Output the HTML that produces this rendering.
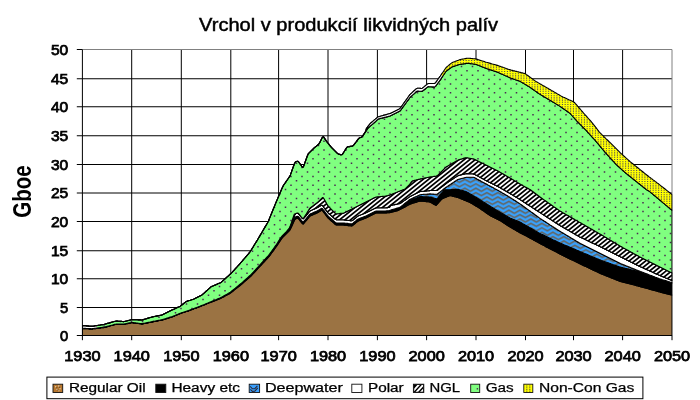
<!DOCTYPE html>
<html><head><meta charset="utf-8"><title>Vrchol v produkcií likvidných palív</title>
<style>html,body{margin:0;padding:0;background:#fff}svg{display:block}
text{font-family:"Liberation Sans",sans-serif;fill:#000}
.b{font-weight:bold}
.m{stroke:#000;stroke-width:0.75px}
.l{stroke:#000;stroke-width:0.25px}
.t{stroke:#000;stroke-width:0.45px}
</style></head><body>
<svg width="700" height="400" viewBox="0 0 700 400">
<defs>
<pattern id="pgas" patternUnits="userSpaceOnUse" width="11" height="44">
<rect width="11" height="44" fill="#80ff80"/>
<path d="M-1.25,-4.00h1.5M9.75,-4.00h1.5M20.75,-4.00h1.5M-6.75,0.40h1.5M4.25,0.40h1.5M15.25,0.40h1.5M-1.25,4.80h1.5M9.75,4.80h1.5M20.75,4.80h1.5M-6.75,9.20h1.5M4.25,9.20h1.5M15.25,9.20h1.5M-1.25,13.60h1.5M9.75,13.60h1.5M20.75,13.60h1.5M-6.75,18.00h1.5M4.25,18.00h1.5M15.25,18.00h1.5M-1.25,22.40h1.5M9.75,22.40h1.5M20.75,22.40h1.5M-6.75,26.80h1.5M4.25,26.80h1.5M15.25,26.80h1.5M-1.25,31.20h1.5M9.75,31.20h1.5M20.75,31.20h1.5M-6.75,35.60h1.5M4.25,35.60h1.5M15.25,35.60h1.5M-1.25,40.00h1.5M9.75,40.00h1.5M20.75,40.00h1.5M-6.75,44.40h1.5M4.25,44.40h1.5M15.25,44.40h1.5" stroke="#4a2a52" stroke-width="1.5" fill="none"/>
</pattern>
<pattern id="pdeep" patternUnits="userSpaceOnUse" width="11" height="22" x="2.85" y="3.4">
<rect width="11" height="22" fill="#38a2ff"/>
<path d="M-5.5,-1.30L0,-4.40L5.5,-1.30L11,-4.40L16.5,-1.30M-5.5,3.10L0,0.00L5.5,3.10L11,0.00L16.5,3.10M-5.5,7.50L0,4.40L5.5,7.50L11,4.40L16.5,7.50M-5.5,11.90L0,8.80L5.5,11.90L11,8.80L16.5,11.90M-5.5,16.30L0,13.20L5.5,16.30L11,13.20L16.5,16.30M-5.5,20.70L0,17.60L5.5,20.70L11,17.60L16.5,20.70M-5.5,25.10L0,22.00L5.5,25.10L11,22.00L16.5,25.10" stroke="#73502c" stroke-width="1.2" stroke-linejoin="round" fill="none"/>
</pattern>
<pattern id="pyel" patternUnits="userSpaceOnUse" width="11" height="11">
<rect width="11" height="11" fill="#ffff00"/>
<path d="M0.90,1.10h1M0.90,3.30h1M0.90,5.50h1M0.90,7.70h1M0.90,9.90h1M3.65,1.10h1M3.65,3.30h1M3.65,5.50h1M3.65,7.70h1M3.65,9.90h1M6.40,1.10h1M6.40,3.30h1M6.40,5.50h1M6.40,7.70h1M6.40,9.90h1M9.15,1.10h1M9.15,3.30h1M9.15,5.50h1M9.15,7.70h1M9.15,9.90h1" stroke="#2a2a66" stroke-opacity="0.9" stroke-width="1.1" fill="none"/>
</pattern>
<clipPath id="cp"><rect x="82" y="40" width="590.5" height="296.3"/></clipPath>
</defs>
<rect width="700" height="400" fill="#fff"/>

<path d="M82.4,307.50H672.0 M82.4,278.75H672.0 M82.4,250.75H672.0 M82.4,221.50H672.0 M82.4,193.00H672.0 M82.4,164.50H672.0 M82.4,135.75H672.0 M82.4,106.75H672.0 M82.4,78.75H672.0 M131.70,49.5V335.5 M181.30,49.5V335.5 M230.80,49.5V335.5 M278.60,49.5V335.5 M328.00,49.5V335.5 M377.40,49.5V335.5 M426.60,49.5V335.5 M476.00,49.5V335.5 M525.50,49.5V335.5 M573.50,49.5V335.5 M622.60,49.5V335.5" stroke="#000" stroke-width="1" fill="none"/>
<path d="M82.4,49.5H672.0V335.5" stroke="#808080" stroke-width="1" fill="none"/>
<g clip-path="url(#cp)" stroke="#000" stroke-width="1.1" stroke-linejoin="round">
<path d="M82.4,328.6 83.4,328.6 84.4,328.7 85.4,328.7 86.4,328.8 87.4,328.8 88.4,328.8 89.4,328.9 90.4,328.9 91.4,329.0 92.4,328.9 93.4,328.8 94.4,328.7 95.4,328.6 96.4,328.4 97.4,328.3 98.4,328.2 99.4,328.1 100.4,327.9 101.4,327.8 102.4,327.7 103.4,327.6 104.4,327.4 105.4,327.1 106.4,326.9 107.4,326.6 108.4,326.3 109.4,326.1 110.4,325.8 111.4,325.5 112.4,325.3 113.4,325.0 114.4,324.7 115.4,324.5 116.4,324.3 117.4,324.3 118.4,324.3 119.4,324.3 120.4,324.3 121.4,324.3 122.4,324.3 123.4,324.3 124.4,324.2 125.4,324.0 126.4,323.8 127.4,323.6 128.4,323.4 129.4,323.2 130.4,323.0 131.4,322.8 132.4,322.8 133.4,322.9 134.4,323.0 135.4,323.1 136.4,323.3 137.4,323.4 138.4,323.5 139.4,323.7 140.4,323.8 141.4,323.9 142.4,323.9 143.4,323.7 144.4,323.5 145.4,323.3 146.4,323.1 147.4,322.9 148.4,322.7 149.4,322.5 150.4,322.3 151.4,322.1 152.4,321.9 153.4,321.7 154.4,321.5 155.4,321.3 156.4,321.1 157.4,320.9 158.4,320.7 159.4,320.5 160.4,320.3 161.4,320.1 162.4,319.9 163.4,319.6 164.4,319.3 165.4,319.0 166.4,318.7 167.4,318.4 168.4,318.1 169.4,317.8 170.4,317.5 171.4,317.2 172.4,316.8 173.4,316.4 174.4,316.0 175.4,315.6 176.4,315.1 177.4,314.7 178.4,314.3 179.4,313.9 180.4,313.5 181.4,313.1 182.4,312.8 183.4,312.5 184.4,312.2 185.4,311.8 186.4,311.5 187.4,311.2 188.4,310.9 189.4,310.5 190.4,310.1 191.4,309.7 192.4,309.4 193.4,309.0 194.4,308.6 195.4,308.2 196.4,307.9 197.4,307.5 198.4,307.1 199.4,306.7 200.4,306.4 201.4,306.0 202.4,305.6 203.4,305.2 204.4,304.8 205.4,304.4 206.4,304.0 207.4,303.6 208.4,303.2 209.4,302.8 210.4,302.5 211.4,302.1 212.4,301.7 213.4,301.3 214.4,300.9 215.4,300.5 216.4,300.1 217.4,299.7 218.4,299.3 219.4,298.9 220.4,298.5 221.4,298.0 222.4,297.4 223.4,296.9 224.4,296.4 225.4,295.8 226.4,295.3 227.4,294.8 228.4,294.2 229.4,293.7 230.4,293.1 231.4,292.3 232.4,291.5 233.4,290.7 234.4,289.9 235.4,289.1 236.4,288.3 237.4,287.5 238.4,286.8 239.4,286.0 240.4,285.2 241.4,284.4 242.4,283.5 243.4,282.6 244.4,281.7 245.4,280.9 246.4,280.0 247.4,279.1 248.4,278.3 249.4,277.4 250.4,276.5 251.4,275.6 252.4,274.5 253.4,273.4 254.4,272.3 255.4,271.3 256.4,270.2 257.4,269.1 258.4,268.0 259.4,266.9 260.4,265.9 261.4,264.8 262.4,263.7 263.4,262.6 264.4,261.6 265.4,260.5 266.4,259.4 267.4,258.3 268.4,257.2 269.4,256.1 270.4,254.7 271.4,253.3 272.4,251.9 273.4,250.6 274.4,249.2 275.4,247.8 276.4,246.4 277.4,244.9 278.4,243.4 279.4,241.9 280.4,240.4 281.4,238.9 282.4,237.6 283.4,236.6 284.4,235.6 285.4,234.6 286.4,233.6 287.4,232.6 288.4,231.6 289.4,230.6 290.4,229.1 291.4,226.9 292.4,224.7 293.4,222.5 294.4,220.3 295.4,218.9 296.4,218.5 297.4,218.2 298.4,218.5 299.4,219.8 300.4,221.1 301.4,222.4 302.4,223.6 303.4,223.9 304.4,222.7 305.4,221.5 306.4,220.3 307.4,219.1 308.4,217.9 309.4,216.7 310.4,215.8 311.4,215.4 312.4,215.0 313.4,214.5 314.4,214.1 315.4,213.7 316.4,213.3 317.4,212.8 318.4,212.2 319.4,211.6 320.4,211.0 321.4,210.4 322.4,210.5 323.4,211.9 324.4,213.2 325.4,214.5 326.4,215.9 327.4,217.2 328.4,218.3 329.4,219.2 330.4,220.1 331.4,221.0 332.4,221.8 333.4,222.7 334.4,223.6 335.4,224.5 336.4,225.0 337.4,225.0 338.4,225.0 339.4,225.0 340.4,225.0 341.4,225.0 342.4,225.0 343.4,225.0 344.4,225.1 345.4,225.2 346.4,225.3 347.4,225.4 348.4,225.6 349.4,225.7 350.4,225.8 351.4,225.9 352.4,225.7 353.4,224.8 354.4,224.0 355.4,223.2 356.4,222.3 357.4,221.5 358.4,220.9 359.4,220.5 360.4,220.1 361.4,219.7 362.4,219.4 363.4,219.0 364.4,218.6 365.4,218.2 366.4,217.8 367.4,217.3 368.4,216.8 369.4,216.3 370.4,215.8 371.4,215.3 372.4,214.8 373.4,214.3 374.4,213.8 375.4,213.3 376.4,213.0 377.4,213.0 378.4,213.0 379.4,213.0 380.4,213.0 381.4,213.0 382.4,213.0 383.4,213.0 384.4,213.0 385.4,213.0 386.4,212.9 387.4,212.8 388.4,212.7 389.4,212.6 390.4,212.4 391.4,212.2 392.4,211.9 393.4,211.7 394.4,211.4 395.4,211.2 396.4,210.9 397.4,210.7 398.4,210.3 399.4,209.8 400.4,209.3 401.4,208.8 402.4,208.3 403.4,207.8 404.4,207.3 405.4,206.7 406.4,206.1 407.4,205.5 408.4,204.9 409.4,204.4 410.4,203.9 411.4,203.6 412.4,203.3 413.4,203.0 414.4,202.7 415.4,202.4 416.4,202.1 417.4,201.8 418.4,201.5 419.4,201.2 420.4,201.0 421.4,201.1 422.4,201.2 423.4,201.3 424.4,201.4 425.4,201.5 426.4,201.6 427.4,201.7 428.4,201.8 429.4,201.9 430.4,202.2 431.4,202.8 432.4,203.4 433.4,204.0 434.4,204.6 435.4,205.1 436.4,205.1 437.4,203.9 438.4,202.8 439.4,201.7 440.4,200.6 441.4,199.5 442.4,198.6 443.4,198.2 444.4,197.8 445.4,197.4 446.4,197.0 447.4,196.6 448.4,196.2 449.4,195.7 450.4,195.6 451.4,195.8 452.4,196.1 453.4,196.3 454.4,196.6 455.4,196.8 456.4,197.1 457.4,197.3 458.4,197.7 459.4,198.1 460.4,198.5 461.4,198.9 462.4,199.3 463.4,199.8 464.4,200.2 465.4,200.6 466.4,201.0 467.4,201.4 468.4,201.8 469.4,202.2 470.4,202.7 471.4,203.3 472.4,203.9 473.4,204.5 474.4,205.1 475.4,205.7 476.4,206.3 477.4,206.9 478.4,207.5 479.4,208.1 480.4,208.8 481.4,209.5 482.4,210.2 483.4,210.9 484.4,211.6 485.4,212.3 486.4,213.0 487.4,213.7 488.4,214.4 489.4,215.1 490.4,215.7 491.4,216.2 492.4,216.7 493.4,217.2 494.4,217.7 495.4,218.2 496.4,218.7 497.4,219.2 498.4,219.7 499.4,220.2 500.4,220.8 501.4,221.4 502.4,222.1 503.4,222.7 504.4,223.4 505.4,224.0 506.4,224.7 507.4,225.3 508.4,226.0 509.4,226.6 510.4,227.2 511.4,227.8 512.4,228.4 513.4,229.0 514.4,229.6 515.4,230.1 516.4,230.7 517.4,231.3 518.4,231.9 519.4,232.5 520.4,233.0 521.4,233.5 522.4,234.0 523.4,234.6 524.4,235.1 525.4,235.6 526.4,236.1 527.4,236.6 528.4,237.2 529.4,237.7 530.4,238.2 531.4,238.8 532.4,239.3 533.4,239.9 534.4,240.4 535.4,241.0 536.4,241.5 537.4,242.1 538.4,242.6 539.4,243.2 540.4,243.7 541.4,244.2 542.4,244.8 543.4,245.3 544.4,245.8 545.4,246.4 546.4,246.9 547.4,247.4 548.4,248.0 549.4,248.5 550.4,249.0 551.4,249.5 552.4,250.0 553.4,250.6 554.4,251.1 555.4,251.6 556.4,252.1 557.4,252.6 558.4,253.2 559.4,253.7 560.4,254.2 561.4,254.7 562.4,255.2 563.4,255.7 564.4,256.2 565.4,256.7 566.4,257.2 567.4,257.7 568.4,258.2 569.4,258.7 570.4,259.2 571.4,259.7 572.4,260.1 573.4,260.6 574.4,261.1 575.4,261.5 576.4,262.0 577.4,262.5 578.4,262.9 579.4,263.4 580.4,263.9 581.4,264.4 582.4,264.9 583.4,265.4 584.4,265.9 585.4,266.3 586.4,266.8 587.4,267.3 588.4,267.8 589.4,268.3 590.4,268.8 591.4,269.3 592.4,269.7 593.4,270.2 594.4,270.7 595.4,271.1 596.4,271.6 597.4,272.1 598.4,272.5 599.4,273.0 600.4,273.5 601.4,273.9 602.4,274.3 603.4,274.7 604.4,275.1 605.4,275.5 606.4,275.9 607.4,276.3 608.4,276.7 609.4,277.1 610.4,277.5 611.4,277.9 612.4,278.3 613.4,278.7 614.4,279.1 615.4,279.5 616.4,279.9 617.4,280.3 618.4,280.7 619.4,281.1 620.4,281.4 621.4,281.7 622.4,281.9 623.4,282.2 624.4,282.4 625.4,282.7 626.4,283.0 627.4,283.2 628.4,283.5 629.4,283.7 630.4,284.0 631.4,284.3 632.4,284.5 633.4,284.8 634.4,285.0 635.4,285.3 636.4,285.6 637.4,285.8 638.4,286.1 639.4,286.3 640.4,286.6 641.4,286.9 642.4,287.2 643.4,287.4 644.4,287.7 645.4,288.0 646.4,288.3 647.4,288.5 648.4,288.8 649.4,289.1 650.4,289.4 651.4,289.6 652.4,289.9 653.4,290.2 654.4,290.5 655.4,290.7 656.4,291.0 657.4,291.3 658.4,291.6 659.4,291.8 660.4,292.1 661.4,292.4 662.4,292.6 663.4,292.9 664.4,293.1 665.4,293.4 666.4,293.6 667.4,293.9 668.4,294.1 669.4,294.4 670.4,294.6 672.0,295.0 L672.0,335.5 670.4,335.5 669.4,335.5 668.4,335.5 667.4,335.5 666.4,335.5 665.4,335.5 664.4,335.5 663.4,335.5 662.4,335.5 661.4,335.5 660.4,335.5 659.4,335.5 658.4,335.5 657.4,335.5 656.4,335.5 655.4,335.5 654.4,335.5 653.4,335.5 652.4,335.5 651.4,335.5 650.4,335.5 649.4,335.5 648.4,335.5 647.4,335.5 646.4,335.5 645.4,335.5 644.4,335.5 643.4,335.5 642.4,335.5 641.4,335.5 640.4,335.5 639.4,335.5 638.4,335.5 637.4,335.5 636.4,335.5 635.4,335.5 634.4,335.5 633.4,335.5 632.4,335.5 631.4,335.5 630.4,335.5 629.4,335.5 628.4,335.5 627.4,335.5 626.4,335.5 625.4,335.5 624.4,335.5 623.4,335.5 622.4,335.5 621.4,335.5 620.4,335.5 619.4,335.5 618.4,335.5 617.4,335.5 616.4,335.5 615.4,335.5 614.4,335.5 613.4,335.5 612.4,335.5 611.4,335.5 610.4,335.5 609.4,335.5 608.4,335.5 607.4,335.5 606.4,335.5 605.4,335.5 604.4,335.5 603.4,335.5 602.4,335.5 601.4,335.5 600.4,335.5 599.4,335.5 598.4,335.5 597.4,335.5 596.4,335.5 595.4,335.5 594.4,335.5 593.4,335.5 592.4,335.5 591.4,335.5 590.4,335.5 589.4,335.5 588.4,335.5 587.4,335.5 586.4,335.5 585.4,335.5 584.4,335.5 583.4,335.5 582.4,335.5 581.4,335.5 580.4,335.5 579.4,335.5 578.4,335.5 577.4,335.5 576.4,335.5 575.4,335.5 574.4,335.5 573.4,335.5 572.4,335.5 571.4,335.5 570.4,335.5 569.4,335.5 568.4,335.5 567.4,335.5 566.4,335.5 565.4,335.5 564.4,335.5 563.4,335.5 562.4,335.5 561.4,335.5 560.4,335.5 559.4,335.5 558.4,335.5 557.4,335.5 556.4,335.5 555.4,335.5 554.4,335.5 553.4,335.5 552.4,335.5 551.4,335.5 550.4,335.5 549.4,335.5 548.4,335.5 547.4,335.5 546.4,335.5 545.4,335.5 544.4,335.5 543.4,335.5 542.4,335.5 541.4,335.5 540.4,335.5 539.4,335.5 538.4,335.5 537.4,335.5 536.4,335.5 535.4,335.5 534.4,335.5 533.4,335.5 532.4,335.5 531.4,335.5 530.4,335.5 529.4,335.5 528.4,335.5 527.4,335.5 526.4,335.5 525.4,335.5 524.4,335.5 523.4,335.5 522.4,335.5 521.4,335.5 520.4,335.5 519.4,335.5 518.4,335.5 517.4,335.5 516.4,335.5 515.4,335.5 514.4,335.5 513.4,335.5 512.4,335.5 511.4,335.5 510.4,335.5 509.4,335.5 508.4,335.5 507.4,335.5 506.4,335.5 505.4,335.5 504.4,335.5 503.4,335.5 502.4,335.5 501.4,335.5 500.4,335.5 499.4,335.5 498.4,335.5 497.4,335.5 496.4,335.5 495.4,335.5 494.4,335.5 493.4,335.5 492.4,335.5 491.4,335.5 490.4,335.5 489.4,335.5 488.4,335.5 487.4,335.5 486.4,335.5 485.4,335.5 484.4,335.5 483.4,335.5 482.4,335.5 481.4,335.5 480.4,335.5 479.4,335.5 478.4,335.5 477.4,335.5 476.4,335.5 475.4,335.5 474.4,335.5 473.4,335.5 472.4,335.5 471.4,335.5 470.4,335.5 469.4,335.5 468.4,335.5 467.4,335.5 466.4,335.5 465.4,335.5 464.4,335.5 463.4,335.5 462.4,335.5 461.4,335.5 460.4,335.5 459.4,335.5 458.4,335.5 457.4,335.5 456.4,335.5 455.4,335.5 454.4,335.5 453.4,335.5 452.4,335.5 451.4,335.5 450.4,335.5 449.4,335.5 448.4,335.5 447.4,335.5 446.4,335.5 445.4,335.5 444.4,335.5 443.4,335.5 442.4,335.5 441.4,335.5 440.4,335.5 439.4,335.5 438.4,335.5 437.4,335.5 436.4,335.5 435.4,335.5 434.4,335.5 433.4,335.5 432.4,335.5 431.4,335.5 430.4,335.5 429.4,335.5 428.4,335.5 427.4,335.5 426.4,335.5 425.4,335.5 424.4,335.5 423.4,335.5 422.4,335.5 421.4,335.5 420.4,335.5 419.4,335.5 418.4,335.5 417.4,335.5 416.4,335.5 415.4,335.5 414.4,335.5 413.4,335.5 412.4,335.5 411.4,335.5 410.4,335.5 409.4,335.5 408.4,335.5 407.4,335.5 406.4,335.5 405.4,335.5 404.4,335.5 403.4,335.5 402.4,335.5 401.4,335.5 400.4,335.5 399.4,335.5 398.4,335.5 397.4,335.5 396.4,335.5 395.4,335.5 394.4,335.5 393.4,335.5 392.4,335.5 391.4,335.5 390.4,335.5 389.4,335.5 388.4,335.5 387.4,335.5 386.4,335.5 385.4,335.5 384.4,335.5 383.4,335.5 382.4,335.5 381.4,335.5 380.4,335.5 379.4,335.5 378.4,335.5 377.4,335.5 376.4,335.5 375.4,335.5 374.4,335.5 373.4,335.5 372.4,335.5 371.4,335.5 370.4,335.5 369.4,335.5 368.4,335.5 367.4,335.5 366.4,335.5 365.4,335.5 364.4,335.5 363.4,335.5 362.4,335.5 361.4,335.5 360.4,335.5 359.4,335.5 358.4,335.5 357.4,335.5 356.4,335.5 355.4,335.5 354.4,335.5 353.4,335.5 352.4,335.5 351.4,335.5 350.4,335.5 349.4,335.5 348.4,335.5 347.4,335.5 346.4,335.5 345.4,335.5 344.4,335.5 343.4,335.5 342.4,335.5 341.4,335.5 340.4,335.5 339.4,335.5 338.4,335.5 337.4,335.5 336.4,335.5 335.4,335.5 334.4,335.5 333.4,335.5 332.4,335.5 331.4,335.5 330.4,335.5 329.4,335.5 328.4,335.5 327.4,335.5 326.4,335.5 325.4,335.5 324.4,335.5 323.4,335.5 322.4,335.5 321.4,335.5 320.4,335.5 319.4,335.5 318.4,335.5 317.4,335.5 316.4,335.5 315.4,335.5 314.4,335.5 313.4,335.5 312.4,335.5 311.4,335.5 310.4,335.5 309.4,335.5 308.4,335.5 307.4,335.5 306.4,335.5 305.4,335.5 304.4,335.5 303.4,335.5 302.4,335.5 301.4,335.5 300.4,335.5 299.4,335.5 298.4,335.5 297.4,335.5 296.4,335.5 295.4,335.5 294.4,335.5 293.4,335.5 292.4,335.5 291.4,335.5 290.4,335.5 289.4,335.5 288.4,335.5 287.4,335.5 286.4,335.5 285.4,335.5 284.4,335.5 283.4,335.5 282.4,335.5 281.4,335.5 280.4,335.5 279.4,335.5 278.4,335.5 277.4,335.5 276.4,335.5 275.4,335.5 274.4,335.5 273.4,335.5 272.4,335.5 271.4,335.5 270.4,335.5 269.4,335.5 268.4,335.5 267.4,335.5 266.4,335.5 265.4,335.5 264.4,335.5 263.4,335.5 262.4,335.5 261.4,335.5 260.4,335.5 259.4,335.5 258.4,335.5 257.4,335.5 256.4,335.5 255.4,335.5 254.4,335.5 253.4,335.5 252.4,335.5 251.4,335.5 250.4,335.5 249.4,335.5 248.4,335.5 247.4,335.5 246.4,335.5 245.4,335.5 244.4,335.5 243.4,335.5 242.4,335.5 241.4,335.5 240.4,335.5 239.4,335.5 238.4,335.5 237.4,335.5 236.4,335.5 235.4,335.5 234.4,335.5 233.4,335.5 232.4,335.5 231.4,335.5 230.4,335.5 229.4,335.5 228.4,335.5 227.4,335.5 226.4,335.5 225.4,335.5 224.4,335.5 223.4,335.5 222.4,335.5 221.4,335.5 220.4,335.5 219.4,335.5 218.4,335.5 217.4,335.5 216.4,335.5 215.4,335.5 214.4,335.5 213.4,335.5 212.4,335.5 211.4,335.5 210.4,335.5 209.4,335.5 208.4,335.5 207.4,335.5 206.4,335.5 205.4,335.5 204.4,335.5 203.4,335.5 202.4,335.5 201.4,335.5 200.4,335.5 199.4,335.5 198.4,335.5 197.4,335.5 196.4,335.5 195.4,335.5 194.4,335.5 193.4,335.5 192.4,335.5 191.4,335.5 190.4,335.5 189.4,335.5 188.4,335.5 187.4,335.5 186.4,335.5 185.4,335.5 184.4,335.5 183.4,335.5 182.4,335.5 181.4,335.5 180.4,335.5 179.4,335.5 178.4,335.5 177.4,335.5 176.4,335.5 175.4,335.5 174.4,335.5 173.4,335.5 172.4,335.5 171.4,335.5 170.4,335.5 169.4,335.5 168.4,335.5 167.4,335.5 166.4,335.5 165.4,335.5 164.4,335.5 163.4,335.5 162.4,335.5 161.4,335.5 160.4,335.5 159.4,335.5 158.4,335.5 157.4,335.5 156.4,335.5 155.4,335.5 154.4,335.5 153.4,335.5 152.4,335.5 151.4,335.5 150.4,335.5 149.4,335.5 148.4,335.5 147.4,335.5 146.4,335.5 145.4,335.5 144.4,335.5 143.4,335.5 142.4,335.5 141.4,335.5 140.4,335.5 139.4,335.5 138.4,335.5 137.4,335.5 136.4,335.5 135.4,335.5 134.4,335.5 133.4,335.5 132.4,335.5 131.4,335.5 130.4,335.5 129.4,335.5 128.4,335.5 127.4,335.5 126.4,335.5 125.4,335.5 124.4,335.5 123.4,335.5 122.4,335.5 121.4,335.5 120.4,335.5 119.4,335.5 118.4,335.5 117.4,335.5 116.4,335.5 115.4,335.5 114.4,335.5 113.4,335.5 112.4,335.5 111.4,335.5 110.4,335.5 109.4,335.5 108.4,335.5 107.4,335.5 106.4,335.5 105.4,335.5 104.4,335.5 103.4,335.5 102.4,335.5 101.4,335.5 100.4,335.5 99.4,335.5 98.4,335.5 97.4,335.5 96.4,335.5 95.4,335.5 94.4,335.5 93.4,335.5 92.4,335.5 91.4,335.5 90.4,335.5 89.4,335.5 88.4,335.5 87.4,335.5 86.4,335.5 85.4,335.5 84.4,335.5 83.4,335.5 82.4,335.5Z" fill="#9b7343"/>
<path d="M82.4,328.3 83.4,328.3 84.4,328.4 85.4,328.4 86.4,328.5 87.4,328.5 88.4,328.5 89.4,328.6 90.4,328.6 91.4,328.7 92.4,328.6 93.4,328.5 94.4,328.4 95.4,328.3 96.4,328.1 97.4,328.0 98.4,327.9 99.4,327.8 100.4,327.6 101.4,327.5 102.4,327.4 103.4,327.3 104.4,327.1 105.4,326.8 106.4,326.6 107.4,326.3 108.4,326.0 109.4,325.8 110.4,325.5 111.4,325.2 112.4,325.0 113.4,324.7 114.4,324.4 115.4,324.2 116.4,324.0 117.4,324.0 118.4,324.0 119.4,324.0 120.4,324.0 121.4,324.0 122.4,324.0 123.4,324.0 124.4,323.9 125.4,323.7 126.4,323.5 127.4,323.3 128.4,323.1 129.4,322.9 130.4,322.7 131.4,322.5 132.4,322.5 133.4,322.6 134.4,322.7 135.4,322.8 136.4,323.0 137.4,323.1 138.4,323.2 139.4,323.4 140.4,323.5 141.4,323.6 142.4,323.6 143.4,323.4 144.4,323.2 145.4,323.0 146.4,322.8 147.4,322.6 148.4,322.4 149.4,322.2 150.4,322.0 151.4,321.8 152.4,321.6 153.4,321.4 154.4,321.2 155.4,321.0 156.4,320.8 157.4,320.6 158.4,320.4 159.4,320.2 160.4,320.0 161.4,319.8 162.4,319.6 163.4,319.3 164.4,319.0 165.4,318.7 166.4,318.4 167.4,318.1 168.4,317.8 169.4,317.5 170.4,317.2 171.4,316.9 172.4,316.5 173.4,316.1 174.4,315.7 175.4,315.3 176.4,314.8 177.4,314.4 178.4,314.0 179.4,313.6 180.4,313.2 181.4,312.8 182.4,312.5 183.4,312.2 184.4,311.9 185.4,311.5 186.4,311.2 187.4,310.9 188.4,310.6 189.4,310.2 190.4,309.8 191.4,309.4 192.4,309.1 193.4,308.7 194.4,308.3 195.4,307.9 196.4,307.6 197.4,307.2 198.4,306.8 199.4,306.4 200.4,306.0 201.4,305.6 202.4,305.2 203.4,304.9 204.4,304.4 205.4,304.0 206.4,303.6 207.4,303.2 208.4,302.8 209.4,302.3 210.4,301.9 211.4,301.5 212.4,301.1 213.4,300.7 214.4,300.3 215.4,299.9 216.4,299.5 217.4,299.0 218.4,298.6 219.4,298.2 220.4,297.8 221.4,297.2 222.4,296.7 223.4,296.1 224.4,295.5 225.4,295.0 226.4,294.4 227.4,293.9 228.4,293.3 229.4,292.8 230.4,292.1 231.4,291.3 232.4,290.5 233.4,289.7 234.4,288.9 235.4,288.1 236.4,287.3 237.4,286.5 238.4,285.6 239.4,284.8 240.4,284.0 241.4,283.2 242.4,282.3 243.4,281.4 244.4,280.5 245.4,279.6 246.4,278.7 247.4,277.8 248.4,276.9 249.4,276.0 250.4,275.2 251.4,274.2 252.4,273.1 253.4,272.0 254.4,270.9 255.4,269.8 256.4,268.7 257.4,267.6 258.4,266.5 259.4,265.4 260.4,264.3 261.4,263.2 262.4,262.1 263.4,261.0 264.4,259.9 265.4,258.8 266.4,257.7 267.4,256.6 268.4,255.5 269.4,254.3 270.4,252.9 271.4,251.5 272.4,250.1 273.4,248.7 274.4,247.3 275.4,245.9 276.4,244.5 277.4,243.0 278.4,241.4 279.4,239.9 280.4,238.4 281.4,236.9 282.4,235.6 283.4,234.6 284.4,233.6 285.4,232.6 286.4,231.6 287.4,230.6 288.4,229.6 289.4,228.6 290.4,227.1 291.4,224.9 292.4,222.7 293.4,220.5 294.4,218.3 295.4,216.9 296.4,216.5 297.4,216.2 298.4,216.5 299.4,217.8 300.4,219.1 301.4,220.4 302.4,221.6 303.4,221.9 304.4,220.7 305.4,219.5 306.4,218.3 307.4,217.1 308.4,215.9 309.4,214.7 310.4,213.8 311.4,213.4 312.4,213.0 313.4,212.5 314.4,212.1 315.4,211.7 316.4,211.3 317.4,210.8 318.4,210.2 319.4,209.6 320.4,209.0 321.4,208.4 322.4,208.5 323.4,209.9 324.4,211.2 325.4,212.5 326.4,213.9 327.4,215.2 328.4,216.3 329.4,217.2 330.4,218.1 331.4,219.0 332.4,219.8 333.4,220.7 334.4,221.6 335.4,222.5 336.4,223.0 337.4,223.0 338.4,223.0 339.4,223.0 340.4,223.0 341.4,223.0 342.4,223.0 343.4,223.0 344.4,223.1 345.4,223.2 346.4,223.3 347.4,223.4 348.4,223.6 349.4,223.7 350.4,223.8 351.4,223.9 352.4,223.7 353.4,222.8 354.4,222.0 355.4,221.2 356.4,220.3 357.4,219.5 358.4,218.9 359.4,218.5 360.4,218.1 361.4,217.7 362.4,217.4 363.4,217.0 364.4,216.6 365.4,216.2 366.4,215.8 367.4,215.3 368.4,214.8 369.4,214.3 370.4,213.8 371.4,213.3 372.4,212.8 373.4,212.3 374.4,211.8 375.4,211.3 376.4,211.0 377.4,211.0 378.4,211.0 379.4,211.0 380.4,211.0 381.4,211.0 382.4,211.0 383.4,211.0 384.4,211.0 385.4,211.0 386.4,210.9 387.4,210.8 388.4,210.7 389.4,210.6 390.4,210.4 391.4,210.1 392.4,209.8 393.4,209.5 394.4,209.2 395.4,208.9 396.4,208.6 397.4,208.3 398.4,208.0 399.4,207.7 400.4,207.2 401.4,206.5 402.4,205.8 403.4,205.1 404.4,204.4 405.4,203.7 406.4,203.0 407.4,202.3 408.4,201.6 409.4,200.9 410.4,200.3 411.4,199.9 412.4,199.5 413.4,199.1 414.4,198.7 415.4,198.3 416.4,197.9 417.4,197.5 418.4,197.1 419.4,196.7 420.4,196.5 421.4,196.6 422.4,196.6 423.4,196.7 424.4,196.7 425.4,196.8 426.4,196.8 427.4,196.9 428.4,196.9 429.4,197.0 430.4,197.1 431.4,197.4 432.4,197.7 433.4,198.0 434.4,198.3 435.4,198.5 436.4,198.8 437.4,198.5 438.4,197.2 439.4,195.9 440.4,194.6 441.4,193.3 442.4,192.1 443.4,190.8 444.4,190.0 445.4,189.9 446.4,189.9 447.4,189.8 448.4,189.8 449.4,189.7 450.4,189.7 451.4,189.6 452.4,189.6 453.4,189.5 454.4,189.5 455.4,189.4 456.4,189.4 457.4,189.3 458.4,189.4 459.4,189.7 460.4,190.0 461.4,190.2 462.4,190.5 463.4,190.8 464.4,191.1 465.4,191.3 466.4,191.7 467.4,192.3 468.4,192.8 469.4,193.4 470.4,194.0 471.4,194.5 472.4,195.1 473.4,195.7 474.4,196.2 475.4,196.9 476.4,197.5 477.4,198.1 478.4,198.8 479.4,199.4 480.4,200.0 481.4,200.6 482.4,201.2 483.4,201.9 484.4,202.5 485.4,203.1 486.4,203.8 487.4,204.4 488.4,205.0 489.4,205.6 490.4,206.2 491.4,206.9 492.4,207.5 493.4,208.1 494.4,208.8 495.4,209.4 496.4,210.0 497.4,210.6 498.4,211.2 499.4,211.8 500.4,212.4 501.4,213.0 502.4,213.6 503.4,214.1 504.4,214.7 505.4,215.3 506.4,215.9 507.4,216.5 508.4,217.1 509.4,217.6 510.4,218.2 511.4,218.6 512.4,219.0 513.4,219.4 514.4,219.8 515.4,220.2 516.4,220.6 517.4,221.0 518.4,221.4 519.4,221.8 520.4,222.2 521.4,222.8 522.4,223.4 523.4,224.0 524.4,224.5 525.4,225.1 526.4,225.7 527.4,226.3 528.4,226.8 529.4,227.4 530.4,228.0 531.4,228.6 532.4,229.1 533.4,229.7 534.4,230.3 535.4,230.9 536.4,231.4 537.4,232.0 538.4,232.6 539.4,233.2 540.4,233.7 541.4,234.2 542.4,234.6 543.4,235.1 544.4,235.6 545.4,236.1 546.4,236.5 547.4,237.0 548.4,237.5 549.4,238.0 550.4,238.4 551.4,238.9 552.4,239.4 553.4,239.9 554.4,240.3 555.4,240.8 556.4,241.3 557.4,241.8 558.4,242.2 559.4,242.7 560.4,243.2 561.4,243.6 562.4,244.0 563.4,244.4 564.4,244.9 565.4,245.3 566.4,245.7 567.4,246.1 568.4,246.6 569.4,247.0 570.4,247.4 571.4,247.8 572.4,248.3 573.4,248.7 574.4,249.1 575.4,249.5 576.4,250.0 577.4,250.4 578.4,250.8 579.4,251.2 580.4,251.7 581.4,252.1 582.4,252.5 583.4,252.9 584.4,253.4 585.4,253.8 586.4,254.2 587.4,254.6 588.4,255.1 589.4,255.5 590.4,255.9 591.4,256.3 592.4,256.8 593.4,257.2 594.4,257.6 595.4,258.0 596.4,258.5 597.4,258.9 598.4,259.3 599.4,259.7 600.4,260.1 601.4,260.5 602.4,260.8 603.4,261.2 604.4,261.5 605.4,261.9 606.4,262.2 607.4,262.6 608.4,262.9 609.4,263.3 610.4,263.6 611.4,264.0 612.4,264.3 613.4,264.7 614.4,265.0 615.4,265.4 616.4,265.7 617.4,266.1 618.4,266.4 619.4,266.8 620.4,267.1 621.4,267.4 622.4,267.6 623.4,267.9 624.4,268.1 625.4,268.4 626.4,268.6 627.4,268.9 628.4,269.1 629.4,269.4 630.4,269.6 631.4,269.9 632.4,270.1 633.4,270.4 634.4,270.6 635.4,270.9 636.4,271.1 637.4,271.4 638.4,271.6 639.4,271.9 640.4,272.1 641.4,272.5 642.4,272.8 643.4,273.2 644.4,273.5 645.4,273.9 646.4,274.2 647.4,274.6 648.4,274.9 649.4,275.3 650.4,275.6 651.4,276.0 652.4,276.3 653.4,276.7 654.4,277.0 655.4,277.4 656.4,277.7 657.4,278.1 658.4,278.4 659.4,278.8 660.4,279.1 661.4,279.5 662.4,279.8 663.4,280.1 664.4,280.5 665.4,280.8 666.4,281.1 667.4,281.5 668.4,281.8 669.4,282.1 670.4,282.5 672.0,283.0 L672.0,295.0 670.4,294.6 669.4,294.4 668.4,294.1 667.4,293.9 666.4,293.6 665.4,293.4 664.4,293.1 663.4,292.9 662.4,292.6 661.4,292.4 660.4,292.1 659.4,291.8 658.4,291.6 657.4,291.3 656.4,291.0 655.4,290.7 654.4,290.5 653.4,290.2 652.4,289.9 651.4,289.6 650.4,289.4 649.4,289.1 648.4,288.8 647.4,288.5 646.4,288.3 645.4,288.0 644.4,287.7 643.4,287.4 642.4,287.2 641.4,286.9 640.4,286.6 639.4,286.3 638.4,286.1 637.4,285.8 636.4,285.6 635.4,285.3 634.4,285.0 633.4,284.8 632.4,284.5 631.4,284.3 630.4,284.0 629.4,283.7 628.4,283.5 627.4,283.2 626.4,283.0 625.4,282.7 624.4,282.4 623.4,282.2 622.4,281.9 621.4,281.7 620.4,281.4 619.4,281.1 618.4,280.7 617.4,280.3 616.4,279.9 615.4,279.5 614.4,279.1 613.4,278.7 612.4,278.3 611.4,277.9 610.4,277.5 609.4,277.1 608.4,276.7 607.4,276.3 606.4,275.9 605.4,275.5 604.4,275.1 603.4,274.7 602.4,274.3 601.4,273.9 600.4,273.5 599.4,273.0 598.4,272.5 597.4,272.1 596.4,271.6 595.4,271.1 594.4,270.7 593.4,270.2 592.4,269.7 591.4,269.3 590.4,268.8 589.4,268.3 588.4,267.8 587.4,267.3 586.4,266.8 585.4,266.3 584.4,265.9 583.4,265.4 582.4,264.9 581.4,264.4 580.4,263.9 579.4,263.4 578.4,262.9 577.4,262.5 576.4,262.0 575.4,261.5 574.4,261.1 573.4,260.6 572.4,260.1 571.4,259.7 570.4,259.2 569.4,258.7 568.4,258.2 567.4,257.7 566.4,257.2 565.4,256.7 564.4,256.2 563.4,255.7 562.4,255.2 561.4,254.7 560.4,254.2 559.4,253.7 558.4,253.2 557.4,252.6 556.4,252.1 555.4,251.6 554.4,251.1 553.4,250.6 552.4,250.0 551.4,249.5 550.4,249.0 549.4,248.5 548.4,248.0 547.4,247.4 546.4,246.9 545.4,246.4 544.4,245.8 543.4,245.3 542.4,244.8 541.4,244.2 540.4,243.7 539.4,243.2 538.4,242.6 537.4,242.1 536.4,241.5 535.4,241.0 534.4,240.4 533.4,239.9 532.4,239.3 531.4,238.8 530.4,238.2 529.4,237.7 528.4,237.2 527.4,236.6 526.4,236.1 525.4,235.6 524.4,235.1 523.4,234.6 522.4,234.0 521.4,233.5 520.4,233.0 519.4,232.5 518.4,231.9 517.4,231.3 516.4,230.7 515.4,230.1 514.4,229.6 513.4,229.0 512.4,228.4 511.4,227.8 510.4,227.2 509.4,226.6 508.4,226.0 507.4,225.3 506.4,224.7 505.4,224.0 504.4,223.4 503.4,222.7 502.4,222.1 501.4,221.4 500.4,220.8 499.4,220.2 498.4,219.7 497.4,219.2 496.4,218.7 495.4,218.2 494.4,217.7 493.4,217.2 492.4,216.7 491.4,216.2 490.4,215.7 489.4,215.1 488.4,214.4 487.4,213.7 486.4,213.0 485.4,212.3 484.4,211.6 483.4,210.9 482.4,210.2 481.4,209.5 480.4,208.8 479.4,208.1 478.4,207.5 477.4,206.9 476.4,206.3 475.4,205.7 474.4,205.1 473.4,204.5 472.4,203.9 471.4,203.3 470.4,202.7 469.4,202.2 468.4,201.8 467.4,201.4 466.4,201.0 465.4,200.6 464.4,200.2 463.4,199.8 462.4,199.3 461.4,198.9 460.4,198.5 459.4,198.1 458.4,197.7 457.4,197.3 456.4,197.1 455.4,196.8 454.4,196.6 453.4,196.3 452.4,196.1 451.4,195.8 450.4,195.6 449.4,195.7 448.4,196.2 447.4,196.6 446.4,197.0 445.4,197.4 444.4,197.8 443.4,198.2 442.4,198.6 441.4,199.5 440.4,200.6 439.4,201.7 438.4,202.8 437.4,203.9 436.4,205.1 435.4,205.1 434.4,204.6 433.4,204.0 432.4,203.4 431.4,202.8 430.4,202.2 429.4,201.9 428.4,201.8 427.4,201.7 426.4,201.6 425.4,201.5 424.4,201.4 423.4,201.3 422.4,201.2 421.4,201.1 420.4,201.0 419.4,201.2 418.4,201.5 417.4,201.8 416.4,202.1 415.4,202.4 414.4,202.7 413.4,203.0 412.4,203.3 411.4,203.6 410.4,203.9 409.4,204.4 408.4,204.9 407.4,205.5 406.4,206.1 405.4,206.7 404.4,207.3 403.4,207.8 402.4,208.3 401.4,208.8 400.4,209.3 399.4,209.8 398.4,210.3 397.4,210.7 396.4,210.9 395.4,211.2 394.4,211.4 393.4,211.7 392.4,211.9 391.4,212.2 390.4,212.4 389.4,212.6 388.4,212.7 387.4,212.8 386.4,212.9 385.4,213.0 384.4,213.0 383.4,213.0 382.4,213.0 381.4,213.0 380.4,213.0 379.4,213.0 378.4,213.0 377.4,213.0 376.4,213.0 375.4,213.3 374.4,213.8 373.4,214.3 372.4,214.8 371.4,215.3 370.4,215.8 369.4,216.3 368.4,216.8 367.4,217.3 366.4,217.8 365.4,218.2 364.4,218.6 363.4,219.0 362.4,219.4 361.4,219.7 360.4,220.1 359.4,220.5 358.4,220.9 357.4,221.5 356.4,222.3 355.4,223.2 354.4,224.0 353.4,224.8 352.4,225.7 351.4,225.9 350.4,225.8 349.4,225.7 348.4,225.6 347.4,225.4 346.4,225.3 345.4,225.2 344.4,225.1 343.4,225.0 342.4,225.0 341.4,225.0 340.4,225.0 339.4,225.0 338.4,225.0 337.4,225.0 336.4,225.0 335.4,224.5 334.4,223.6 333.4,222.7 332.4,221.8 331.4,221.0 330.4,220.1 329.4,219.2 328.4,218.3 327.4,217.2 326.4,215.9 325.4,214.5 324.4,213.2 323.4,211.9 322.4,210.5 321.4,210.4 320.4,211.0 319.4,211.6 318.4,212.2 317.4,212.8 316.4,213.3 315.4,213.7 314.4,214.1 313.4,214.5 312.4,215.0 311.4,215.4 310.4,215.8 309.4,216.7 308.4,217.9 307.4,219.1 306.4,220.3 305.4,221.5 304.4,222.7 303.4,223.9 302.4,223.6 301.4,222.4 300.4,221.1 299.4,219.8 298.4,218.5 297.4,218.2 296.4,218.5 295.4,218.9 294.4,220.3 293.4,222.5 292.4,224.7 291.4,226.9 290.4,229.1 289.4,230.6 288.4,231.6 287.4,232.6 286.4,233.6 285.4,234.6 284.4,235.6 283.4,236.6 282.4,237.6 281.4,238.9 280.4,240.4 279.4,241.9 278.4,243.4 277.4,244.9 276.4,246.4 275.4,247.8 274.4,249.2 273.4,250.6 272.4,251.9 271.4,253.3 270.4,254.7 269.4,256.1 268.4,257.2 267.4,258.3 266.4,259.4 265.4,260.5 264.4,261.6 263.4,262.6 262.4,263.7 261.4,264.8 260.4,265.9 259.4,266.9 258.4,268.0 257.4,269.1 256.4,270.2 255.4,271.3 254.4,272.3 253.4,273.4 252.4,274.5 251.4,275.6 250.4,276.5 249.4,277.4 248.4,278.3 247.4,279.1 246.4,280.0 245.4,280.9 244.4,281.7 243.4,282.6 242.4,283.5 241.4,284.4 240.4,285.2 239.4,286.0 238.4,286.8 237.4,287.5 236.4,288.3 235.4,289.1 234.4,289.9 233.4,290.7 232.4,291.5 231.4,292.3 230.4,293.1 229.4,293.7 228.4,294.2 227.4,294.8 226.4,295.3 225.4,295.8 224.4,296.4 223.4,296.9 222.4,297.4 221.4,298.0 220.4,298.5 219.4,298.9 218.4,299.3 217.4,299.7 216.4,300.1 215.4,300.5 214.4,300.9 213.4,301.3 212.4,301.7 211.4,302.1 210.4,302.5 209.4,302.8 208.4,303.2 207.4,303.6 206.4,304.0 205.4,304.4 204.4,304.8 203.4,305.2 202.4,305.6 201.4,306.0 200.4,306.4 199.4,306.7 198.4,307.1 197.4,307.5 196.4,307.9 195.4,308.2 194.4,308.6 193.4,309.0 192.4,309.4 191.4,309.7 190.4,310.1 189.4,310.5 188.4,310.9 187.4,311.2 186.4,311.5 185.4,311.8 184.4,312.2 183.4,312.5 182.4,312.8 181.4,313.1 180.4,313.5 179.4,313.9 178.4,314.3 177.4,314.7 176.4,315.1 175.4,315.6 174.4,316.0 173.4,316.4 172.4,316.8 171.4,317.2 170.4,317.5 169.4,317.8 168.4,318.1 167.4,318.4 166.4,318.7 165.4,319.0 164.4,319.3 163.4,319.6 162.4,319.9 161.4,320.1 160.4,320.3 159.4,320.5 158.4,320.7 157.4,320.9 156.4,321.1 155.4,321.3 154.4,321.5 153.4,321.7 152.4,321.9 151.4,322.1 150.4,322.3 149.4,322.5 148.4,322.7 147.4,322.9 146.4,323.1 145.4,323.3 144.4,323.5 143.4,323.7 142.4,323.9 141.4,323.9 140.4,323.8 139.4,323.7 138.4,323.5 137.4,323.4 136.4,323.3 135.4,323.1 134.4,323.0 133.4,322.9 132.4,322.8 131.4,322.8 130.4,323.0 129.4,323.2 128.4,323.4 127.4,323.6 126.4,323.8 125.4,324.0 124.4,324.2 123.4,324.3 122.4,324.3 121.4,324.3 120.4,324.3 119.4,324.3 118.4,324.3 117.4,324.3 116.4,324.3 115.4,324.5 114.4,324.7 113.4,325.0 112.4,325.3 111.4,325.5 110.4,325.8 109.4,326.1 108.4,326.3 107.4,326.6 106.4,326.9 105.4,327.1 104.4,327.4 103.4,327.6 102.4,327.7 101.4,327.8 100.4,327.9 99.4,328.1 98.4,328.2 97.4,328.3 96.4,328.4 95.4,328.6 94.4,328.7 93.4,328.8 92.4,328.9 91.4,329.0 90.4,328.9 89.4,328.9 88.4,328.8 87.4,328.8 86.4,328.8 85.4,328.7 84.4,328.7 83.4,328.6 82.4,328.6Z" fill="#000"/>
<path d="M82.4,328.3 83.4,328.3 84.4,328.4 85.4,328.4 86.4,328.5 87.4,328.5 88.4,328.5 89.4,328.6 90.4,328.6 91.4,328.7 92.4,328.6 93.4,328.5 94.4,328.4 95.4,328.3 96.4,328.1 97.4,328.0 98.4,327.9 99.4,327.8 100.4,327.6 101.4,327.5 102.4,327.4 103.4,327.3 104.4,327.1 105.4,326.8 106.4,326.6 107.4,326.3 108.4,326.0 109.4,325.8 110.4,325.5 111.4,325.2 112.4,325.0 113.4,324.7 114.4,324.4 115.4,324.2 116.4,324.0 117.4,324.0 118.4,324.0 119.4,324.0 120.4,324.0 121.4,324.0 122.4,324.0 123.4,324.0 124.4,323.9 125.4,323.7 126.4,323.5 127.4,323.3 128.4,323.1 129.4,322.9 130.4,322.7 131.4,322.5 132.4,322.5 133.4,322.6 134.4,322.7 135.4,322.8 136.4,323.0 137.4,323.1 138.4,323.2 139.4,323.4 140.4,323.5 141.4,323.6 142.4,323.6 143.4,323.4 144.4,323.2 145.4,323.0 146.4,322.8 147.4,322.6 148.4,322.4 149.4,322.2 150.4,322.0 151.4,321.8 152.4,321.6 153.4,321.4 154.4,321.2 155.4,321.0 156.4,320.8 157.4,320.6 158.4,320.4 159.4,320.2 160.4,320.0 161.4,319.8 162.4,319.6 163.4,319.3 164.4,319.0 165.4,318.7 166.4,318.4 167.4,318.1 168.4,317.8 169.4,317.5 170.4,317.2 171.4,316.9 172.4,316.5 173.4,316.1 174.4,315.7 175.4,315.3 176.4,314.8 177.4,314.4 178.4,314.0 179.4,313.6 180.4,313.2 181.4,312.8 182.4,312.5 183.4,312.2 184.4,311.9 185.4,311.5 186.4,311.2 187.4,310.9 188.4,310.6 189.4,310.2 190.4,309.8 191.4,309.4 192.4,309.1 193.4,308.7 194.4,308.3 195.4,307.9 196.4,307.6 197.4,307.2 198.4,306.8 199.4,306.4 200.4,306.0 201.4,305.6 202.4,305.2 203.4,304.9 204.4,304.4 205.4,304.0 206.4,303.6 207.4,303.2 208.4,302.8 209.4,302.3 210.4,301.9 211.4,301.5 212.4,301.1 213.4,300.7 214.4,300.3 215.4,299.9 216.4,299.5 217.4,299.0 218.4,298.6 219.4,298.2 220.4,297.8 221.4,297.2 222.4,296.7 223.4,296.1 224.4,295.5 225.4,295.0 226.4,294.4 227.4,293.9 228.4,293.3 229.4,292.8 230.4,292.1 231.4,291.3 232.4,290.5 233.4,289.7 234.4,288.9 235.4,288.1 236.4,287.3 237.4,286.5 238.4,285.6 239.4,284.8 240.4,284.0 241.4,283.2 242.4,282.3 243.4,281.4 244.4,280.5 245.4,279.6 246.4,278.7 247.4,277.8 248.4,276.9 249.4,276.0 250.4,275.2 251.4,274.2 252.4,273.1 253.4,272.0 254.4,270.9 255.4,269.8 256.4,268.7 257.4,267.6 258.4,266.5 259.4,265.4 260.4,264.3 261.4,263.2 262.4,262.1 263.4,261.0 264.4,259.9 265.4,258.8 266.4,257.7 267.4,256.6 268.4,255.5 269.4,254.3 270.4,252.9 271.4,251.5 272.4,250.1 273.4,248.7 274.4,247.3 275.4,245.9 276.4,244.5 277.4,243.0 278.4,241.4 279.4,239.9 280.4,238.4 281.4,236.9 282.4,235.6 283.4,234.6 284.4,233.6 285.4,232.6 286.4,231.6 287.4,230.6 288.4,229.6 289.4,228.6 290.4,227.1 291.4,224.9 292.4,222.7 293.4,220.5 294.4,218.3 295.4,216.9 296.4,216.5 297.4,216.2 298.4,216.5 299.4,217.8 300.4,219.1 301.4,220.4 302.4,221.6 303.4,221.9 304.4,220.7 305.4,219.5 306.4,218.3 307.4,217.1 308.4,215.9 309.4,214.7 310.4,213.8 311.4,213.4 312.4,213.0 313.4,212.5 314.4,212.1 315.4,211.7 316.4,211.3 317.4,210.8 318.4,210.2 319.4,209.6 320.4,209.0 321.4,208.4 322.4,208.5 323.4,209.9 324.4,211.2 325.4,212.5 326.4,213.9 327.4,215.2 328.4,216.3 329.4,217.2 330.4,218.1 331.4,219.0 332.4,219.8 333.4,220.7 334.4,221.6 335.4,222.5 336.4,223.0 337.4,223.0 338.4,223.0 339.4,223.0 340.4,223.0 341.4,223.0 342.4,223.0 343.4,223.0 344.4,223.1 345.4,223.2 346.4,223.3 347.4,223.4 348.4,223.6 349.4,223.7 350.4,223.8 351.4,223.9 352.4,223.7 353.4,222.8 354.4,222.0 355.4,221.2 356.4,220.3 357.4,219.5 358.4,218.9 359.4,218.5 360.4,218.1 361.4,217.7 362.4,217.4 363.4,217.0 364.4,216.6 365.4,216.2 366.4,215.8 367.4,215.3 368.4,214.8 369.4,214.3 370.4,213.8 371.4,213.3 372.4,212.8 373.4,212.3 374.4,211.8 375.4,211.3 376.4,211.0 377.4,211.0 378.4,211.0 379.4,211.0 380.4,211.0 381.4,211.0 382.4,211.0 383.4,211.0 384.4,211.0 385.4,211.0 386.4,210.9 387.4,210.8 388.4,210.7 389.4,210.6 390.4,210.2 391.4,209.9 392.4,209.6 393.4,209.3 394.4,209.0 395.4,208.7 396.4,208.4 397.4,208.1 398.4,207.8 399.4,207.5 400.4,207.0 401.4,206.2 402.4,205.4 403.4,204.6 404.4,203.8 405.4,203.0 406.4,202.2 407.4,201.4 408.4,200.6 409.4,199.8 410.4,199.1 411.4,198.7 412.4,198.2 413.4,197.7 414.4,197.3 415.4,196.8 416.4,196.4 417.4,195.9 418.4,195.4 419.4,195.0 420.4,194.7 421.4,194.6 422.4,194.5 423.4,194.4 424.4,194.3 425.4,194.3 426.4,194.2 427.4,194.1 428.4,194.0 429.4,193.9 430.4,193.9 431.4,194.0 432.4,194.0 433.4,194.1 434.4,194.2 435.4,194.2 436.4,194.3 437.4,194.0 438.4,193.2 439.4,192.4 440.4,191.7 441.4,190.9 442.4,190.1 443.4,189.3 444.4,188.5 445.4,187.8 446.4,187.0 447.4,186.4 448.4,185.7 449.4,185.0 450.4,184.4 451.4,183.7 452.4,183.0 453.4,182.4 454.4,181.7 455.4,181.0 456.4,180.4 457.4,179.7 458.4,179.2 459.4,179.0 460.4,178.7 461.4,178.5 462.4,178.2 463.4,178.0 464.4,177.7 465.4,177.5 466.4,177.3 467.4,177.3 468.4,177.3 469.4,177.3 470.4,177.3 471.4,177.3 472.4,177.3 473.4,177.3 474.4,177.5 475.4,178.1 476.4,178.6 477.4,179.2 478.4,179.7 479.4,180.3 480.4,180.8 481.4,181.4 482.4,181.9 483.4,182.5 484.4,183.0 485.4,183.6 486.4,184.1 487.4,184.6 488.4,185.2 489.4,185.7 490.4,186.2 491.4,186.8 492.4,187.3 493.4,187.8 494.4,188.4 495.4,188.9 496.4,189.4 497.4,190.0 498.4,190.5 499.4,191.1 500.4,191.7 501.4,192.3 502.4,192.9 503.4,193.4 504.4,194.0 505.4,194.6 506.4,195.2 507.4,195.8 508.4,196.4 509.4,196.9 510.4,197.6 511.4,198.2 512.4,198.9 513.4,199.5 514.4,200.2 515.4,200.8 516.4,201.5 517.4,202.1 518.4,202.8 519.4,203.4 520.4,204.1 521.4,204.8 522.4,205.5 523.4,206.3 524.4,207.0 525.4,207.7 526.4,208.4 527.4,209.2 528.4,209.9 529.4,210.6 530.4,211.3 531.4,212.1 532.4,212.8 533.4,213.5 534.4,214.2 535.4,215.0 536.4,215.7 537.4,216.4 538.4,217.1 539.4,217.9 540.4,218.6 541.4,219.2 542.4,219.9 543.4,220.5 544.4,221.2 545.4,221.8 546.4,222.5 547.4,223.1 548.4,223.8 549.4,224.4 550.4,225.1 551.4,225.7 552.4,226.4 553.4,227.0 554.4,227.7 555.4,228.3 556.4,229.0 557.4,229.6 558.4,230.3 559.4,230.9 560.4,231.5 561.4,232.1 562.4,232.7 563.4,233.3 564.4,233.9 565.4,234.5 566.4,235.1 567.4,235.7 568.4,236.3 569.4,236.9 570.4,237.5 571.4,238.1 572.4,238.7 573.4,239.3 574.4,239.9 575.4,240.5 576.4,241.1 577.4,241.7 578.4,242.3 579.4,242.9 580.4,243.5 581.4,244.0 582.4,244.5 583.4,245.0 584.4,245.5 585.4,246.0 586.4,246.5 587.4,247.0 588.4,247.5 589.4,248.0 590.4,248.5 591.4,249.0 592.4,249.5 593.4,250.0 594.4,250.5 595.4,251.0 596.4,251.5 597.4,252.0 598.4,252.5 599.4,253.0 600.4,253.5 601.4,254.0 602.4,254.5 603.4,255.0 604.4,255.5 605.4,256.0 606.4,256.5 607.4,257.0 608.4,257.5 609.4,258.0 610.4,258.5 611.4,259.0 612.4,259.5 613.4,260.0 614.4,260.5 615.4,261.0 616.4,261.5 617.4,262.0 618.4,262.5 619.4,263.0 620.4,263.5 621.4,263.9 622.4,264.3 623.4,264.7 624.4,265.1 625.4,265.5 626.4,265.9 627.4,266.3 628.4,266.7 629.4,267.1 630.4,267.5 631.4,267.9 632.4,268.3 633.4,268.7 634.4,269.1 635.4,269.5 636.4,269.9 637.4,270.3 638.4,270.7 639.4,271.1 640.4,271.5 641.4,271.8 642.4,272.2 643.4,272.6 644.4,273.0 645.4,273.4 646.4,273.7 647.4,274.1 648.4,274.5 649.4,274.9 650.4,275.3 651.4,275.6 652.4,276.0 653.4,276.4 654.4,276.8 655.4,277.2 656.4,277.5 657.4,277.9 658.4,278.3 659.4,278.7 660.4,279.0 661.4,279.3 662.4,279.7 663.4,280.0 664.4,280.3 665.4,280.6 666.4,280.9 667.4,281.2 668.4,281.6 669.4,281.9 670.4,282.2 672.0,282.7 L672.0,283.0 670.4,282.5 669.4,282.1 668.4,281.8 667.4,281.5 666.4,281.1 665.4,280.8 664.4,280.5 663.4,280.1 662.4,279.8 661.4,279.5 660.4,279.1 659.4,278.8 658.4,278.4 657.4,278.1 656.4,277.7 655.4,277.4 654.4,277.0 653.4,276.7 652.4,276.3 651.4,276.0 650.4,275.6 649.4,275.3 648.4,274.9 647.4,274.6 646.4,274.2 645.4,273.9 644.4,273.5 643.4,273.2 642.4,272.8 641.4,272.5 640.4,272.1 639.4,271.9 638.4,271.6 637.4,271.4 636.4,271.1 635.4,270.9 634.4,270.6 633.4,270.4 632.4,270.1 631.4,269.9 630.4,269.6 629.4,269.4 628.4,269.1 627.4,268.9 626.4,268.6 625.4,268.4 624.4,268.1 623.4,267.9 622.4,267.6 621.4,267.4 620.4,267.1 619.4,266.8 618.4,266.4 617.4,266.1 616.4,265.7 615.4,265.4 614.4,265.0 613.4,264.7 612.4,264.3 611.4,264.0 610.4,263.6 609.4,263.3 608.4,262.9 607.4,262.6 606.4,262.2 605.4,261.9 604.4,261.5 603.4,261.2 602.4,260.8 601.4,260.5 600.4,260.1 599.4,259.7 598.4,259.3 597.4,258.9 596.4,258.5 595.4,258.0 594.4,257.6 593.4,257.2 592.4,256.8 591.4,256.3 590.4,255.9 589.4,255.5 588.4,255.1 587.4,254.6 586.4,254.2 585.4,253.8 584.4,253.4 583.4,252.9 582.4,252.5 581.4,252.1 580.4,251.7 579.4,251.2 578.4,250.8 577.4,250.4 576.4,250.0 575.4,249.5 574.4,249.1 573.4,248.7 572.4,248.3 571.4,247.8 570.4,247.4 569.4,247.0 568.4,246.6 567.4,246.1 566.4,245.7 565.4,245.3 564.4,244.9 563.4,244.4 562.4,244.0 561.4,243.6 560.4,243.2 559.4,242.7 558.4,242.2 557.4,241.8 556.4,241.3 555.4,240.8 554.4,240.3 553.4,239.9 552.4,239.4 551.4,238.9 550.4,238.4 549.4,238.0 548.4,237.5 547.4,237.0 546.4,236.5 545.4,236.1 544.4,235.6 543.4,235.1 542.4,234.6 541.4,234.2 540.4,233.7 539.4,233.2 538.4,232.6 537.4,232.0 536.4,231.4 535.4,230.9 534.4,230.3 533.4,229.7 532.4,229.1 531.4,228.6 530.4,228.0 529.4,227.4 528.4,226.8 527.4,226.3 526.4,225.7 525.4,225.1 524.4,224.5 523.4,224.0 522.4,223.4 521.4,222.8 520.4,222.2 519.4,221.8 518.4,221.4 517.4,221.0 516.4,220.6 515.4,220.2 514.4,219.8 513.4,219.4 512.4,219.0 511.4,218.6 510.4,218.2 509.4,217.6 508.4,217.1 507.4,216.5 506.4,215.9 505.4,215.3 504.4,214.7 503.4,214.1 502.4,213.6 501.4,213.0 500.4,212.4 499.4,211.8 498.4,211.2 497.4,210.6 496.4,210.0 495.4,209.4 494.4,208.8 493.4,208.1 492.4,207.5 491.4,206.9 490.4,206.2 489.4,205.6 488.4,205.0 487.4,204.4 486.4,203.8 485.4,203.1 484.4,202.5 483.4,201.9 482.4,201.2 481.4,200.6 480.4,200.0 479.4,199.4 478.4,198.8 477.4,198.1 476.4,197.5 475.4,196.9 474.4,196.2 473.4,195.7 472.4,195.1 471.4,194.5 470.4,194.0 469.4,193.4 468.4,192.8 467.4,192.3 466.4,191.7 465.4,191.3 464.4,191.1 463.4,190.8 462.4,190.5 461.4,190.2 460.4,190.0 459.4,189.7 458.4,189.4 457.4,189.3 456.4,189.4 455.4,189.4 454.4,189.5 453.4,189.5 452.4,189.6 451.4,189.6 450.4,189.7 449.4,189.7 448.4,189.8 447.4,189.8 446.4,189.9 445.4,189.9 444.4,190.0 443.4,190.8 442.4,192.1 441.4,193.3 440.4,194.6 439.4,195.9 438.4,197.2 437.4,198.5 436.4,198.8 435.4,198.5 434.4,198.3 433.4,198.0 432.4,197.7 431.4,197.4 430.4,197.1 429.4,197.0 428.4,196.9 427.4,196.9 426.4,196.8 425.4,196.8 424.4,196.7 423.4,196.7 422.4,196.6 421.4,196.6 420.4,196.5 419.4,196.7 418.4,197.1 417.4,197.5 416.4,197.9 415.4,198.3 414.4,198.7 413.4,199.1 412.4,199.5 411.4,199.9 410.4,200.3 409.4,200.9 408.4,201.6 407.4,202.3 406.4,203.0 405.4,203.7 404.4,204.4 403.4,205.1 402.4,205.8 401.4,206.5 400.4,207.2 399.4,207.7 398.4,208.0 397.4,208.3 396.4,208.6 395.4,208.9 394.4,209.2 393.4,209.5 392.4,209.8 391.4,210.1 390.4,210.4 389.4,210.6 388.4,210.7 387.4,210.8 386.4,210.9 385.4,211.0 384.4,211.0 383.4,211.0 382.4,211.0 381.4,211.0 380.4,211.0 379.4,211.0 378.4,211.0 377.4,211.0 376.4,211.0 375.4,211.3 374.4,211.8 373.4,212.3 372.4,212.8 371.4,213.3 370.4,213.8 369.4,214.3 368.4,214.8 367.4,215.3 366.4,215.8 365.4,216.2 364.4,216.6 363.4,217.0 362.4,217.4 361.4,217.7 360.4,218.1 359.4,218.5 358.4,218.9 357.4,219.5 356.4,220.3 355.4,221.2 354.4,222.0 353.4,222.8 352.4,223.7 351.4,223.9 350.4,223.8 349.4,223.7 348.4,223.6 347.4,223.4 346.4,223.3 345.4,223.2 344.4,223.1 343.4,223.0 342.4,223.0 341.4,223.0 340.4,223.0 339.4,223.0 338.4,223.0 337.4,223.0 336.4,223.0 335.4,222.5 334.4,221.6 333.4,220.7 332.4,219.8 331.4,219.0 330.4,218.1 329.4,217.2 328.4,216.3 327.4,215.2 326.4,213.9 325.4,212.5 324.4,211.2 323.4,209.9 322.4,208.5 321.4,208.4 320.4,209.0 319.4,209.6 318.4,210.2 317.4,210.8 316.4,211.3 315.4,211.7 314.4,212.1 313.4,212.5 312.4,213.0 311.4,213.4 310.4,213.8 309.4,214.7 308.4,215.9 307.4,217.1 306.4,218.3 305.4,219.5 304.4,220.7 303.4,221.9 302.4,221.6 301.4,220.4 300.4,219.1 299.4,217.8 298.4,216.5 297.4,216.2 296.4,216.5 295.4,216.9 294.4,218.3 293.4,220.5 292.4,222.7 291.4,224.9 290.4,227.1 289.4,228.6 288.4,229.6 287.4,230.6 286.4,231.6 285.4,232.6 284.4,233.6 283.4,234.6 282.4,235.6 281.4,236.9 280.4,238.4 279.4,239.9 278.4,241.4 277.4,243.0 276.4,244.5 275.4,245.9 274.4,247.3 273.4,248.7 272.4,250.1 271.4,251.5 270.4,252.9 269.4,254.3 268.4,255.5 267.4,256.6 266.4,257.7 265.4,258.8 264.4,259.9 263.4,261.0 262.4,262.1 261.4,263.2 260.4,264.3 259.4,265.4 258.4,266.5 257.4,267.6 256.4,268.7 255.4,269.8 254.4,270.9 253.4,272.0 252.4,273.1 251.4,274.2 250.4,275.2 249.4,276.0 248.4,276.9 247.4,277.8 246.4,278.7 245.4,279.6 244.4,280.5 243.4,281.4 242.4,282.3 241.4,283.2 240.4,284.0 239.4,284.8 238.4,285.6 237.4,286.5 236.4,287.3 235.4,288.1 234.4,288.9 233.4,289.7 232.4,290.5 231.4,291.3 230.4,292.1 229.4,292.8 228.4,293.3 227.4,293.9 226.4,294.4 225.4,295.0 224.4,295.5 223.4,296.1 222.4,296.7 221.4,297.2 220.4,297.8 219.4,298.2 218.4,298.6 217.4,299.0 216.4,299.5 215.4,299.9 214.4,300.3 213.4,300.7 212.4,301.1 211.4,301.5 210.4,301.9 209.4,302.3 208.4,302.8 207.4,303.2 206.4,303.6 205.4,304.0 204.4,304.4 203.4,304.9 202.4,305.2 201.4,305.6 200.4,306.0 199.4,306.4 198.4,306.8 197.4,307.2 196.4,307.6 195.4,307.9 194.4,308.3 193.4,308.7 192.4,309.1 191.4,309.4 190.4,309.8 189.4,310.2 188.4,310.6 187.4,310.9 186.4,311.2 185.4,311.5 184.4,311.9 183.4,312.2 182.4,312.5 181.4,312.8 180.4,313.2 179.4,313.6 178.4,314.0 177.4,314.4 176.4,314.8 175.4,315.3 174.4,315.7 173.4,316.1 172.4,316.5 171.4,316.9 170.4,317.2 169.4,317.5 168.4,317.8 167.4,318.1 166.4,318.4 165.4,318.7 164.4,319.0 163.4,319.3 162.4,319.6 161.4,319.8 160.4,320.0 159.4,320.2 158.4,320.4 157.4,320.6 156.4,320.8 155.4,321.0 154.4,321.2 153.4,321.4 152.4,321.6 151.4,321.8 150.4,322.0 149.4,322.2 148.4,322.4 147.4,322.6 146.4,322.8 145.4,323.0 144.4,323.2 143.4,323.4 142.4,323.6 141.4,323.6 140.4,323.5 139.4,323.4 138.4,323.2 137.4,323.1 136.4,323.0 135.4,322.8 134.4,322.7 133.4,322.6 132.4,322.5 131.4,322.5 130.4,322.7 129.4,322.9 128.4,323.1 127.4,323.3 126.4,323.5 125.4,323.7 124.4,323.9 123.4,324.0 122.4,324.0 121.4,324.0 120.4,324.0 119.4,324.0 118.4,324.0 117.4,324.0 116.4,324.0 115.4,324.2 114.4,324.4 113.4,324.7 112.4,325.0 111.4,325.2 110.4,325.5 109.4,325.8 108.4,326.0 107.4,326.3 106.4,326.6 105.4,326.8 104.4,327.1 103.4,327.3 102.4,327.4 101.4,327.5 100.4,327.6 99.4,327.8 98.4,327.9 97.4,328.0 96.4,328.1 95.4,328.3 94.4,328.4 93.4,328.5 92.4,328.6 91.4,328.7 90.4,328.6 89.4,328.6 88.4,328.5 87.4,328.5 86.4,328.5 85.4,328.4 84.4,328.4 83.4,328.3 82.4,328.3Z" fill="url(#pdeep)"/>
<path d="M82.4,328.3 83.4,328.3 84.4,328.4 85.4,328.4 86.4,328.5 87.4,328.5 88.4,328.5 89.4,328.6 90.4,328.6 91.4,328.7 92.4,328.6 93.4,328.5 94.4,328.4 95.4,328.3 96.4,328.1 97.4,328.0 98.4,327.9 99.4,327.8 100.4,327.6 101.4,327.5 102.4,327.4 103.4,327.3 104.4,327.1 105.4,326.8 106.4,326.6 107.4,326.3 108.4,326.0 109.4,325.8 110.4,325.5 111.4,325.2 112.4,325.0 113.4,324.7 114.4,324.4 115.4,324.2 116.4,324.0 117.4,324.0 118.4,324.0 119.4,324.0 120.4,324.0 121.4,324.0 122.4,324.0 123.4,324.0 124.4,323.9 125.4,323.7 126.4,323.5 127.4,323.3 128.4,323.1 129.4,322.9 130.4,322.7 131.4,322.5 132.4,322.5 133.4,322.6 134.4,322.7 135.4,322.8 136.4,323.0 137.4,323.1 138.4,323.2 139.4,323.4 140.4,323.5 141.4,323.6 142.4,323.6 143.4,323.4 144.4,323.2 145.4,323.0 146.4,322.8 147.4,322.6 148.4,322.4 149.4,322.2 150.4,322.0 151.4,321.8 152.4,321.6 153.4,321.4 154.4,321.2 155.4,321.0 156.4,320.8 157.4,320.6 158.4,320.4 159.4,320.2 160.4,320.0 161.4,319.8 162.4,319.6 163.4,319.3 164.4,319.0 165.4,318.7 166.4,318.4 167.4,318.1 168.4,317.8 169.4,317.5 170.4,317.2 171.4,316.9 172.4,316.5 173.4,316.1 174.4,315.7 175.4,315.3 176.4,314.8 177.4,314.4 178.4,314.0 179.4,313.6 180.4,313.2 181.4,312.8 182.4,312.5 183.4,312.2 184.4,311.9 185.4,311.5 186.4,311.2 187.4,310.9 188.4,310.6 189.4,310.2 190.4,309.8 191.4,309.4 192.4,309.1 193.4,308.7 194.4,308.3 195.4,307.9 196.4,307.6 197.4,307.2 198.4,306.8 199.4,306.4 200.4,306.0 201.4,305.6 202.4,305.2 203.4,304.9 204.4,304.4 205.4,304.0 206.4,303.6 207.4,303.2 208.4,302.8 209.4,302.3 210.4,301.9 211.4,301.5 212.4,301.1 213.4,300.7 214.4,300.3 215.4,299.9 216.4,299.5 217.4,299.0 218.4,298.6 219.4,298.2 220.4,297.8 221.4,297.2 222.4,296.7 223.4,296.1 224.4,295.5 225.4,295.0 226.4,294.4 227.4,293.9 228.4,293.3 229.4,292.8 230.4,292.1 231.4,291.3 232.4,290.5 233.4,289.7 234.4,288.9 235.4,288.1 236.4,287.3 237.4,286.5 238.4,285.6 239.4,284.8 240.4,284.0 241.4,283.2 242.4,282.3 243.4,281.4 244.4,280.5 245.4,279.6 246.4,278.7 247.4,277.8 248.4,276.9 249.4,276.0 250.4,275.2 251.4,274.2 252.4,273.1 253.4,272.0 254.4,270.9 255.4,269.8 256.4,268.7 257.4,267.6 258.4,266.5 259.4,265.4 260.4,264.3 261.4,263.2 262.4,262.1 263.4,261.0 264.4,259.9 265.4,258.8 266.4,257.7 267.4,256.6 268.4,255.5 269.4,254.3 270.4,252.9 271.4,251.5 272.4,250.1 273.4,248.7 274.4,247.3 275.4,245.9 276.4,244.5 277.4,243.0 278.4,241.4 279.4,239.9 280.4,238.4 281.4,236.9 282.4,235.6 283.4,234.6 284.4,233.6 285.4,232.6 286.4,231.6 287.4,230.6 288.4,229.6 289.4,228.4 290.4,226.4 291.4,223.6 292.4,220.9 293.4,218.2 294.4,215.4 295.4,213.7 296.4,213.3 297.4,213.0 298.4,213.3 299.4,214.6 300.4,215.9 301.4,217.2 302.4,218.4 303.4,218.7 304.4,217.5 305.4,216.3 306.4,215.1 307.4,213.9 308.4,212.7 309.4,211.5 310.4,210.6 311.4,210.2 312.4,209.8 313.4,209.3 314.4,208.9 315.4,208.5 316.4,208.1 317.4,207.6 318.4,207.0 319.4,206.4 320.4,205.8 321.4,205.2 322.4,205.3 323.4,206.7 324.4,208.0 325.4,209.3 326.4,210.7 327.4,212.0 328.4,213.1 329.4,214.0 330.4,214.9 331.4,215.8 332.4,216.6 333.4,217.5 334.4,218.4 335.4,219.3 336.4,219.8 337.4,219.8 338.4,219.8 339.4,219.8 340.4,219.8 341.4,219.8 342.4,219.8 343.4,219.8 344.4,219.9 345.4,220.0 346.4,220.1 347.4,220.2 348.4,220.4 349.4,220.5 350.4,220.6 351.4,220.7 352.4,220.5 353.4,219.6 354.4,218.8 355.4,218.0 356.4,217.1 357.4,216.3 358.4,215.7 359.4,215.3 360.4,214.9 361.4,214.5 362.4,214.2 363.4,213.8 364.4,213.4 365.4,213.0 366.4,212.6 367.4,212.1 368.4,211.6 369.4,211.1 370.4,210.6 371.4,210.1 372.4,209.6 373.4,209.1 374.4,208.6 375.4,208.1 376.4,207.8 377.4,207.8 378.4,207.8 379.4,207.8 380.4,207.8 381.4,207.8 382.4,207.8 383.4,207.8 384.4,207.8 385.4,207.8 386.4,207.8 387.4,207.6 388.4,207.5 389.4,207.4 390.4,205.4 391.4,205.2 392.4,205.0 393.4,204.8 394.4,204.6 395.4,204.4 396.4,204.2 397.4,204.0 398.4,203.8 399.4,203.6 400.4,203.2 401.4,202.5 402.4,201.8 403.4,201.1 404.4,200.4 405.4,199.7 406.4,199.0 407.4,198.3 408.4,197.6 409.4,196.9 410.4,196.3 411.4,195.8 412.4,195.3 413.4,194.8 414.4,194.3 415.4,193.8 416.4,193.3 417.4,192.8 418.4,192.3 419.4,191.8 420.4,191.5 421.4,191.4 422.4,191.3 423.4,191.2 424.4,191.1 425.4,191.0 426.4,190.9 427.4,190.8 428.4,190.7 429.4,190.6 430.4,190.5 431.4,190.5 432.4,190.5 433.4,190.5 434.4,190.5 435.4,190.5 436.4,190.5 437.4,190.2 438.4,189.4 439.4,188.6 440.4,187.9 441.4,187.1 442.4,186.3 443.4,185.5 444.4,184.7 445.4,184.0 446.4,183.2 447.4,182.6 448.4,181.9 449.4,181.2 450.4,180.6 451.4,179.9 452.4,179.2 453.4,178.6 454.4,177.9 455.4,177.2 456.4,176.6 457.4,175.9 458.4,175.4 459.4,175.2 460.4,174.9 461.4,174.7 462.4,174.4 463.4,174.2 464.4,173.9 465.4,173.7 466.4,173.5 467.4,173.6 468.4,173.6 469.4,173.7 470.4,173.7 471.4,173.8 472.4,173.8 473.4,173.9 474.4,174.1 475.4,174.7 476.4,175.2 477.4,175.8 478.4,176.3 479.4,176.9 480.4,177.4 481.4,178.0 482.4,178.5 483.4,179.1 484.4,179.6 485.4,180.2 486.4,180.7 487.4,181.2 488.4,181.7 489.4,182.2 490.4,182.7 491.4,183.2 492.4,183.7 493.4,184.2 494.4,184.7 495.4,185.2 496.4,185.7 497.4,186.2 498.4,186.7 499.4,187.3 500.4,187.9 501.4,188.5 502.4,189.1 503.4,189.6 504.4,190.2 505.4,190.8 506.4,191.4 507.4,192.0 508.4,192.6 509.4,193.1 510.4,193.7 511.4,194.3 512.4,194.9 513.4,195.5 514.4,196.1 515.4,196.7 516.4,197.3 517.4,197.9 518.4,198.5 519.4,199.1 520.4,199.8 521.4,200.4 522.4,201.1 523.4,201.7 524.4,202.4 525.4,203.0 526.4,203.7 527.4,204.3 528.4,205.0 529.4,205.6 530.4,206.3 531.4,206.9 532.4,207.6 533.4,208.2 534.4,208.9 535.4,209.5 536.4,210.2 537.4,210.8 538.4,211.5 539.4,212.1 540.4,212.8 541.4,213.4 542.4,214.1 543.4,214.7 544.4,215.4 545.4,216.0 546.4,216.7 547.4,217.3 548.4,218.0 549.4,218.6 550.4,219.3 551.4,219.9 552.4,220.6 553.4,221.2 554.4,221.9 555.4,222.5 556.4,223.2 557.4,223.8 558.4,224.5 559.4,225.1 560.4,225.7 561.4,226.3 562.4,226.9 563.4,227.5 564.4,228.0 565.4,228.6 566.4,229.2 567.4,229.8 568.4,230.3 569.4,230.9 570.4,231.5 571.4,232.1 572.4,232.6 573.4,233.2 574.4,233.8 575.4,234.4 576.4,234.9 577.4,235.5 578.4,236.1 579.4,236.7 580.4,237.2 581.4,237.7 582.4,238.1 583.4,238.6 584.4,239.1 585.4,239.6 586.4,240.0 587.4,240.5 588.4,241.0 589.4,241.5 590.4,241.9 591.4,242.4 592.4,242.9 593.4,243.4 594.4,243.8 595.4,244.3 596.4,244.8 597.4,245.3 598.4,245.7 599.4,246.2 600.4,246.7 601.4,247.2 602.4,247.7 603.4,248.2 604.4,248.7 605.4,249.2 606.4,249.7 607.4,250.2 608.4,250.7 609.4,251.2 610.4,251.7 611.4,252.2 612.4,252.7 613.4,253.2 614.4,253.7 615.4,254.2 616.4,254.7 617.4,255.2 618.4,255.7 619.4,256.2 620.4,256.7 621.4,257.2 622.4,257.7 623.4,258.2 624.4,258.7 625.4,259.2 626.4,259.7 627.4,260.2 628.4,260.7 629.4,261.2 630.4,261.7 631.4,262.2 632.4,262.7 633.4,263.2 634.4,263.7 635.4,264.2 636.4,264.7 637.4,265.2 638.4,265.7 639.4,266.2 640.4,266.7 641.4,267.1 642.4,267.6 643.4,268.0 644.4,268.5 645.4,268.9 646.4,269.4 647.4,269.8 648.4,270.3 649.4,270.7 650.4,271.2 651.4,271.6 652.4,272.1 653.4,272.5 654.4,273.0 655.4,273.4 656.4,273.9 657.4,274.3 658.4,274.8 659.4,275.2 660.4,275.7 661.4,276.1 662.4,276.5 663.4,276.9 664.4,277.3 665.4,277.8 666.4,278.2 667.4,278.6 668.4,279.0 669.4,279.4 670.4,279.8 672.0,280.5 L672.0,282.7 670.4,282.2 669.4,281.9 668.4,281.6 667.4,281.2 666.4,280.9 665.4,280.6 664.4,280.3 663.4,280.0 662.4,279.7 661.4,279.3 660.4,279.0 659.4,278.7 658.4,278.3 657.4,277.9 656.4,277.5 655.4,277.2 654.4,276.8 653.4,276.4 652.4,276.0 651.4,275.6 650.4,275.3 649.4,274.9 648.4,274.5 647.4,274.1 646.4,273.7 645.4,273.4 644.4,273.0 643.4,272.6 642.4,272.2 641.4,271.8 640.4,271.5 639.4,271.1 638.4,270.7 637.4,270.3 636.4,269.9 635.4,269.5 634.4,269.1 633.4,268.7 632.4,268.3 631.4,267.9 630.4,267.5 629.4,267.1 628.4,266.7 627.4,266.3 626.4,265.9 625.4,265.5 624.4,265.1 623.4,264.7 622.4,264.3 621.4,263.9 620.4,263.5 619.4,263.0 618.4,262.5 617.4,262.0 616.4,261.5 615.4,261.0 614.4,260.5 613.4,260.0 612.4,259.5 611.4,259.0 610.4,258.5 609.4,258.0 608.4,257.5 607.4,257.0 606.4,256.5 605.4,256.0 604.4,255.5 603.4,255.0 602.4,254.5 601.4,254.0 600.4,253.5 599.4,253.0 598.4,252.5 597.4,252.0 596.4,251.5 595.4,251.0 594.4,250.5 593.4,250.0 592.4,249.5 591.4,249.0 590.4,248.5 589.4,248.0 588.4,247.5 587.4,247.0 586.4,246.5 585.4,246.0 584.4,245.5 583.4,245.0 582.4,244.5 581.4,244.0 580.4,243.5 579.4,242.9 578.4,242.3 577.4,241.7 576.4,241.1 575.4,240.5 574.4,239.9 573.4,239.3 572.4,238.7 571.4,238.1 570.4,237.5 569.4,236.9 568.4,236.3 567.4,235.7 566.4,235.1 565.4,234.5 564.4,233.9 563.4,233.3 562.4,232.7 561.4,232.1 560.4,231.5 559.4,230.9 558.4,230.3 557.4,229.6 556.4,229.0 555.4,228.3 554.4,227.7 553.4,227.0 552.4,226.4 551.4,225.7 550.4,225.1 549.4,224.4 548.4,223.8 547.4,223.1 546.4,222.5 545.4,221.8 544.4,221.2 543.4,220.5 542.4,219.9 541.4,219.2 540.4,218.6 539.4,217.9 538.4,217.1 537.4,216.4 536.4,215.7 535.4,215.0 534.4,214.2 533.4,213.5 532.4,212.8 531.4,212.1 530.4,211.3 529.4,210.6 528.4,209.9 527.4,209.2 526.4,208.4 525.4,207.7 524.4,207.0 523.4,206.3 522.4,205.5 521.4,204.8 520.4,204.1 519.4,203.4 518.4,202.8 517.4,202.1 516.4,201.5 515.4,200.8 514.4,200.2 513.4,199.5 512.4,198.9 511.4,198.2 510.4,197.6 509.4,196.9 508.4,196.4 507.4,195.8 506.4,195.2 505.4,194.6 504.4,194.0 503.4,193.4 502.4,192.9 501.4,192.3 500.4,191.7 499.4,191.1 498.4,190.5 497.4,190.0 496.4,189.4 495.4,188.9 494.4,188.4 493.4,187.8 492.4,187.3 491.4,186.8 490.4,186.2 489.4,185.7 488.4,185.2 487.4,184.6 486.4,184.1 485.4,183.6 484.4,183.0 483.4,182.5 482.4,181.9 481.4,181.4 480.4,180.8 479.4,180.3 478.4,179.7 477.4,179.2 476.4,178.6 475.4,178.1 474.4,177.5 473.4,177.3 472.4,177.3 471.4,177.3 470.4,177.3 469.4,177.3 468.4,177.3 467.4,177.3 466.4,177.3 465.4,177.5 464.4,177.7 463.4,178.0 462.4,178.2 461.4,178.5 460.4,178.7 459.4,179.0 458.4,179.2 457.4,179.7 456.4,180.4 455.4,181.0 454.4,181.7 453.4,182.4 452.4,183.0 451.4,183.7 450.4,184.4 449.4,185.0 448.4,185.7 447.4,186.4 446.4,187.0 445.4,187.8 444.4,188.5 443.4,189.3 442.4,190.1 441.4,190.9 440.4,191.7 439.4,192.4 438.4,193.2 437.4,194.0 436.4,194.3 435.4,194.2 434.4,194.2 433.4,194.1 432.4,194.0 431.4,194.0 430.4,193.9 429.4,193.9 428.4,194.0 427.4,194.1 426.4,194.2 425.4,194.3 424.4,194.3 423.4,194.4 422.4,194.5 421.4,194.6 420.4,194.7 419.4,195.0 418.4,195.4 417.4,195.9 416.4,196.4 415.4,196.8 414.4,197.3 413.4,197.7 412.4,198.2 411.4,198.7 410.4,199.1 409.4,199.8 408.4,200.6 407.4,201.4 406.4,202.2 405.4,203.0 404.4,203.8 403.4,204.6 402.4,205.4 401.4,206.2 400.4,207.0 399.4,207.5 398.4,207.8 397.4,208.1 396.4,208.4 395.4,208.7 394.4,209.0 393.4,209.3 392.4,209.6 391.4,209.9 390.4,210.2 389.4,210.6 388.4,210.7 387.4,210.8 386.4,210.9 385.4,211.0 384.4,211.0 383.4,211.0 382.4,211.0 381.4,211.0 380.4,211.0 379.4,211.0 378.4,211.0 377.4,211.0 376.4,211.0 375.4,211.3 374.4,211.8 373.4,212.3 372.4,212.8 371.4,213.3 370.4,213.8 369.4,214.3 368.4,214.8 367.4,215.3 366.4,215.8 365.4,216.2 364.4,216.6 363.4,217.0 362.4,217.4 361.4,217.7 360.4,218.1 359.4,218.5 358.4,218.9 357.4,219.5 356.4,220.3 355.4,221.2 354.4,222.0 353.4,222.8 352.4,223.7 351.4,223.9 350.4,223.8 349.4,223.7 348.4,223.6 347.4,223.4 346.4,223.3 345.4,223.2 344.4,223.1 343.4,223.0 342.4,223.0 341.4,223.0 340.4,223.0 339.4,223.0 338.4,223.0 337.4,223.0 336.4,223.0 335.4,222.5 334.4,221.6 333.4,220.7 332.4,219.8 331.4,219.0 330.4,218.1 329.4,217.2 328.4,216.3 327.4,215.2 326.4,213.9 325.4,212.5 324.4,211.2 323.4,209.9 322.4,208.5 321.4,208.4 320.4,209.0 319.4,209.6 318.4,210.2 317.4,210.8 316.4,211.3 315.4,211.7 314.4,212.1 313.4,212.5 312.4,213.0 311.4,213.4 310.4,213.8 309.4,214.7 308.4,215.9 307.4,217.1 306.4,218.3 305.4,219.5 304.4,220.7 303.4,221.9 302.4,221.6 301.4,220.4 300.4,219.1 299.4,217.8 298.4,216.5 297.4,216.2 296.4,216.5 295.4,216.9 294.4,218.3 293.4,220.5 292.4,222.7 291.4,224.9 290.4,227.1 289.4,228.6 288.4,229.6 287.4,230.6 286.4,231.6 285.4,232.6 284.4,233.6 283.4,234.6 282.4,235.6 281.4,236.9 280.4,238.4 279.4,239.9 278.4,241.4 277.4,243.0 276.4,244.5 275.4,245.9 274.4,247.3 273.4,248.7 272.4,250.1 271.4,251.5 270.4,252.9 269.4,254.3 268.4,255.5 267.4,256.6 266.4,257.7 265.4,258.8 264.4,259.9 263.4,261.0 262.4,262.1 261.4,263.2 260.4,264.3 259.4,265.4 258.4,266.5 257.4,267.6 256.4,268.7 255.4,269.8 254.4,270.9 253.4,272.0 252.4,273.1 251.4,274.2 250.4,275.2 249.4,276.0 248.4,276.9 247.4,277.8 246.4,278.7 245.4,279.6 244.4,280.5 243.4,281.4 242.4,282.3 241.4,283.2 240.4,284.0 239.4,284.8 238.4,285.6 237.4,286.5 236.4,287.3 235.4,288.1 234.4,288.9 233.4,289.7 232.4,290.5 231.4,291.3 230.4,292.1 229.4,292.8 228.4,293.3 227.4,293.9 226.4,294.4 225.4,295.0 224.4,295.5 223.4,296.1 222.4,296.7 221.4,297.2 220.4,297.8 219.4,298.2 218.4,298.6 217.4,299.0 216.4,299.5 215.4,299.9 214.4,300.3 213.4,300.7 212.4,301.1 211.4,301.5 210.4,301.9 209.4,302.3 208.4,302.8 207.4,303.2 206.4,303.6 205.4,304.0 204.4,304.4 203.4,304.9 202.4,305.2 201.4,305.6 200.4,306.0 199.4,306.4 198.4,306.8 197.4,307.2 196.4,307.6 195.4,307.9 194.4,308.3 193.4,308.7 192.4,309.1 191.4,309.4 190.4,309.8 189.4,310.2 188.4,310.6 187.4,310.9 186.4,311.2 185.4,311.5 184.4,311.9 183.4,312.2 182.4,312.5 181.4,312.8 180.4,313.2 179.4,313.6 178.4,314.0 177.4,314.4 176.4,314.8 175.4,315.3 174.4,315.7 173.4,316.1 172.4,316.5 171.4,316.9 170.4,317.2 169.4,317.5 168.4,317.8 167.4,318.1 166.4,318.4 165.4,318.7 164.4,319.0 163.4,319.3 162.4,319.6 161.4,319.8 160.4,320.0 159.4,320.2 158.4,320.4 157.4,320.6 156.4,320.8 155.4,321.0 154.4,321.2 153.4,321.4 152.4,321.6 151.4,321.8 150.4,322.0 149.4,322.2 148.4,322.4 147.4,322.6 146.4,322.8 145.4,323.0 144.4,323.2 143.4,323.4 142.4,323.6 141.4,323.6 140.4,323.5 139.4,323.4 138.4,323.2 137.4,323.1 136.4,323.0 135.4,322.8 134.4,322.7 133.4,322.6 132.4,322.5 131.4,322.5 130.4,322.7 129.4,322.9 128.4,323.1 127.4,323.3 126.4,323.5 125.4,323.7 124.4,323.9 123.4,324.0 122.4,324.0 121.4,324.0 120.4,324.0 119.4,324.0 118.4,324.0 117.4,324.0 116.4,324.0 115.4,324.2 114.4,324.4 113.4,324.7 112.4,325.0 111.4,325.2 110.4,325.5 109.4,325.8 108.4,326.0 107.4,326.3 106.4,326.6 105.4,326.8 104.4,327.1 103.4,327.3 102.4,327.4 101.4,327.5 100.4,327.6 99.4,327.8 98.4,327.9 97.4,328.0 96.4,328.1 95.4,328.3 94.4,328.4 93.4,328.5 92.4,328.6 91.4,328.7 90.4,328.6 89.4,328.6 88.4,328.5 87.4,328.5 86.4,328.5 85.4,328.4 84.4,328.4 83.4,328.3 82.4,328.3Z" fill="#fff"/>
<clipPath id="cngl"><path d="M82.4,328.3 83.4,328.3 84.4,328.4 85.4,328.4 86.4,328.5 87.4,328.5 88.4,328.5 89.4,328.6 90.4,328.6 91.4,328.7 92.4,328.6 93.4,328.5 94.4,328.4 95.4,328.3 96.4,328.1 97.4,328.0 98.4,327.9 99.4,327.8 100.4,327.6 101.4,327.5 102.4,327.4 103.4,327.3 104.4,327.1 105.4,326.8 106.4,326.6 107.4,326.3 108.4,326.0 109.4,325.8 110.4,325.5 111.4,325.2 112.4,325.0 113.4,324.7 114.4,324.4 115.4,324.2 116.4,324.0 117.4,324.0 118.4,324.0 119.4,324.0 120.4,324.0 121.4,324.0 122.4,324.0 123.4,324.0 124.4,323.9 125.4,323.7 126.4,323.5 127.4,323.3 128.4,323.1 129.4,322.9 130.4,322.7 131.4,322.5 132.4,322.5 133.4,322.6 134.4,322.7 135.4,322.8 136.4,323.0 137.4,323.1 138.4,323.2 139.4,323.4 140.4,323.5 141.4,323.6 142.4,323.6 143.4,323.4 144.4,323.2 145.4,323.0 146.4,322.8 147.4,322.6 148.4,322.4 149.4,322.2 150.4,322.0 151.4,321.8 152.4,321.6 153.4,321.4 154.4,321.2 155.4,321.0 156.4,320.8 157.4,320.6 158.4,320.4 159.4,320.2 160.4,320.0 161.4,319.8 162.4,319.6 163.4,319.3 164.4,319.0 165.4,318.7 166.4,318.4 167.4,318.1 168.4,317.8 169.4,317.5 170.4,317.2 171.4,316.9 172.4,316.5 173.4,316.1 174.4,315.7 175.4,315.3 176.4,314.8 177.4,314.4 178.4,314.0 179.4,313.6 180.4,313.2 181.4,312.8 182.4,312.5 183.4,312.2 184.4,311.9 185.4,311.5 186.4,311.2 187.4,310.9 188.4,310.6 189.4,310.2 190.4,309.8 191.4,309.4 192.4,309.1 193.4,308.7 194.4,308.3 195.4,307.9 196.4,307.6 197.4,307.2 198.4,306.8 199.4,306.4 200.4,306.0 201.4,305.6 202.4,305.2 203.4,304.9 204.4,304.4 205.4,304.0 206.4,303.6 207.4,303.2 208.4,302.8 209.4,302.3 210.4,301.9 211.4,301.5 212.4,301.1 213.4,300.7 214.4,300.3 215.4,299.9 216.4,299.5 217.4,299.0 218.4,298.6 219.4,298.2 220.4,297.8 221.4,297.2 222.4,296.7 223.4,296.1 224.4,295.5 225.4,295.0 226.4,294.4 227.4,293.9 228.4,293.3 229.4,292.8 230.4,292.1 231.4,291.3 232.4,290.5 233.4,289.7 234.4,288.9 235.4,288.1 236.4,287.3 237.4,286.5 238.4,285.6 239.4,284.8 240.4,284.0 241.4,283.2 242.4,282.3 243.4,281.4 244.4,280.5 245.4,279.6 246.4,278.7 247.4,277.8 248.4,276.9 249.4,276.0 250.4,275.2 251.4,274.2 252.4,273.1 253.4,272.0 254.4,270.9 255.4,269.8 256.4,268.7 257.4,267.6 258.4,266.5 259.4,265.4 260.4,264.3 261.4,263.2 262.4,262.1 263.4,261.0 264.4,259.9 265.4,258.8 266.4,257.7 267.4,256.6 268.4,255.5 269.4,254.3 270.4,252.9 271.4,251.5 272.4,250.1 273.4,248.7 274.4,247.3 275.4,245.9 276.4,244.5 277.4,243.0 278.4,241.4 279.4,239.9 280.4,238.4 281.4,236.9 282.4,235.6 283.4,234.6 284.4,233.6 285.4,232.6 286.4,231.5 287.4,230.3 288.4,229.2 289.4,227.7 290.4,225.5 291.4,222.6 292.4,219.7 293.4,216.8 294.4,214.0 295.4,213.7 296.4,213.3 297.4,213.0 298.4,213.3 299.4,214.6 300.4,215.9 301.4,217.2 302.4,218.4 303.4,218.4 304.4,216.8 305.4,215.2 306.4,213.7 307.4,212.1 308.4,210.5 309.4,208.9 310.4,207.7 311.4,207.0 312.4,206.2 313.4,205.5 314.4,204.7 315.4,204.0 316.4,203.2 317.4,202.5 318.4,201.6 319.4,200.6 320.4,199.6 321.4,198.6 322.4,197.6 323.4,197.7 324.4,199.5 325.4,201.3 326.4,203.1 327.4,204.9 328.4,206.4 329.4,207.4 330.4,208.4 331.4,209.4 332.4,210.4 333.4,211.4 334.4,212.4 335.4,213.4 336.4,213.9 337.4,213.8 338.4,213.7 339.4,213.6 340.4,213.4 341.4,213.3 342.4,213.2 343.4,213.1 344.4,212.8 345.4,212.3 346.4,211.8 347.4,211.3 348.4,210.8 349.4,210.3 350.4,209.8 351.4,209.3 352.4,208.8 353.4,208.3 354.4,207.8 355.4,207.3 356.4,206.8 357.4,206.3 358.4,205.8 359.4,205.3 360.4,204.8 361.4,204.3 362.4,203.8 363.4,203.3 364.4,202.8 365.4,202.3 366.4,201.8 367.4,201.3 368.4,200.8 369.4,200.3 370.4,199.8 371.4,199.3 372.4,198.8 373.4,198.3 374.4,197.8 375.4,197.3 376.4,197.0 377.4,196.9 378.4,196.8 379.4,196.7 380.4,196.6 381.4,196.5 382.4,196.4 383.4,196.3 384.4,196.2 385.4,196.1 386.4,195.9 387.4,195.7 388.4,195.4 389.4,195.2 390.4,194.8 391.4,194.4 392.4,194.0 393.4,193.6 394.4,193.2 395.4,192.8 396.4,192.4 397.4,192.0 398.4,191.6 399.4,191.2 400.4,190.8 401.4,190.4 402.4,190.0 403.4,189.6 404.4,189.2 405.4,188.6 406.4,187.6 407.4,186.6 408.4,185.6 409.4,184.6 410.4,183.4 411.4,181.9 412.4,180.9 413.4,180.7 414.4,180.4 415.4,180.2 416.4,179.9 417.4,179.7 418.4,179.4 419.4,179.2 420.4,178.9 421.4,178.7 422.4,178.5 423.4,178.3 424.4,178.1 425.4,177.9 426.4,177.7 427.4,177.5 428.4,177.3 429.4,177.1 430.4,176.9 431.4,176.8 432.4,176.7 433.4,176.5 434.4,176.4 435.4,176.2 436.4,176.1 437.4,175.6 438.4,174.6 439.4,173.6 440.4,172.6 441.4,171.6 442.4,170.6 443.4,169.6 444.4,168.6 445.4,167.6 446.4,166.8 447.4,166.2 448.4,165.6 449.4,165.0 450.4,164.4 451.4,163.9 452.4,163.3 453.4,162.7 454.4,162.1 455.4,161.5 456.4,160.9 457.4,160.4 458.4,159.9 459.4,159.6 460.4,159.3 461.4,159.0 462.4,158.7 463.4,158.4 464.4,158.1 465.4,157.8 466.4,157.7 467.4,157.8 468.4,158.0 469.4,158.2 470.4,158.4 471.4,158.5 472.4,158.7 473.4,158.9 474.4,159.2 475.4,159.7 476.4,160.2 477.4,160.7 478.4,161.2 479.4,161.7 480.4,162.2 481.4,162.7 482.4,163.2 483.4,163.7 484.4,164.2 485.4,164.7 486.4,165.2 487.4,165.7 488.4,166.2 489.4,166.7 490.4,167.2 491.4,167.7 492.4,168.2 493.4,168.7 494.4,169.2 495.4,169.7 496.4,170.2 497.4,170.7 498.4,171.2 499.4,171.8 500.4,172.4 501.4,173.0 502.4,173.6 503.4,174.1 504.4,174.7 505.4,175.3 506.4,175.9 507.4,176.5 508.4,177.1 509.4,177.6 510.4,178.2 511.4,178.8 512.4,179.4 513.4,180.0 514.4,180.6 515.4,181.2 516.4,181.8 517.4,182.4 518.4,183.0 519.4,183.6 520.4,184.2 521.4,184.8 522.4,185.3 523.4,185.9 524.4,186.4 525.4,187.0 526.4,187.5 527.4,188.1 528.4,188.6 529.4,189.2 530.4,189.8 531.4,190.5 532.4,191.3 533.4,192.0 534.4,192.8 535.4,193.5 536.4,194.3 537.4,195.0 538.4,195.8 539.4,196.5 540.4,197.3 541.4,198.0 542.4,198.7 543.4,199.4 544.4,200.1 545.4,200.8 546.4,201.5 547.4,202.2 548.4,202.9 549.4,203.6 550.4,204.3 551.4,205.0 552.4,205.7 553.4,206.4 554.4,207.1 555.4,207.8 556.4,208.5 557.4,209.2 558.4,209.9 559.4,210.6 560.4,211.2 561.4,211.8 562.4,212.4 563.4,213.0 564.4,213.5 565.4,214.1 566.4,214.7 567.4,215.3 568.4,215.8 569.4,216.4 570.4,217.0 571.4,217.6 572.4,218.1 573.4,218.7 574.4,219.3 575.4,219.9 576.4,220.4 577.4,221.0 578.4,221.6 579.4,222.2 580.4,222.7 581.4,223.3 582.4,223.9 583.4,224.5 584.4,225.0 585.4,225.6 586.4,226.2 587.4,226.8 588.4,227.3 589.4,227.9 590.4,228.5 591.4,229.1 592.4,229.6 593.4,230.2 594.4,230.8 595.4,231.4 596.4,231.9 597.4,232.5 598.4,233.1 599.4,233.7 600.4,234.2 601.4,234.8 602.4,235.4 603.4,236.0 604.4,236.6 605.4,237.2 606.4,237.8 607.4,238.4 608.4,239.0 609.4,239.6 610.4,240.2 611.4,240.8 612.4,241.4 613.4,242.0 614.4,242.6 615.4,243.2 616.4,243.8 617.4,244.4 618.4,245.0 619.4,245.6 620.4,246.2 621.4,246.8 622.4,247.3 623.4,247.9 624.4,248.4 625.4,249.0 626.4,249.5 627.4,250.1 628.4,250.6 629.4,251.2 630.4,251.7 631.4,252.3 632.4,252.8 633.4,253.4 634.4,253.9 635.4,254.5 636.4,255.0 637.4,255.6 638.4,256.1 639.4,256.7 640.4,257.2 641.4,257.7 642.4,258.2 643.4,258.7 644.4,259.2 645.4,259.7 646.4,260.2 647.4,260.7 648.4,261.2 649.4,261.7 650.4,262.2 651.4,262.7 652.4,263.2 653.4,263.7 654.4,264.2 655.4,264.7 656.4,265.2 657.4,265.7 658.4,266.2 659.4,266.7 660.4,267.2 661.4,267.7 662.4,268.2 663.4,268.7 664.4,269.2 665.4,269.7 666.4,270.2 667.4,270.7 668.4,271.2 669.4,271.7 670.4,272.2 672.0,273.0 L672.0,280.5 670.4,279.8 669.4,279.4 668.4,279.0 667.4,278.6 666.4,278.2 665.4,277.8 664.4,277.3 663.4,276.9 662.4,276.5 661.4,276.1 660.4,275.7 659.4,275.2 658.4,274.8 657.4,274.3 656.4,273.9 655.4,273.4 654.4,273.0 653.4,272.5 652.4,272.1 651.4,271.6 650.4,271.2 649.4,270.7 648.4,270.3 647.4,269.8 646.4,269.4 645.4,268.9 644.4,268.5 643.4,268.0 642.4,267.6 641.4,267.1 640.4,266.7 639.4,266.2 638.4,265.7 637.4,265.2 636.4,264.7 635.4,264.2 634.4,263.7 633.4,263.2 632.4,262.7 631.4,262.2 630.4,261.7 629.4,261.2 628.4,260.7 627.4,260.2 626.4,259.7 625.4,259.2 624.4,258.7 623.4,258.2 622.4,257.7 621.4,257.2 620.4,256.7 619.4,256.2 618.4,255.7 617.4,255.2 616.4,254.7 615.4,254.2 614.4,253.7 613.4,253.2 612.4,252.7 611.4,252.2 610.4,251.7 609.4,251.2 608.4,250.7 607.4,250.2 606.4,249.7 605.4,249.2 604.4,248.7 603.4,248.2 602.4,247.7 601.4,247.2 600.4,246.7 599.4,246.2 598.4,245.7 597.4,245.3 596.4,244.8 595.4,244.3 594.4,243.8 593.4,243.4 592.4,242.9 591.4,242.4 590.4,241.9 589.4,241.5 588.4,241.0 587.4,240.5 586.4,240.0 585.4,239.6 584.4,239.1 583.4,238.6 582.4,238.1 581.4,237.7 580.4,237.2 579.4,236.7 578.4,236.1 577.4,235.5 576.4,234.9 575.4,234.4 574.4,233.8 573.4,233.2 572.4,232.6 571.4,232.1 570.4,231.5 569.4,230.9 568.4,230.3 567.4,229.8 566.4,229.2 565.4,228.6 564.4,228.0 563.4,227.5 562.4,226.9 561.4,226.3 560.4,225.7 559.4,225.1 558.4,224.5 557.4,223.8 556.4,223.2 555.4,222.5 554.4,221.9 553.4,221.2 552.4,220.6 551.4,219.9 550.4,219.3 549.4,218.6 548.4,218.0 547.4,217.3 546.4,216.7 545.4,216.0 544.4,215.4 543.4,214.7 542.4,214.1 541.4,213.4 540.4,212.8 539.4,212.1 538.4,211.5 537.4,210.8 536.4,210.2 535.4,209.5 534.4,208.9 533.4,208.2 532.4,207.6 531.4,206.9 530.4,206.3 529.4,205.6 528.4,205.0 527.4,204.3 526.4,203.7 525.4,203.0 524.4,202.4 523.4,201.7 522.4,201.1 521.4,200.4 520.4,199.8 519.4,199.1 518.4,198.5 517.4,197.9 516.4,197.3 515.4,196.7 514.4,196.1 513.4,195.5 512.4,194.9 511.4,194.3 510.4,193.7 509.4,193.1 508.4,192.6 507.4,192.0 506.4,191.4 505.4,190.8 504.4,190.2 503.4,189.6 502.4,189.1 501.4,188.5 500.4,187.9 499.4,187.3 498.4,186.7 497.4,186.2 496.4,185.7 495.4,185.2 494.4,184.7 493.4,184.2 492.4,183.7 491.4,183.2 490.4,182.7 489.4,182.2 488.4,181.7 487.4,181.2 486.4,180.7 485.4,180.2 484.4,179.6 483.4,179.1 482.4,178.5 481.4,178.0 480.4,177.4 479.4,176.9 478.4,176.3 477.4,175.8 476.4,175.2 475.4,174.7 474.4,174.1 473.4,173.9 472.4,173.8 471.4,173.8 470.4,173.7 469.4,173.7 468.4,173.6 467.4,173.6 466.4,173.5 465.4,173.7 464.4,173.9 463.4,174.2 462.4,174.4 461.4,174.7 460.4,174.9 459.4,175.2 458.4,175.4 457.4,175.9 456.4,176.6 455.4,177.2 454.4,177.9 453.4,178.6 452.4,179.2 451.4,179.9 450.4,180.6 449.4,181.2 448.4,181.9 447.4,182.6 446.4,183.2 445.4,184.0 444.4,184.7 443.4,185.5 442.4,186.3 441.4,187.1 440.4,187.9 439.4,188.6 438.4,189.4 437.4,190.2 436.4,190.5 435.4,190.5 434.4,190.5 433.4,190.5 432.4,190.5 431.4,190.5 430.4,190.5 429.4,190.6 428.4,190.7 427.4,190.8 426.4,190.9 425.4,191.0 424.4,191.1 423.4,191.2 422.4,191.3 421.4,191.4 420.4,191.5 419.4,191.8 418.4,192.3 417.4,192.8 416.4,193.3 415.4,193.8 414.4,194.3 413.4,194.8 412.4,195.3 411.4,195.8 410.4,196.3 409.4,196.9 408.4,197.6 407.4,198.3 406.4,199.0 405.4,199.7 404.4,200.4 403.4,201.1 402.4,201.8 401.4,202.5 400.4,203.2 399.4,203.6 398.4,203.8 397.4,204.0 396.4,204.2 395.4,204.4 394.4,204.6 393.4,204.8 392.4,205.0 391.4,205.2 390.4,205.4 389.4,207.4 388.4,207.5 387.4,207.6 386.4,207.8 385.4,207.8 384.4,207.8 383.4,207.8 382.4,207.8 381.4,207.8 380.4,207.8 379.4,207.8 378.4,207.8 377.4,207.8 376.4,207.8 375.4,208.1 374.4,208.6 373.4,209.1 372.4,209.6 371.4,210.1 370.4,210.6 369.4,211.1 368.4,211.6 367.4,212.1 366.4,212.6 365.4,213.0 364.4,213.4 363.4,213.8 362.4,214.2 361.4,214.5 360.4,214.9 359.4,215.3 358.4,215.7 357.4,216.3 356.4,217.1 355.4,218.0 354.4,218.8 353.4,219.6 352.4,220.5 351.4,220.7 350.4,220.6 349.4,220.5 348.4,220.4 347.4,220.2 346.4,220.1 345.4,220.0 344.4,219.9 343.4,219.8 342.4,219.8 341.4,219.8 340.4,219.8 339.4,219.8 338.4,219.8 337.4,219.8 336.4,219.8 335.4,219.3 334.4,218.4 333.4,217.5 332.4,216.6 331.4,215.8 330.4,214.9 329.4,214.0 328.4,213.1 327.4,212.0 326.4,210.7 325.4,209.3 324.4,208.0 323.4,206.7 322.4,205.3 321.4,205.2 320.4,205.8 319.4,206.4 318.4,207.0 317.4,207.6 316.4,208.1 315.4,208.5 314.4,208.9 313.4,209.3 312.4,209.8 311.4,210.2 310.4,210.6 309.4,211.5 308.4,212.7 307.4,213.9 306.4,215.1 305.4,216.3 304.4,217.5 303.4,218.7 302.4,218.4 301.4,217.2 300.4,215.9 299.4,214.6 298.4,213.3 297.4,213.0 296.4,213.3 295.4,213.7 294.4,215.4 293.4,218.2 292.4,220.9 291.4,223.6 290.4,226.4 289.4,228.4 288.4,229.6 287.4,230.6 286.4,231.6 285.4,232.6 284.4,233.6 283.4,234.6 282.4,235.6 281.4,236.9 280.4,238.4 279.4,239.9 278.4,241.4 277.4,243.0 276.4,244.5 275.4,245.9 274.4,247.3 273.4,248.7 272.4,250.1 271.4,251.5 270.4,252.9 269.4,254.3 268.4,255.5 267.4,256.6 266.4,257.7 265.4,258.8 264.4,259.9 263.4,261.0 262.4,262.1 261.4,263.2 260.4,264.3 259.4,265.4 258.4,266.5 257.4,267.6 256.4,268.7 255.4,269.8 254.4,270.9 253.4,272.0 252.4,273.1 251.4,274.2 250.4,275.2 249.4,276.0 248.4,276.9 247.4,277.8 246.4,278.7 245.4,279.6 244.4,280.5 243.4,281.4 242.4,282.3 241.4,283.2 240.4,284.0 239.4,284.8 238.4,285.6 237.4,286.5 236.4,287.3 235.4,288.1 234.4,288.9 233.4,289.7 232.4,290.5 231.4,291.3 230.4,292.1 229.4,292.8 228.4,293.3 227.4,293.9 226.4,294.4 225.4,295.0 224.4,295.5 223.4,296.1 222.4,296.7 221.4,297.2 220.4,297.8 219.4,298.2 218.4,298.6 217.4,299.0 216.4,299.5 215.4,299.9 214.4,300.3 213.4,300.7 212.4,301.1 211.4,301.5 210.4,301.9 209.4,302.3 208.4,302.8 207.4,303.2 206.4,303.6 205.4,304.0 204.4,304.4 203.4,304.9 202.4,305.2 201.4,305.6 200.4,306.0 199.4,306.4 198.4,306.8 197.4,307.2 196.4,307.6 195.4,307.9 194.4,308.3 193.4,308.7 192.4,309.1 191.4,309.4 190.4,309.8 189.4,310.2 188.4,310.6 187.4,310.9 186.4,311.2 185.4,311.5 184.4,311.9 183.4,312.2 182.4,312.5 181.4,312.8 180.4,313.2 179.4,313.6 178.4,314.0 177.4,314.4 176.4,314.8 175.4,315.3 174.4,315.7 173.4,316.1 172.4,316.5 171.4,316.9 170.4,317.2 169.4,317.5 168.4,317.8 167.4,318.1 166.4,318.4 165.4,318.7 164.4,319.0 163.4,319.3 162.4,319.6 161.4,319.8 160.4,320.0 159.4,320.2 158.4,320.4 157.4,320.6 156.4,320.8 155.4,321.0 154.4,321.2 153.4,321.4 152.4,321.6 151.4,321.8 150.4,322.0 149.4,322.2 148.4,322.4 147.4,322.6 146.4,322.8 145.4,323.0 144.4,323.2 143.4,323.4 142.4,323.6 141.4,323.6 140.4,323.5 139.4,323.4 138.4,323.2 137.4,323.1 136.4,323.0 135.4,322.8 134.4,322.7 133.4,322.6 132.4,322.5 131.4,322.5 130.4,322.7 129.4,322.9 128.4,323.1 127.4,323.3 126.4,323.5 125.4,323.7 124.4,323.9 123.4,324.0 122.4,324.0 121.4,324.0 120.4,324.0 119.4,324.0 118.4,324.0 117.4,324.0 116.4,324.0 115.4,324.2 114.4,324.4 113.4,324.7 112.4,325.0 111.4,325.2 110.4,325.5 109.4,325.8 108.4,326.0 107.4,326.3 106.4,326.6 105.4,326.8 104.4,327.1 103.4,327.3 102.4,327.4 101.4,327.5 100.4,327.6 99.4,327.8 98.4,327.9 97.4,328.0 96.4,328.1 95.4,328.3 94.4,328.4 93.4,328.5 92.4,328.6 91.4,328.7 90.4,328.6 89.4,328.6 88.4,328.5 87.4,328.5 86.4,328.5 85.4,328.4 84.4,328.4 83.4,328.3 82.4,328.3Z"/></clipPath>
<path d="M82.4,328.3 83.4,328.3 84.4,328.4 85.4,328.4 86.4,328.5 87.4,328.5 88.4,328.5 89.4,328.6 90.4,328.6 91.4,328.7 92.4,328.6 93.4,328.5 94.4,328.4 95.4,328.3 96.4,328.1 97.4,328.0 98.4,327.9 99.4,327.8 100.4,327.6 101.4,327.5 102.4,327.4 103.4,327.3 104.4,327.1 105.4,326.8 106.4,326.6 107.4,326.3 108.4,326.0 109.4,325.8 110.4,325.5 111.4,325.2 112.4,325.0 113.4,324.7 114.4,324.4 115.4,324.2 116.4,324.0 117.4,324.0 118.4,324.0 119.4,324.0 120.4,324.0 121.4,324.0 122.4,324.0 123.4,324.0 124.4,323.9 125.4,323.7 126.4,323.5 127.4,323.3 128.4,323.1 129.4,322.9 130.4,322.7 131.4,322.5 132.4,322.5 133.4,322.6 134.4,322.7 135.4,322.8 136.4,323.0 137.4,323.1 138.4,323.2 139.4,323.4 140.4,323.5 141.4,323.6 142.4,323.6 143.4,323.4 144.4,323.2 145.4,323.0 146.4,322.8 147.4,322.6 148.4,322.4 149.4,322.2 150.4,322.0 151.4,321.8 152.4,321.6 153.4,321.4 154.4,321.2 155.4,321.0 156.4,320.8 157.4,320.6 158.4,320.4 159.4,320.2 160.4,320.0 161.4,319.8 162.4,319.6 163.4,319.3 164.4,319.0 165.4,318.7 166.4,318.4 167.4,318.1 168.4,317.8 169.4,317.5 170.4,317.2 171.4,316.9 172.4,316.5 173.4,316.1 174.4,315.7 175.4,315.3 176.4,314.8 177.4,314.4 178.4,314.0 179.4,313.6 180.4,313.2 181.4,312.8 182.4,312.5 183.4,312.2 184.4,311.9 185.4,311.5 186.4,311.2 187.4,310.9 188.4,310.6 189.4,310.2 190.4,309.8 191.4,309.4 192.4,309.1 193.4,308.7 194.4,308.3 195.4,307.9 196.4,307.6 197.4,307.2 198.4,306.8 199.4,306.4 200.4,306.0 201.4,305.6 202.4,305.2 203.4,304.9 204.4,304.4 205.4,304.0 206.4,303.6 207.4,303.2 208.4,302.8 209.4,302.3 210.4,301.9 211.4,301.5 212.4,301.1 213.4,300.7 214.4,300.3 215.4,299.9 216.4,299.5 217.4,299.0 218.4,298.6 219.4,298.2 220.4,297.8 221.4,297.2 222.4,296.7 223.4,296.1 224.4,295.5 225.4,295.0 226.4,294.4 227.4,293.9 228.4,293.3 229.4,292.8 230.4,292.1 231.4,291.3 232.4,290.5 233.4,289.7 234.4,288.9 235.4,288.1 236.4,287.3 237.4,286.5 238.4,285.6 239.4,284.8 240.4,284.0 241.4,283.2 242.4,282.3 243.4,281.4 244.4,280.5 245.4,279.6 246.4,278.7 247.4,277.8 248.4,276.9 249.4,276.0 250.4,275.2 251.4,274.2 252.4,273.1 253.4,272.0 254.4,270.9 255.4,269.8 256.4,268.7 257.4,267.6 258.4,266.5 259.4,265.4 260.4,264.3 261.4,263.2 262.4,262.1 263.4,261.0 264.4,259.9 265.4,258.8 266.4,257.7 267.4,256.6 268.4,255.5 269.4,254.3 270.4,252.9 271.4,251.5 272.4,250.1 273.4,248.7 274.4,247.3 275.4,245.9 276.4,244.5 277.4,243.0 278.4,241.4 279.4,239.9 280.4,238.4 281.4,236.9 282.4,235.6 283.4,234.6 284.4,233.6 285.4,232.6 286.4,231.5 287.4,230.3 288.4,229.2 289.4,227.7 290.4,225.5 291.4,222.6 292.4,219.7 293.4,216.8 294.4,214.0 295.4,213.7 296.4,213.3 297.4,213.0 298.4,213.3 299.4,214.6 300.4,215.9 301.4,217.2 302.4,218.4 303.4,218.4 304.4,216.8 305.4,215.2 306.4,213.7 307.4,212.1 308.4,210.5 309.4,208.9 310.4,207.7 311.4,207.0 312.4,206.2 313.4,205.5 314.4,204.7 315.4,204.0 316.4,203.2 317.4,202.5 318.4,201.6 319.4,200.6 320.4,199.6 321.4,198.6 322.4,197.6 323.4,197.7 324.4,199.5 325.4,201.3 326.4,203.1 327.4,204.9 328.4,206.4 329.4,207.4 330.4,208.4 331.4,209.4 332.4,210.4 333.4,211.4 334.4,212.4 335.4,213.4 336.4,213.9 337.4,213.8 338.4,213.7 339.4,213.6 340.4,213.4 341.4,213.3 342.4,213.2 343.4,213.1 344.4,212.8 345.4,212.3 346.4,211.8 347.4,211.3 348.4,210.8 349.4,210.3 350.4,209.8 351.4,209.3 352.4,208.8 353.4,208.3 354.4,207.8 355.4,207.3 356.4,206.8 357.4,206.3 358.4,205.8 359.4,205.3 360.4,204.8 361.4,204.3 362.4,203.8 363.4,203.3 364.4,202.8 365.4,202.3 366.4,201.8 367.4,201.3 368.4,200.8 369.4,200.3 370.4,199.8 371.4,199.3 372.4,198.8 373.4,198.3 374.4,197.8 375.4,197.3 376.4,197.0 377.4,196.9 378.4,196.8 379.4,196.7 380.4,196.6 381.4,196.5 382.4,196.4 383.4,196.3 384.4,196.2 385.4,196.1 386.4,195.9 387.4,195.7 388.4,195.4 389.4,195.2 390.4,194.8 391.4,194.4 392.4,194.0 393.4,193.6 394.4,193.2 395.4,192.8 396.4,192.4 397.4,192.0 398.4,191.6 399.4,191.2 400.4,190.8 401.4,190.4 402.4,190.0 403.4,189.6 404.4,189.2 405.4,188.6 406.4,187.6 407.4,186.6 408.4,185.6 409.4,184.6 410.4,183.4 411.4,181.9 412.4,180.9 413.4,180.7 414.4,180.4 415.4,180.2 416.4,179.9 417.4,179.7 418.4,179.4 419.4,179.2 420.4,178.9 421.4,178.7 422.4,178.5 423.4,178.3 424.4,178.1 425.4,177.9 426.4,177.7 427.4,177.5 428.4,177.3 429.4,177.1 430.4,176.9 431.4,176.8 432.4,176.7 433.4,176.5 434.4,176.4 435.4,176.2 436.4,176.1 437.4,175.6 438.4,174.6 439.4,173.6 440.4,172.6 441.4,171.6 442.4,170.6 443.4,169.6 444.4,168.6 445.4,167.6 446.4,166.8 447.4,166.2 448.4,165.6 449.4,165.0 450.4,164.4 451.4,163.9 452.4,163.3 453.4,162.7 454.4,162.1 455.4,161.5 456.4,160.9 457.4,160.4 458.4,159.9 459.4,159.6 460.4,159.3 461.4,159.0 462.4,158.7 463.4,158.4 464.4,158.1 465.4,157.8 466.4,157.7 467.4,157.8 468.4,158.0 469.4,158.2 470.4,158.4 471.4,158.5 472.4,158.7 473.4,158.9 474.4,159.2 475.4,159.7 476.4,160.2 477.4,160.7 478.4,161.2 479.4,161.7 480.4,162.2 481.4,162.7 482.4,163.2 483.4,163.7 484.4,164.2 485.4,164.7 486.4,165.2 487.4,165.7 488.4,166.2 489.4,166.7 490.4,167.2 491.4,167.7 492.4,168.2 493.4,168.7 494.4,169.2 495.4,169.7 496.4,170.2 497.4,170.7 498.4,171.2 499.4,171.8 500.4,172.4 501.4,173.0 502.4,173.6 503.4,174.1 504.4,174.7 505.4,175.3 506.4,175.9 507.4,176.5 508.4,177.1 509.4,177.6 510.4,178.2 511.4,178.8 512.4,179.4 513.4,180.0 514.4,180.6 515.4,181.2 516.4,181.8 517.4,182.4 518.4,183.0 519.4,183.6 520.4,184.2 521.4,184.8 522.4,185.3 523.4,185.9 524.4,186.4 525.4,187.0 526.4,187.5 527.4,188.1 528.4,188.6 529.4,189.2 530.4,189.8 531.4,190.5 532.4,191.3 533.4,192.0 534.4,192.8 535.4,193.5 536.4,194.3 537.4,195.0 538.4,195.8 539.4,196.5 540.4,197.3 541.4,198.0 542.4,198.7 543.4,199.4 544.4,200.1 545.4,200.8 546.4,201.5 547.4,202.2 548.4,202.9 549.4,203.6 550.4,204.3 551.4,205.0 552.4,205.7 553.4,206.4 554.4,207.1 555.4,207.8 556.4,208.5 557.4,209.2 558.4,209.9 559.4,210.6 560.4,211.2 561.4,211.8 562.4,212.4 563.4,213.0 564.4,213.5 565.4,214.1 566.4,214.7 567.4,215.3 568.4,215.8 569.4,216.4 570.4,217.0 571.4,217.6 572.4,218.1 573.4,218.7 574.4,219.3 575.4,219.9 576.4,220.4 577.4,221.0 578.4,221.6 579.4,222.2 580.4,222.7 581.4,223.3 582.4,223.9 583.4,224.5 584.4,225.0 585.4,225.6 586.4,226.2 587.4,226.8 588.4,227.3 589.4,227.9 590.4,228.5 591.4,229.1 592.4,229.6 593.4,230.2 594.4,230.8 595.4,231.4 596.4,231.9 597.4,232.5 598.4,233.1 599.4,233.7 600.4,234.2 601.4,234.8 602.4,235.4 603.4,236.0 604.4,236.6 605.4,237.2 606.4,237.8 607.4,238.4 608.4,239.0 609.4,239.6 610.4,240.2 611.4,240.8 612.4,241.4 613.4,242.0 614.4,242.6 615.4,243.2 616.4,243.8 617.4,244.4 618.4,245.0 619.4,245.6 620.4,246.2 621.4,246.8 622.4,247.3 623.4,247.9 624.4,248.4 625.4,249.0 626.4,249.5 627.4,250.1 628.4,250.6 629.4,251.2 630.4,251.7 631.4,252.3 632.4,252.8 633.4,253.4 634.4,253.9 635.4,254.5 636.4,255.0 637.4,255.6 638.4,256.1 639.4,256.7 640.4,257.2 641.4,257.7 642.4,258.2 643.4,258.7 644.4,259.2 645.4,259.7 646.4,260.2 647.4,260.7 648.4,261.2 649.4,261.7 650.4,262.2 651.4,262.7 652.4,263.2 653.4,263.7 654.4,264.2 655.4,264.7 656.4,265.2 657.4,265.7 658.4,266.2 659.4,266.7 660.4,267.2 661.4,267.7 662.4,268.2 663.4,268.7 664.4,269.2 665.4,269.7 666.4,270.2 667.4,270.7 668.4,271.2 669.4,271.7 670.4,272.2 672.0,273.0 L672.0,280.5 670.4,279.8 669.4,279.4 668.4,279.0 667.4,278.6 666.4,278.2 665.4,277.8 664.4,277.3 663.4,276.9 662.4,276.5 661.4,276.1 660.4,275.7 659.4,275.2 658.4,274.8 657.4,274.3 656.4,273.9 655.4,273.4 654.4,273.0 653.4,272.5 652.4,272.1 651.4,271.6 650.4,271.2 649.4,270.7 648.4,270.3 647.4,269.8 646.4,269.4 645.4,268.9 644.4,268.5 643.4,268.0 642.4,267.6 641.4,267.1 640.4,266.7 639.4,266.2 638.4,265.7 637.4,265.2 636.4,264.7 635.4,264.2 634.4,263.7 633.4,263.2 632.4,262.7 631.4,262.2 630.4,261.7 629.4,261.2 628.4,260.7 627.4,260.2 626.4,259.7 625.4,259.2 624.4,258.7 623.4,258.2 622.4,257.7 621.4,257.2 620.4,256.7 619.4,256.2 618.4,255.7 617.4,255.2 616.4,254.7 615.4,254.2 614.4,253.7 613.4,253.2 612.4,252.7 611.4,252.2 610.4,251.7 609.4,251.2 608.4,250.7 607.4,250.2 606.4,249.7 605.4,249.2 604.4,248.7 603.4,248.2 602.4,247.7 601.4,247.2 600.4,246.7 599.4,246.2 598.4,245.7 597.4,245.3 596.4,244.8 595.4,244.3 594.4,243.8 593.4,243.4 592.4,242.9 591.4,242.4 590.4,241.9 589.4,241.5 588.4,241.0 587.4,240.5 586.4,240.0 585.4,239.6 584.4,239.1 583.4,238.6 582.4,238.1 581.4,237.7 580.4,237.2 579.4,236.7 578.4,236.1 577.4,235.5 576.4,234.9 575.4,234.4 574.4,233.8 573.4,233.2 572.4,232.6 571.4,232.1 570.4,231.5 569.4,230.9 568.4,230.3 567.4,229.8 566.4,229.2 565.4,228.6 564.4,228.0 563.4,227.5 562.4,226.9 561.4,226.3 560.4,225.7 559.4,225.1 558.4,224.5 557.4,223.8 556.4,223.2 555.4,222.5 554.4,221.9 553.4,221.2 552.4,220.6 551.4,219.9 550.4,219.3 549.4,218.6 548.4,218.0 547.4,217.3 546.4,216.7 545.4,216.0 544.4,215.4 543.4,214.7 542.4,214.1 541.4,213.4 540.4,212.8 539.4,212.1 538.4,211.5 537.4,210.8 536.4,210.2 535.4,209.5 534.4,208.9 533.4,208.2 532.4,207.6 531.4,206.9 530.4,206.3 529.4,205.6 528.4,205.0 527.4,204.3 526.4,203.7 525.4,203.0 524.4,202.4 523.4,201.7 522.4,201.1 521.4,200.4 520.4,199.8 519.4,199.1 518.4,198.5 517.4,197.9 516.4,197.3 515.4,196.7 514.4,196.1 513.4,195.5 512.4,194.9 511.4,194.3 510.4,193.7 509.4,193.1 508.4,192.6 507.4,192.0 506.4,191.4 505.4,190.8 504.4,190.2 503.4,189.6 502.4,189.1 501.4,188.5 500.4,187.9 499.4,187.3 498.4,186.7 497.4,186.2 496.4,185.7 495.4,185.2 494.4,184.7 493.4,184.2 492.4,183.7 491.4,183.2 490.4,182.7 489.4,182.2 488.4,181.7 487.4,181.2 486.4,180.7 485.4,180.2 484.4,179.6 483.4,179.1 482.4,178.5 481.4,178.0 480.4,177.4 479.4,176.9 478.4,176.3 477.4,175.8 476.4,175.2 475.4,174.7 474.4,174.1 473.4,173.9 472.4,173.8 471.4,173.8 470.4,173.7 469.4,173.7 468.4,173.6 467.4,173.6 466.4,173.5 465.4,173.7 464.4,173.9 463.4,174.2 462.4,174.4 461.4,174.7 460.4,174.9 459.4,175.2 458.4,175.4 457.4,175.9 456.4,176.6 455.4,177.2 454.4,177.9 453.4,178.6 452.4,179.2 451.4,179.9 450.4,180.6 449.4,181.2 448.4,181.9 447.4,182.6 446.4,183.2 445.4,184.0 444.4,184.7 443.4,185.5 442.4,186.3 441.4,187.1 440.4,187.9 439.4,188.6 438.4,189.4 437.4,190.2 436.4,190.5 435.4,190.5 434.4,190.5 433.4,190.5 432.4,190.5 431.4,190.5 430.4,190.5 429.4,190.6 428.4,190.7 427.4,190.8 426.4,190.9 425.4,191.0 424.4,191.1 423.4,191.2 422.4,191.3 421.4,191.4 420.4,191.5 419.4,191.8 418.4,192.3 417.4,192.8 416.4,193.3 415.4,193.8 414.4,194.3 413.4,194.8 412.4,195.3 411.4,195.8 410.4,196.3 409.4,196.9 408.4,197.6 407.4,198.3 406.4,199.0 405.4,199.7 404.4,200.4 403.4,201.1 402.4,201.8 401.4,202.5 400.4,203.2 399.4,203.6 398.4,203.8 397.4,204.0 396.4,204.2 395.4,204.4 394.4,204.6 393.4,204.8 392.4,205.0 391.4,205.2 390.4,205.4 389.4,207.4 388.4,207.5 387.4,207.6 386.4,207.8 385.4,207.8 384.4,207.8 383.4,207.8 382.4,207.8 381.4,207.8 380.4,207.8 379.4,207.8 378.4,207.8 377.4,207.8 376.4,207.8 375.4,208.1 374.4,208.6 373.4,209.1 372.4,209.6 371.4,210.1 370.4,210.6 369.4,211.1 368.4,211.6 367.4,212.1 366.4,212.6 365.4,213.0 364.4,213.4 363.4,213.8 362.4,214.2 361.4,214.5 360.4,214.9 359.4,215.3 358.4,215.7 357.4,216.3 356.4,217.1 355.4,218.0 354.4,218.8 353.4,219.6 352.4,220.5 351.4,220.7 350.4,220.6 349.4,220.5 348.4,220.4 347.4,220.2 346.4,220.1 345.4,220.0 344.4,219.9 343.4,219.8 342.4,219.8 341.4,219.8 340.4,219.8 339.4,219.8 338.4,219.8 337.4,219.8 336.4,219.8 335.4,219.3 334.4,218.4 333.4,217.5 332.4,216.6 331.4,215.8 330.4,214.9 329.4,214.0 328.4,213.1 327.4,212.0 326.4,210.7 325.4,209.3 324.4,208.0 323.4,206.7 322.4,205.3 321.4,205.2 320.4,205.8 319.4,206.4 318.4,207.0 317.4,207.6 316.4,208.1 315.4,208.5 314.4,208.9 313.4,209.3 312.4,209.8 311.4,210.2 310.4,210.6 309.4,211.5 308.4,212.7 307.4,213.9 306.4,215.1 305.4,216.3 304.4,217.5 303.4,218.7 302.4,218.4 301.4,217.2 300.4,215.9 299.4,214.6 298.4,213.3 297.4,213.0 296.4,213.3 295.4,213.7 294.4,215.4 293.4,218.2 292.4,220.9 291.4,223.6 290.4,226.4 289.4,228.4 288.4,229.6 287.4,230.6 286.4,231.6 285.4,232.6 284.4,233.6 283.4,234.6 282.4,235.6 281.4,236.9 280.4,238.4 279.4,239.9 278.4,241.4 277.4,243.0 276.4,244.5 275.4,245.9 274.4,247.3 273.4,248.7 272.4,250.1 271.4,251.5 270.4,252.9 269.4,254.3 268.4,255.5 267.4,256.6 266.4,257.7 265.4,258.8 264.4,259.9 263.4,261.0 262.4,262.1 261.4,263.2 260.4,264.3 259.4,265.4 258.4,266.5 257.4,267.6 256.4,268.7 255.4,269.8 254.4,270.9 253.4,272.0 252.4,273.1 251.4,274.2 250.4,275.2 249.4,276.0 248.4,276.9 247.4,277.8 246.4,278.7 245.4,279.6 244.4,280.5 243.4,281.4 242.4,282.3 241.4,283.2 240.4,284.0 239.4,284.8 238.4,285.6 237.4,286.5 236.4,287.3 235.4,288.1 234.4,288.9 233.4,289.7 232.4,290.5 231.4,291.3 230.4,292.1 229.4,292.8 228.4,293.3 227.4,293.9 226.4,294.4 225.4,295.0 224.4,295.5 223.4,296.1 222.4,296.7 221.4,297.2 220.4,297.8 219.4,298.2 218.4,298.6 217.4,299.0 216.4,299.5 215.4,299.9 214.4,300.3 213.4,300.7 212.4,301.1 211.4,301.5 210.4,301.9 209.4,302.3 208.4,302.8 207.4,303.2 206.4,303.6 205.4,304.0 204.4,304.4 203.4,304.9 202.4,305.2 201.4,305.6 200.4,306.0 199.4,306.4 198.4,306.8 197.4,307.2 196.4,307.6 195.4,307.9 194.4,308.3 193.4,308.7 192.4,309.1 191.4,309.4 190.4,309.8 189.4,310.2 188.4,310.6 187.4,310.9 186.4,311.2 185.4,311.5 184.4,311.9 183.4,312.2 182.4,312.5 181.4,312.8 180.4,313.2 179.4,313.6 178.4,314.0 177.4,314.4 176.4,314.8 175.4,315.3 174.4,315.7 173.4,316.1 172.4,316.5 171.4,316.9 170.4,317.2 169.4,317.5 168.4,317.8 167.4,318.1 166.4,318.4 165.4,318.7 164.4,319.0 163.4,319.3 162.4,319.6 161.4,319.8 160.4,320.0 159.4,320.2 158.4,320.4 157.4,320.6 156.4,320.8 155.4,321.0 154.4,321.2 153.4,321.4 152.4,321.6 151.4,321.8 150.4,322.0 149.4,322.2 148.4,322.4 147.4,322.6 146.4,322.8 145.4,323.0 144.4,323.2 143.4,323.4 142.4,323.6 141.4,323.6 140.4,323.5 139.4,323.4 138.4,323.2 137.4,323.1 136.4,323.0 135.4,322.8 134.4,322.7 133.4,322.6 132.4,322.5 131.4,322.5 130.4,322.7 129.4,322.9 128.4,323.1 127.4,323.3 126.4,323.5 125.4,323.7 124.4,323.9 123.4,324.0 122.4,324.0 121.4,324.0 120.4,324.0 119.4,324.0 118.4,324.0 117.4,324.0 116.4,324.0 115.4,324.2 114.4,324.4 113.4,324.7 112.4,325.0 111.4,325.2 110.4,325.5 109.4,325.8 108.4,326.0 107.4,326.3 106.4,326.6 105.4,326.8 104.4,327.1 103.4,327.3 102.4,327.4 101.4,327.5 100.4,327.6 99.4,327.8 98.4,327.9 97.4,328.0 96.4,328.1 95.4,328.3 94.4,328.4 93.4,328.5 92.4,328.6 91.4,328.7 90.4,328.6 89.4,328.6 88.4,328.5 87.4,328.5 86.4,328.5 85.4,328.4 84.4,328.4 83.4,328.3 82.4,328.3Z" fill="#000"/>
<path clip-path="url(#cngl)" d="M204.05,150L29.05,290M209.55,150L34.55,290M215.05,150L40.05,290M220.55,150L45.55,290M226.05,150L51.05,290M231.55,150L56.55,290M237.05,150L62.05,290M242.55,150L67.55,290M248.05,150L73.05,290M253.55,150L78.55,290M259.05,150L84.05,290M264.55,150L89.55,290M270.05,150L95.05,290M275.55,150L100.55,290M281.05,150L106.05,290M286.55,150L111.55,290M292.05,150L117.05,290M297.55,150L122.55,290M303.05,150L128.05,290M308.55,150L133.55,290M314.05,150L139.05,290M319.55,150L144.55,290M325.05,150L150.05,290M330.55,150L155.55,290M336.05,150L161.05,290M341.55,150L166.55,290M347.05,150L172.05,290M352.55,150L177.55,290M358.05,150L183.05,290M363.55,150L188.55,290M369.05,150L194.05,290M374.55,150L199.55,290M380.05,150L205.05,290M385.55,150L210.55,290M391.05,150L216.05,290M396.55,150L221.55,290M402.05,150L227.05,290M407.55,150L232.55,290M413.05,150L238.05,290M418.55,150L243.55,290M424.05,150L249.05,290M429.55,150L254.55,290M435.05,150L260.05,290M440.55,150L265.55,290M446.05,150L271.05,290M451.55,150L276.55,290M457.05,150L282.05,290M462.55,150L287.55,290M468.05,150L293.05,290M473.55,150L298.55,290M479.05,150L304.05,290M484.55,150L309.55,290M490.05,150L315.05,290M495.55,150L320.55,290M501.05,150L326.05,290M506.55,150L331.55,290M512.05,150L337.05,290M517.55,150L342.55,290M523.05,150L348.05,290M528.55,150L353.55,290M534.05,150L359.05,290M539.55,150L364.55,290M545.05,150L370.05,290M550.55,150L375.55,290M556.05,150L381.05,290M561.55,150L386.55,290M567.05,150L392.05,290M572.55,150L397.55,290M578.05,150L403.05,290M583.55,150L408.55,290M589.05,150L414.05,290M594.55,150L419.55,290M600.05,150L425.05,290M605.55,150L430.55,290M611.05,150L436.05,290M616.55,150L441.55,290M622.05,150L447.05,290M627.55,150L452.55,290M633.05,150L458.05,290M638.55,150L463.55,290M644.05,150L469.05,290M649.55,150L474.55,290M655.05,150L480.05,290M660.55,150L485.55,290M666.05,150L491.05,290M671.55,150L496.55,290M677.05,150L502.05,290M682.55,150L507.55,290M688.05,150L513.05,290M693.55,150L518.55,290M699.05,150L524.05,290M704.55,150L529.55,290M710.05,150L535.05,290M715.55,150L540.55,290M721.05,150L546.05,290M726.55,150L551.55,290M732.05,150L557.05,290M737.55,150L562.55,290M743.05,150L568.05,290M748.55,150L573.55,290M754.05,150L579.05,290M759.55,150L584.55,290M765.05,150L590.05,290M770.55,150L595.55,290M776.05,150L601.05,290M781.55,150L606.55,290M787.05,150L612.05,290M792.55,150L617.55,290M798.05,150L623.05,290M803.55,150L628.55,290M809.05,150L634.05,290M814.55,150L639.55,290M820.05,150L645.05,290M825.55,150L650.55,290M831.05,150L656.05,290M836.55,150L661.55,290M842.05,150L667.05,290M847.55,150L672.55,290M853.05,150L678.05,290M858.55,150L683.55,290" stroke="#fff" stroke-width="1.72" fill="none"/>
<path d="M82.4,328.3 83.4,328.3 84.4,328.4 85.4,328.4 86.4,328.5 87.4,328.5 88.4,328.5 89.4,328.6 90.4,328.6 91.4,328.7 92.4,328.6 93.4,328.5 94.4,328.4 95.4,328.3 96.4,328.1 97.4,328.0 98.4,327.9 99.4,327.8 100.4,327.6 101.4,327.5 102.4,327.4 103.4,327.3 104.4,327.1 105.4,326.8 106.4,326.6 107.4,326.3 108.4,326.0 109.4,325.8 110.4,325.5 111.4,325.2 112.4,325.0 113.4,324.7 114.4,324.4 115.4,324.2 116.4,324.0 117.4,324.0 118.4,324.0 119.4,324.0 120.4,324.0 121.4,324.0 122.4,324.0 123.4,324.0 124.4,323.9 125.4,323.7 126.4,323.5 127.4,323.3 128.4,323.1 129.4,322.9 130.4,322.7 131.4,322.5 132.4,322.5 133.4,322.6 134.4,322.7 135.4,322.8 136.4,323.0 137.4,323.1 138.4,323.2 139.4,323.4 140.4,323.5 141.4,323.6 142.4,323.6 143.4,323.4 144.4,323.2 145.4,323.0 146.4,322.8 147.4,322.6 148.4,322.4 149.4,322.2 150.4,322.0 151.4,321.8 152.4,321.6 153.4,321.4 154.4,321.2 155.4,321.0 156.4,320.8 157.4,320.6 158.4,320.4 159.4,320.2 160.4,320.0 161.4,319.8 162.4,319.6 163.4,319.3 164.4,319.0 165.4,318.7 166.4,318.4 167.4,318.1 168.4,317.8 169.4,317.5 170.4,317.2 171.4,316.9 172.4,316.5 173.4,316.1 174.4,315.7 175.4,315.3 176.4,314.8 177.4,314.4 178.4,314.0 179.4,313.6 180.4,313.2 181.4,312.8 182.4,312.5 183.4,312.2 184.4,311.9 185.4,311.5 186.4,311.2 187.4,310.9 188.4,310.6 189.4,310.2 190.4,309.8 191.4,309.4 192.4,309.1 193.4,308.7 194.4,308.3 195.4,307.9 196.4,307.6 197.4,307.2 198.4,306.8 199.4,306.4 200.4,306.0 201.4,305.6 202.4,305.2 203.4,304.9 204.4,304.4 205.4,304.0 206.4,303.6 207.4,303.2 208.4,302.8 209.4,302.3 210.4,301.9 211.4,301.5 212.4,301.1 213.4,300.7 214.4,300.3 215.4,299.9 216.4,299.5 217.4,299.0 218.4,298.6 219.4,298.2 220.4,297.8 221.4,297.2 222.4,296.7 223.4,296.1 224.4,295.5 225.4,295.0 226.4,294.4 227.4,293.9 228.4,293.3 229.4,292.8 230.4,292.1 231.4,291.3 232.4,290.5 233.4,289.7 234.4,288.9 235.4,288.1 236.4,287.3 237.4,286.5 238.4,285.6 239.4,284.8 240.4,284.0 241.4,283.2 242.4,282.3 243.4,281.4 244.4,280.5 245.4,279.6 246.4,278.7 247.4,277.8 248.4,276.9 249.4,276.0 250.4,275.2 251.4,274.2 252.4,273.1 253.4,272.0 254.4,270.9 255.4,269.8 256.4,268.7 257.4,267.6 258.4,266.5 259.4,265.4 260.4,264.3 261.4,263.2 262.4,262.1 263.4,261.0 264.4,259.9 265.4,258.8 266.4,257.7 267.4,256.6 268.4,255.5 269.4,254.3 270.4,252.9 271.4,251.5 272.4,250.1 273.4,248.7 274.4,247.3 275.4,245.9 276.4,244.5 277.4,243.0 278.4,241.4 279.4,239.9 280.4,238.4 281.4,236.9 282.4,235.6 283.4,234.6 284.4,233.6 285.4,232.6 286.4,231.5 287.4,230.3 288.4,229.2 289.4,227.7 290.4,225.5 291.4,222.6 292.4,219.7 293.4,216.8 294.4,214.0 295.4,213.7 296.4,213.3 297.4,213.0 298.4,213.3 299.4,214.6 300.4,215.9 301.4,217.2 302.4,218.4 303.4,218.4 304.4,216.8 305.4,215.2 306.4,213.7 307.4,212.1 308.4,210.5 309.4,208.9 310.4,207.7 311.4,207.0 312.4,206.2 313.4,205.5 314.4,204.7 315.4,204.0 316.4,203.2 317.4,202.5 318.4,201.6 319.4,200.6 320.4,199.6 321.4,198.6 322.4,197.6 323.4,197.7 324.4,199.5 325.4,201.3 326.4,203.1 327.4,204.9 328.4,206.4 329.4,207.4 330.4,208.4 331.4,209.4 332.4,210.4 333.4,211.4 334.4,212.4 335.4,213.4 336.4,213.9 337.4,213.8 338.4,213.7 339.4,213.6 340.4,213.4 341.4,213.3 342.4,213.2 343.4,213.1 344.4,212.8 345.4,212.3 346.4,211.8 347.4,211.3 348.4,210.8 349.4,210.3 350.4,209.8 351.4,209.3 352.4,208.8 353.4,208.3 354.4,207.8 355.4,207.3 356.4,206.8 357.4,206.3 358.4,205.8 359.4,205.3 360.4,204.8 361.4,204.3 362.4,203.8 363.4,203.3 364.4,202.8 365.4,202.3 366.4,201.8 367.4,201.3 368.4,200.8 369.4,200.3 370.4,199.8 371.4,199.3 372.4,198.8 373.4,198.3 374.4,197.8 375.4,197.3 376.4,197.0 377.4,196.9 378.4,196.8 379.4,196.7 380.4,196.6 381.4,196.5 382.4,196.4 383.4,196.3 384.4,196.2 385.4,196.1 386.4,195.9 387.4,195.7 388.4,195.4 389.4,195.2 390.4,194.8 391.4,194.4 392.4,194.0 393.4,193.6 394.4,193.2 395.4,192.8 396.4,192.4 397.4,192.0 398.4,191.6 399.4,191.2 400.4,190.8 401.4,190.4 402.4,190.0 403.4,189.6 404.4,189.2 405.4,188.6 406.4,187.6 407.4,186.6 408.4,185.6 409.4,184.6 410.4,183.4 411.4,181.9 412.4,180.9 413.4,180.7 414.4,180.4 415.4,180.2 416.4,179.9 417.4,179.7 418.4,179.4 419.4,179.2 420.4,178.9 421.4,178.7 422.4,178.5 423.4,178.3 424.4,178.1 425.4,177.9 426.4,177.7 427.4,177.5 428.4,177.3 429.4,177.1 430.4,176.9 431.4,176.8 432.4,176.7 433.4,176.5 434.4,176.4 435.4,176.2 436.4,176.1 437.4,175.6 438.4,174.6 439.4,173.6 440.4,172.6 441.4,171.6 442.4,170.6 443.4,169.6 444.4,168.6 445.4,167.6 446.4,166.8 447.4,166.2 448.4,165.6 449.4,165.0 450.4,164.4 451.4,163.9 452.4,163.3 453.4,162.7 454.4,162.1 455.4,161.5 456.4,160.9 457.4,160.4 458.4,159.9 459.4,159.6 460.4,159.3 461.4,159.0 462.4,158.7 463.4,158.4 464.4,158.1 465.4,157.8 466.4,157.7 467.4,157.8 468.4,158.0 469.4,158.2 470.4,158.4 471.4,158.5 472.4,158.7 473.4,158.9 474.4,159.2 475.4,159.7 476.4,160.2 477.4,160.7 478.4,161.2 479.4,161.7 480.4,162.2 481.4,162.7 482.4,163.2 483.4,163.7 484.4,164.2 485.4,164.7 486.4,165.2 487.4,165.7 488.4,166.2 489.4,166.7 490.4,167.2 491.4,167.7 492.4,168.2 493.4,168.7 494.4,169.2 495.4,169.7 496.4,170.2 497.4,170.7 498.4,171.2 499.4,171.8 500.4,172.4 501.4,173.0 502.4,173.6 503.4,174.1 504.4,174.7 505.4,175.3 506.4,175.9 507.4,176.5 508.4,177.1 509.4,177.6 510.4,178.2 511.4,178.8 512.4,179.4 513.4,180.0 514.4,180.6 515.4,181.2 516.4,181.8 517.4,182.4 518.4,183.0 519.4,183.6 520.4,184.2 521.4,184.8 522.4,185.3 523.4,185.9 524.4,186.4 525.4,187.0 526.4,187.5 527.4,188.1 528.4,188.6 529.4,189.2 530.4,189.8 531.4,190.5 532.4,191.3 533.4,192.0 534.4,192.8 535.4,193.5 536.4,194.3 537.4,195.0 538.4,195.8 539.4,196.5 540.4,197.3 541.4,198.0 542.4,198.7 543.4,199.4 544.4,200.1 545.4,200.8 546.4,201.5 547.4,202.2 548.4,202.9 549.4,203.6 550.4,204.3 551.4,205.0 552.4,205.7 553.4,206.4 554.4,207.1 555.4,207.8 556.4,208.5 557.4,209.2 558.4,209.9 559.4,210.6 560.4,211.2 561.4,211.8 562.4,212.4 563.4,213.0 564.4,213.5 565.4,214.1 566.4,214.7 567.4,215.3 568.4,215.8 569.4,216.4 570.4,217.0 571.4,217.6 572.4,218.1 573.4,218.7 574.4,219.3 575.4,219.9 576.4,220.4 577.4,221.0 578.4,221.6 579.4,222.2 580.4,222.7 581.4,223.3 582.4,223.9 583.4,224.5 584.4,225.0 585.4,225.6 586.4,226.2 587.4,226.8 588.4,227.3 589.4,227.9 590.4,228.5 591.4,229.1 592.4,229.6 593.4,230.2 594.4,230.8 595.4,231.4 596.4,231.9 597.4,232.5 598.4,233.1 599.4,233.7 600.4,234.2 601.4,234.8 602.4,235.4 603.4,236.0 604.4,236.6 605.4,237.2 606.4,237.8 607.4,238.4 608.4,239.0 609.4,239.6 610.4,240.2 611.4,240.8 612.4,241.4 613.4,242.0 614.4,242.6 615.4,243.2 616.4,243.8 617.4,244.4 618.4,245.0 619.4,245.6 620.4,246.2 621.4,246.8 622.4,247.3 623.4,247.9 624.4,248.4 625.4,249.0 626.4,249.5 627.4,250.1 628.4,250.6 629.4,251.2 630.4,251.7 631.4,252.3 632.4,252.8 633.4,253.4 634.4,253.9 635.4,254.5 636.4,255.0 637.4,255.6 638.4,256.1 639.4,256.7 640.4,257.2 641.4,257.7 642.4,258.2 643.4,258.7 644.4,259.2 645.4,259.7 646.4,260.2 647.4,260.7 648.4,261.2 649.4,261.7 650.4,262.2 651.4,262.7 652.4,263.2 653.4,263.7 654.4,264.2 655.4,264.7 656.4,265.2 657.4,265.7 658.4,266.2 659.4,266.7 660.4,267.2 661.4,267.7 662.4,268.2 663.4,268.7 664.4,269.2 665.4,269.7 666.4,270.2 667.4,270.7 668.4,271.2 669.4,271.7 670.4,272.2 672.0,273.0 L672.0,280.5 670.4,279.8 669.4,279.4 668.4,279.0 667.4,278.6 666.4,278.2 665.4,277.8 664.4,277.3 663.4,276.9 662.4,276.5 661.4,276.1 660.4,275.7 659.4,275.2 658.4,274.8 657.4,274.3 656.4,273.9 655.4,273.4 654.4,273.0 653.4,272.5 652.4,272.1 651.4,271.6 650.4,271.2 649.4,270.7 648.4,270.3 647.4,269.8 646.4,269.4 645.4,268.9 644.4,268.5 643.4,268.0 642.4,267.6 641.4,267.1 640.4,266.7 639.4,266.2 638.4,265.7 637.4,265.2 636.4,264.7 635.4,264.2 634.4,263.7 633.4,263.2 632.4,262.7 631.4,262.2 630.4,261.7 629.4,261.2 628.4,260.7 627.4,260.2 626.4,259.7 625.4,259.2 624.4,258.7 623.4,258.2 622.4,257.7 621.4,257.2 620.4,256.7 619.4,256.2 618.4,255.7 617.4,255.2 616.4,254.7 615.4,254.2 614.4,253.7 613.4,253.2 612.4,252.7 611.4,252.2 610.4,251.7 609.4,251.2 608.4,250.7 607.4,250.2 606.4,249.7 605.4,249.2 604.4,248.7 603.4,248.2 602.4,247.7 601.4,247.2 600.4,246.7 599.4,246.2 598.4,245.7 597.4,245.3 596.4,244.8 595.4,244.3 594.4,243.8 593.4,243.4 592.4,242.9 591.4,242.4 590.4,241.9 589.4,241.5 588.4,241.0 587.4,240.5 586.4,240.0 585.4,239.6 584.4,239.1 583.4,238.6 582.4,238.1 581.4,237.7 580.4,237.2 579.4,236.7 578.4,236.1 577.4,235.5 576.4,234.9 575.4,234.4 574.4,233.8 573.4,233.2 572.4,232.6 571.4,232.1 570.4,231.5 569.4,230.9 568.4,230.3 567.4,229.8 566.4,229.2 565.4,228.6 564.4,228.0 563.4,227.5 562.4,226.9 561.4,226.3 560.4,225.7 559.4,225.1 558.4,224.5 557.4,223.8 556.4,223.2 555.4,222.5 554.4,221.9 553.4,221.2 552.4,220.6 551.4,219.9 550.4,219.3 549.4,218.6 548.4,218.0 547.4,217.3 546.4,216.7 545.4,216.0 544.4,215.4 543.4,214.7 542.4,214.1 541.4,213.4 540.4,212.8 539.4,212.1 538.4,211.5 537.4,210.8 536.4,210.2 535.4,209.5 534.4,208.9 533.4,208.2 532.4,207.6 531.4,206.9 530.4,206.3 529.4,205.6 528.4,205.0 527.4,204.3 526.4,203.7 525.4,203.0 524.4,202.4 523.4,201.7 522.4,201.1 521.4,200.4 520.4,199.8 519.4,199.1 518.4,198.5 517.4,197.9 516.4,197.3 515.4,196.7 514.4,196.1 513.4,195.5 512.4,194.9 511.4,194.3 510.4,193.7 509.4,193.1 508.4,192.6 507.4,192.0 506.4,191.4 505.4,190.8 504.4,190.2 503.4,189.6 502.4,189.1 501.4,188.5 500.4,187.9 499.4,187.3 498.4,186.7 497.4,186.2 496.4,185.7 495.4,185.2 494.4,184.7 493.4,184.2 492.4,183.7 491.4,183.2 490.4,182.7 489.4,182.2 488.4,181.7 487.4,181.2 486.4,180.7 485.4,180.2 484.4,179.6 483.4,179.1 482.4,178.5 481.4,178.0 480.4,177.4 479.4,176.9 478.4,176.3 477.4,175.8 476.4,175.2 475.4,174.7 474.4,174.1 473.4,173.9 472.4,173.8 471.4,173.8 470.4,173.7 469.4,173.7 468.4,173.6 467.4,173.6 466.4,173.5 465.4,173.7 464.4,173.9 463.4,174.2 462.4,174.4 461.4,174.7 460.4,174.9 459.4,175.2 458.4,175.4 457.4,175.9 456.4,176.6 455.4,177.2 454.4,177.9 453.4,178.6 452.4,179.2 451.4,179.9 450.4,180.6 449.4,181.2 448.4,181.9 447.4,182.6 446.4,183.2 445.4,184.0 444.4,184.7 443.4,185.5 442.4,186.3 441.4,187.1 440.4,187.9 439.4,188.6 438.4,189.4 437.4,190.2 436.4,190.5 435.4,190.5 434.4,190.5 433.4,190.5 432.4,190.5 431.4,190.5 430.4,190.5 429.4,190.6 428.4,190.7 427.4,190.8 426.4,190.9 425.4,191.0 424.4,191.1 423.4,191.2 422.4,191.3 421.4,191.4 420.4,191.5 419.4,191.8 418.4,192.3 417.4,192.8 416.4,193.3 415.4,193.8 414.4,194.3 413.4,194.8 412.4,195.3 411.4,195.8 410.4,196.3 409.4,196.9 408.4,197.6 407.4,198.3 406.4,199.0 405.4,199.7 404.4,200.4 403.4,201.1 402.4,201.8 401.4,202.5 400.4,203.2 399.4,203.6 398.4,203.8 397.4,204.0 396.4,204.2 395.4,204.4 394.4,204.6 393.4,204.8 392.4,205.0 391.4,205.2 390.4,205.4 389.4,207.4 388.4,207.5 387.4,207.6 386.4,207.8 385.4,207.8 384.4,207.8 383.4,207.8 382.4,207.8 381.4,207.8 380.4,207.8 379.4,207.8 378.4,207.8 377.4,207.8 376.4,207.8 375.4,208.1 374.4,208.6 373.4,209.1 372.4,209.6 371.4,210.1 370.4,210.6 369.4,211.1 368.4,211.6 367.4,212.1 366.4,212.6 365.4,213.0 364.4,213.4 363.4,213.8 362.4,214.2 361.4,214.5 360.4,214.9 359.4,215.3 358.4,215.7 357.4,216.3 356.4,217.1 355.4,218.0 354.4,218.8 353.4,219.6 352.4,220.5 351.4,220.7 350.4,220.6 349.4,220.5 348.4,220.4 347.4,220.2 346.4,220.1 345.4,220.0 344.4,219.9 343.4,219.8 342.4,219.8 341.4,219.8 340.4,219.8 339.4,219.8 338.4,219.8 337.4,219.8 336.4,219.8 335.4,219.3 334.4,218.4 333.4,217.5 332.4,216.6 331.4,215.8 330.4,214.9 329.4,214.0 328.4,213.1 327.4,212.0 326.4,210.7 325.4,209.3 324.4,208.0 323.4,206.7 322.4,205.3 321.4,205.2 320.4,205.8 319.4,206.4 318.4,207.0 317.4,207.6 316.4,208.1 315.4,208.5 314.4,208.9 313.4,209.3 312.4,209.8 311.4,210.2 310.4,210.6 309.4,211.5 308.4,212.7 307.4,213.9 306.4,215.1 305.4,216.3 304.4,217.5 303.4,218.7 302.4,218.4 301.4,217.2 300.4,215.9 299.4,214.6 298.4,213.3 297.4,213.0 296.4,213.3 295.4,213.7 294.4,215.4 293.4,218.2 292.4,220.9 291.4,223.6 290.4,226.4 289.4,228.4 288.4,229.6 287.4,230.6 286.4,231.6 285.4,232.6 284.4,233.6 283.4,234.6 282.4,235.6 281.4,236.9 280.4,238.4 279.4,239.9 278.4,241.4 277.4,243.0 276.4,244.5 275.4,245.9 274.4,247.3 273.4,248.7 272.4,250.1 271.4,251.5 270.4,252.9 269.4,254.3 268.4,255.5 267.4,256.6 266.4,257.7 265.4,258.8 264.4,259.9 263.4,261.0 262.4,262.1 261.4,263.2 260.4,264.3 259.4,265.4 258.4,266.5 257.4,267.6 256.4,268.7 255.4,269.8 254.4,270.9 253.4,272.0 252.4,273.1 251.4,274.2 250.4,275.2 249.4,276.0 248.4,276.9 247.4,277.8 246.4,278.7 245.4,279.6 244.4,280.5 243.4,281.4 242.4,282.3 241.4,283.2 240.4,284.0 239.4,284.8 238.4,285.6 237.4,286.5 236.4,287.3 235.4,288.1 234.4,288.9 233.4,289.7 232.4,290.5 231.4,291.3 230.4,292.1 229.4,292.8 228.4,293.3 227.4,293.9 226.4,294.4 225.4,295.0 224.4,295.5 223.4,296.1 222.4,296.7 221.4,297.2 220.4,297.8 219.4,298.2 218.4,298.6 217.4,299.0 216.4,299.5 215.4,299.9 214.4,300.3 213.4,300.7 212.4,301.1 211.4,301.5 210.4,301.9 209.4,302.3 208.4,302.8 207.4,303.2 206.4,303.6 205.4,304.0 204.4,304.4 203.4,304.9 202.4,305.2 201.4,305.6 200.4,306.0 199.4,306.4 198.4,306.8 197.4,307.2 196.4,307.6 195.4,307.9 194.4,308.3 193.4,308.7 192.4,309.1 191.4,309.4 190.4,309.8 189.4,310.2 188.4,310.6 187.4,310.9 186.4,311.2 185.4,311.5 184.4,311.9 183.4,312.2 182.4,312.5 181.4,312.8 180.4,313.2 179.4,313.6 178.4,314.0 177.4,314.4 176.4,314.8 175.4,315.3 174.4,315.7 173.4,316.1 172.4,316.5 171.4,316.9 170.4,317.2 169.4,317.5 168.4,317.8 167.4,318.1 166.4,318.4 165.4,318.7 164.4,319.0 163.4,319.3 162.4,319.6 161.4,319.8 160.4,320.0 159.4,320.2 158.4,320.4 157.4,320.6 156.4,320.8 155.4,321.0 154.4,321.2 153.4,321.4 152.4,321.6 151.4,321.8 150.4,322.0 149.4,322.2 148.4,322.4 147.4,322.6 146.4,322.8 145.4,323.0 144.4,323.2 143.4,323.4 142.4,323.6 141.4,323.6 140.4,323.5 139.4,323.4 138.4,323.2 137.4,323.1 136.4,323.0 135.4,322.8 134.4,322.7 133.4,322.6 132.4,322.5 131.4,322.5 130.4,322.7 129.4,322.9 128.4,323.1 127.4,323.3 126.4,323.5 125.4,323.7 124.4,323.9 123.4,324.0 122.4,324.0 121.4,324.0 120.4,324.0 119.4,324.0 118.4,324.0 117.4,324.0 116.4,324.0 115.4,324.2 114.4,324.4 113.4,324.7 112.4,325.0 111.4,325.2 110.4,325.5 109.4,325.8 108.4,326.0 107.4,326.3 106.4,326.6 105.4,326.8 104.4,327.1 103.4,327.3 102.4,327.4 101.4,327.5 100.4,327.6 99.4,327.8 98.4,327.9 97.4,328.0 96.4,328.1 95.4,328.3 94.4,328.4 93.4,328.5 92.4,328.6 91.4,328.7 90.4,328.6 89.4,328.6 88.4,328.5 87.4,328.5 86.4,328.5 85.4,328.4 84.4,328.4 83.4,328.3 82.4,328.3Z" fill="none"/>
<path d="M82.4,325.6 83.4,325.7 84.4,325.8 85.4,325.8 86.4,325.9 87.4,326.0 88.4,326.1 89.4,326.2 90.4,326.3 91.4,326.3 92.4,326.3 93.4,326.2 94.4,326.0 95.4,325.8 96.4,325.7 97.4,325.5 98.4,325.3 99.4,325.2 100.4,325.0 101.4,324.8 102.4,324.7 103.4,324.5 104.4,324.3 105.4,324.0 106.4,323.7 107.4,323.4 108.4,323.2 109.4,322.9 110.4,322.6 111.4,322.3 112.4,322.0 113.4,321.7 114.4,321.5 115.4,321.2 116.4,321.0 117.4,321.1 118.4,321.2 119.4,321.3 120.4,321.3 121.4,321.4 122.4,321.5 123.4,321.6 124.4,321.5 125.4,321.2 126.4,321.0 127.4,320.8 128.4,320.5 129.4,320.2 130.4,320.0 131.4,319.8 132.4,319.6 133.4,319.7 134.4,319.7 135.4,319.7 136.4,319.8 137.4,319.8 138.4,319.9 139.4,319.9 140.4,319.9 141.4,320.0 142.4,319.9 143.4,319.6 144.4,319.3 145.4,319.0 146.4,318.7 147.4,318.4 148.4,318.1 149.4,317.8 150.4,317.5 151.4,317.2 152.4,316.9 153.4,316.7 154.4,316.5 155.4,316.3 156.4,316.1 157.4,315.9 158.4,315.7 159.4,315.5 160.4,315.3 161.4,315.1 162.4,314.8 163.4,314.3 164.4,313.8 165.4,313.3 166.4,312.8 167.4,312.3 168.4,311.8 169.4,311.3 170.4,310.8 171.4,310.3 172.4,309.8 173.4,309.4 174.4,308.9 175.4,308.5 176.4,308.0 177.4,307.6 178.4,307.1 179.4,306.7 180.4,306.1 181.4,305.3 182.4,304.5 183.4,303.7 184.4,302.9 185.4,302.1 186.4,301.5 187.4,301.1 188.4,300.8 189.4,300.5 190.4,300.2 191.4,299.8 192.4,299.5 193.4,299.2 194.4,298.8 195.4,298.3 196.4,297.8 197.4,297.3 198.4,296.8 199.4,296.3 200.4,295.8 201.4,295.3 202.4,294.6 203.4,293.7 204.4,292.8 205.4,291.9 206.4,291.0 207.4,290.1 208.4,289.2 209.4,288.3 210.4,287.3 211.4,286.6 212.4,286.2 213.4,285.8 214.4,285.3 215.4,284.9 216.4,284.5 217.4,284.0 218.4,283.6 219.4,283.2 220.4,282.8 221.4,282.1 222.4,281.2 223.4,280.3 224.4,279.4 225.4,278.5 226.4,277.6 227.4,276.7 228.4,275.8 229.4,274.9 230.4,274.0 231.4,273.1 232.4,272.0 233.4,270.9 234.4,269.8 235.4,268.7 236.4,267.6 237.4,266.5 238.4,265.4 239.4,264.3 240.4,263.2 241.4,262.0 242.4,260.9 243.4,259.7 244.4,258.5 245.4,257.4 246.4,256.2 247.4,255.0 248.4,253.9 249.4,252.7 250.4,251.3 251.4,249.7 252.4,248.1 253.4,246.5 254.4,244.8 255.4,243.2 256.4,241.6 257.4,240.0 258.4,238.3 259.4,236.6 260.4,234.9 261.4,233.2 262.4,231.5 263.4,229.8 264.4,228.1 265.4,226.4 266.4,224.7 267.4,223.0 268.4,221.0 269.4,218.6 270.4,216.1 271.4,213.7 272.4,211.2 273.4,208.8 274.4,206.4 275.4,203.9 276.4,201.5 277.4,199.1 278.4,196.7 279.4,194.4 280.4,192.1 281.4,189.7 282.4,187.4 283.4,185.4 284.4,184.0 285.4,182.6 286.4,181.1 287.4,179.7 288.4,178.3 289.4,176.9 290.4,174.9 291.4,172.1 292.4,169.3 293.4,166.5 294.4,163.7 295.4,161.9 296.4,161.5 297.4,161.2 298.4,161.6 299.4,163.0 300.4,164.4 301.4,165.8 302.4,167.2 303.4,166.9 304.4,164.1 305.4,161.3 306.4,158.5 307.4,155.7 308.4,153.6 309.4,152.6 310.4,151.6 311.4,150.6 312.4,149.6 313.4,148.6 314.4,147.7 315.4,146.9 316.4,146.1 317.4,145.3 318.4,144.5 319.4,143.2 320.4,141.2 321.4,139.2 322.4,137.2 323.4,136.6 324.4,138.1 325.4,139.6 326.4,141.1 327.4,142.5 328.4,143.7 329.4,144.9 330.4,146.1 331.4,147.3 332.4,148.4 333.4,149.4 334.4,150.4 335.4,151.4 336.4,152.4 337.4,153.4 338.4,154.1 339.4,154.3 340.4,154.6 341.4,154.8 342.4,154.4 343.4,152.8 344.4,151.2 345.4,149.6 346.4,148.0 347.4,146.9 348.4,146.8 349.4,146.6 350.4,146.4 351.4,146.3 352.4,146.1 353.4,145.5 354.4,144.1 355.4,142.8 356.4,141.5 357.4,140.1 358.4,138.8 359.4,137.9 360.4,137.5 361.4,137.2 362.4,136.4 363.4,134.9 364.4,133.4 365.4,131.9 366.4,130.4 367.4,128.9 368.4,127.7 369.4,126.8 370.4,125.9 371.4,125.1 372.4,124.2 373.4,123.4 374.4,122.5 375.4,121.6 376.4,120.6 377.4,119.6 378.4,118.9 379.4,118.7 380.4,118.4 381.4,118.2 382.4,117.9 383.4,117.7 384.4,117.4 385.4,117.2 386.4,116.9 387.4,116.7 388.4,116.4 389.4,116.2 390.4,115.8 391.4,115.3 392.4,114.8 393.4,114.3 394.4,113.8 395.4,113.3 396.4,112.8 397.4,112.3 398.4,111.8 399.4,111.3 400.4,110.5 401.4,109.1 402.4,107.7 403.4,106.4 404.4,105.0 405.4,103.7 406.4,102.3 407.4,100.9 408.4,99.6 409.4,98.2 410.4,97.0 411.4,96.1 412.4,95.2 413.4,94.3 414.4,93.4 415.4,92.5 416.4,91.5 417.4,91.0 418.4,91.1 419.4,91.2 420.4,91.3 421.4,91.4 422.4,91.1 423.4,90.3 424.4,89.5 425.4,88.7 426.4,87.9 427.4,87.1 428.4,86.6 429.4,86.7 430.4,86.7 431.4,86.8 432.4,86.9 433.4,86.9 434.4,87.0 435.4,86.4 436.4,85.1 437.4,83.7 438.4,82.3 439.4,81.0 440.4,79.6 441.4,78.1 442.4,76.6 443.4,75.2 444.4,73.7 445.4,72.2 446.4,71.0 447.4,70.3 448.4,69.5 449.4,68.8 450.4,68.1 451.4,67.3 452.4,66.8 453.4,66.4 454.4,66.1 455.4,65.8 456.4,65.5 457.4,65.1 458.4,64.8 459.4,64.5 460.4,64.2 461.4,64.1 462.4,64.0 463.4,63.9 464.4,63.8 465.4,63.6 466.4,63.5 467.4,63.4 468.4,63.3 469.4,63.5 470.4,63.6 471.4,63.7 472.4,63.8 473.4,64.0 474.4,64.1 475.4,64.2 476.4,64.5 477.4,64.9 478.4,65.3 479.4,65.7 480.4,66.1 481.4,66.5 482.4,66.9 483.4,67.3 484.4,67.7 485.4,68.1 486.4,68.4 487.4,68.8 488.4,69.1 489.4,69.4 490.4,69.8 491.4,70.1 492.4,70.4 493.4,70.8 494.4,71.1 495.4,71.4 496.4,71.8 497.4,72.1 498.4,72.5 499.4,72.9 500.4,73.4 501.4,73.9 502.4,74.3 503.4,74.8 504.4,75.2 505.4,75.7 506.4,76.1 507.4,76.6 508.4,77.1 509.4,77.5 510.4,77.9 511.4,78.3 512.4,78.6 513.4,79.0 514.4,79.3 515.4,79.7 516.4,80.0 517.4,80.4 518.4,80.7 519.4,81.1 520.4,81.5 521.4,82.1 522.4,82.7 523.4,83.3 524.4,83.9 525.4,84.5 526.4,85.1 527.4,85.7 528.4,86.3 529.4,86.9 530.4,87.6 531.4,88.3 532.4,89.0 533.4,89.7 534.4,90.4 535.4,91.1 536.4,91.8 537.4,92.5 538.4,93.2 539.4,93.9 540.4,94.5 541.4,95.1 542.4,95.7 543.4,96.3 544.4,96.9 545.4,97.5 546.4,98.1 547.4,98.7 548.4,99.3 549.4,99.9 550.4,100.5 551.4,101.1 552.4,101.7 553.4,102.3 554.4,102.9 555.4,103.5 556.4,104.1 557.4,104.7 558.4,105.3 559.4,105.9 560.4,106.6 561.4,107.3 562.4,108.0 563.4,108.7 564.4,109.4 565.4,110.1 566.4,110.8 567.4,111.5 568.4,112.2 569.4,112.9 570.4,113.7 571.4,114.9 572.4,116.0 573.4,117.1 574.4,118.2 575.4,119.4 576.4,120.5 577.4,121.6 578.4,122.7 579.4,123.7 580.4,124.7 581.4,125.7 582.4,126.7 583.4,127.7 584.4,128.7 585.4,129.7 586.4,130.7 587.4,131.8 588.4,132.9 589.4,134.0 590.4,135.1 591.4,136.2 592.4,137.3 593.4,138.4 594.4,139.5 595.4,140.6 596.4,141.8 597.4,143.0 598.4,144.2 599.4,145.4 600.4,146.6 601.4,147.8 602.4,149.0 603.4,150.2 604.4,151.4 605.4,152.6 606.4,153.7 607.4,154.8 608.4,155.9 609.4,157.0 610.4,158.1 611.4,159.2 612.4,160.3 613.4,161.4 614.4,162.5 615.4,163.6 616.4,164.7 617.4,165.6 618.4,166.5 619.4,167.4 620.4,168.3 621.4,169.2 622.4,170.1 623.4,171.0 624.4,171.9 625.4,172.8 626.4,173.6 627.4,174.4 628.4,175.2 629.4,176.0 630.4,176.8 631.4,177.6 632.4,178.4 633.4,179.2 634.4,180.0 635.4,180.8 636.4,181.6 637.4,182.4 638.4,183.2 639.4,184.0 640.4,184.8 641.4,185.6 642.4,186.4 643.4,187.2 644.4,188.0 645.4,188.8 646.4,189.6 647.4,190.2 648.4,190.8 649.4,191.4 650.4,192.1 651.4,193.0 652.4,193.8 653.4,194.7 654.4,195.5 655.4,196.3 656.4,197.2 657.4,198.0 658.4,198.9 659.4,199.7 660.4,200.5 661.4,201.4 662.4,202.2 663.4,203.1 664.4,203.9 665.4,204.8 666.4,205.6 667.4,206.4 668.4,207.3 669.4,208.1 670.4,209.0 672.0,210.3 L672.0,273.0 670.4,272.2 669.4,271.7 668.4,271.2 667.4,270.7 666.4,270.2 665.4,269.7 664.4,269.2 663.4,268.7 662.4,268.2 661.4,267.7 660.4,267.2 659.4,266.7 658.4,266.2 657.4,265.7 656.4,265.2 655.4,264.7 654.4,264.2 653.4,263.7 652.4,263.2 651.4,262.7 650.4,262.2 649.4,261.7 648.4,261.2 647.4,260.7 646.4,260.2 645.4,259.7 644.4,259.2 643.4,258.7 642.4,258.2 641.4,257.7 640.4,257.2 639.4,256.7 638.4,256.1 637.4,255.6 636.4,255.0 635.4,254.5 634.4,253.9 633.4,253.4 632.4,252.8 631.4,252.3 630.4,251.7 629.4,251.2 628.4,250.6 627.4,250.1 626.4,249.5 625.4,249.0 624.4,248.4 623.4,247.9 622.4,247.3 621.4,246.8 620.4,246.2 619.4,245.6 618.4,245.0 617.4,244.4 616.4,243.8 615.4,243.2 614.4,242.6 613.4,242.0 612.4,241.4 611.4,240.8 610.4,240.2 609.4,239.6 608.4,239.0 607.4,238.4 606.4,237.8 605.4,237.2 604.4,236.6 603.4,236.0 602.4,235.4 601.4,234.8 600.4,234.2 599.4,233.7 598.4,233.1 597.4,232.5 596.4,231.9 595.4,231.4 594.4,230.8 593.4,230.2 592.4,229.6 591.4,229.1 590.4,228.5 589.4,227.9 588.4,227.3 587.4,226.8 586.4,226.2 585.4,225.6 584.4,225.0 583.4,224.5 582.4,223.9 581.4,223.3 580.4,222.7 579.4,222.2 578.4,221.6 577.4,221.0 576.4,220.4 575.4,219.9 574.4,219.3 573.4,218.7 572.4,218.1 571.4,217.6 570.4,217.0 569.4,216.4 568.4,215.8 567.4,215.3 566.4,214.7 565.4,214.1 564.4,213.5 563.4,213.0 562.4,212.4 561.4,211.8 560.4,211.2 559.4,210.6 558.4,209.9 557.4,209.2 556.4,208.5 555.4,207.8 554.4,207.1 553.4,206.4 552.4,205.7 551.4,205.0 550.4,204.3 549.4,203.6 548.4,202.9 547.4,202.2 546.4,201.5 545.4,200.8 544.4,200.1 543.4,199.4 542.4,198.7 541.4,198.0 540.4,197.3 539.4,196.5 538.4,195.8 537.4,195.0 536.4,194.3 535.4,193.5 534.4,192.8 533.4,192.0 532.4,191.3 531.4,190.5 530.4,189.8 529.4,189.2 528.4,188.6 527.4,188.1 526.4,187.5 525.4,187.0 524.4,186.4 523.4,185.9 522.4,185.3 521.4,184.8 520.4,184.2 519.4,183.6 518.4,183.0 517.4,182.4 516.4,181.8 515.4,181.2 514.4,180.6 513.4,180.0 512.4,179.4 511.4,178.8 510.4,178.2 509.4,177.6 508.4,177.1 507.4,176.5 506.4,175.9 505.4,175.3 504.4,174.7 503.4,174.1 502.4,173.6 501.4,173.0 500.4,172.4 499.4,171.8 498.4,171.2 497.4,170.7 496.4,170.2 495.4,169.7 494.4,169.2 493.4,168.7 492.4,168.2 491.4,167.7 490.4,167.2 489.4,166.7 488.4,166.2 487.4,165.7 486.4,165.2 485.4,164.7 484.4,164.2 483.4,163.7 482.4,163.2 481.4,162.7 480.4,162.2 479.4,161.7 478.4,161.2 477.4,160.7 476.4,160.2 475.4,159.7 474.4,159.2 473.4,158.9 472.4,158.7 471.4,158.5 470.4,158.4 469.4,158.2 468.4,158.0 467.4,157.8 466.4,157.7 465.4,157.8 464.4,158.1 463.4,158.4 462.4,158.7 461.4,159.0 460.4,159.3 459.4,159.6 458.4,159.9 457.4,160.4 456.4,160.9 455.4,161.5 454.4,162.1 453.4,162.7 452.4,163.3 451.4,163.9 450.4,164.4 449.4,165.0 448.4,165.6 447.4,166.2 446.4,166.8 445.4,167.6 444.4,168.6 443.4,169.6 442.4,170.6 441.4,171.6 440.4,172.6 439.4,173.6 438.4,174.6 437.4,175.6 436.4,176.1 435.4,176.2 434.4,176.4 433.4,176.5 432.4,176.7 431.4,176.8 430.4,176.9 429.4,177.1 428.4,177.3 427.4,177.5 426.4,177.7 425.4,177.9 424.4,178.1 423.4,178.3 422.4,178.5 421.4,178.7 420.4,178.9 419.4,179.2 418.4,179.4 417.4,179.7 416.4,179.9 415.4,180.2 414.4,180.4 413.4,180.7 412.4,180.9 411.4,181.9 410.4,183.4 409.4,184.6 408.4,185.6 407.4,186.6 406.4,187.6 405.4,188.6 404.4,189.2 403.4,189.6 402.4,190.0 401.4,190.4 400.4,190.8 399.4,191.2 398.4,191.6 397.4,192.0 396.4,192.4 395.4,192.8 394.4,193.2 393.4,193.6 392.4,194.0 391.4,194.4 390.4,194.8 389.4,195.2 388.4,195.4 387.4,195.7 386.4,195.9 385.4,196.1 384.4,196.2 383.4,196.3 382.4,196.4 381.4,196.5 380.4,196.6 379.4,196.7 378.4,196.8 377.4,196.9 376.4,197.0 375.4,197.3 374.4,197.8 373.4,198.3 372.4,198.8 371.4,199.3 370.4,199.8 369.4,200.3 368.4,200.8 367.4,201.3 366.4,201.8 365.4,202.3 364.4,202.8 363.4,203.3 362.4,203.8 361.4,204.3 360.4,204.8 359.4,205.3 358.4,205.8 357.4,206.3 356.4,206.8 355.4,207.3 354.4,207.8 353.4,208.3 352.4,208.8 351.4,209.3 350.4,209.8 349.4,210.3 348.4,210.8 347.4,211.3 346.4,211.8 345.4,212.3 344.4,212.8 343.4,213.1 342.4,213.2 341.4,213.3 340.4,213.4 339.4,213.6 338.4,213.7 337.4,213.8 336.4,213.9 335.4,213.4 334.4,212.4 333.4,211.4 332.4,210.4 331.4,209.4 330.4,208.4 329.4,207.4 328.4,206.4 327.4,204.9 326.4,203.1 325.4,201.3 324.4,199.5 323.4,197.7 322.4,197.6 321.4,198.6 320.4,199.6 319.4,200.6 318.4,201.6 317.4,202.5 316.4,203.2 315.4,204.0 314.4,204.7 313.4,205.5 312.4,206.2 311.4,207.0 310.4,207.7 309.4,208.9 308.4,210.5 307.4,212.1 306.4,213.7 305.4,215.2 304.4,216.8 303.4,218.4 302.4,218.4 301.4,217.2 300.4,215.9 299.4,214.6 298.4,213.3 297.4,213.0 296.4,213.3 295.4,213.7 294.4,214.0 293.4,216.8 292.4,219.7 291.4,222.6 290.4,225.5 289.4,227.7 288.4,229.2 287.4,230.3 286.4,231.5 285.4,232.6 284.4,233.6 283.4,234.6 282.4,235.6 281.4,236.9 280.4,238.4 279.4,239.9 278.4,241.4 277.4,243.0 276.4,244.5 275.4,245.9 274.4,247.3 273.4,248.7 272.4,250.1 271.4,251.5 270.4,252.9 269.4,254.3 268.4,255.5 267.4,256.6 266.4,257.7 265.4,258.8 264.4,259.9 263.4,261.0 262.4,262.1 261.4,263.2 260.4,264.3 259.4,265.4 258.4,266.5 257.4,267.6 256.4,268.7 255.4,269.8 254.4,270.9 253.4,272.0 252.4,273.1 251.4,274.2 250.4,275.2 249.4,276.0 248.4,276.9 247.4,277.8 246.4,278.7 245.4,279.6 244.4,280.5 243.4,281.4 242.4,282.3 241.4,283.2 240.4,284.0 239.4,284.8 238.4,285.6 237.4,286.5 236.4,287.3 235.4,288.1 234.4,288.9 233.4,289.7 232.4,290.5 231.4,291.3 230.4,292.1 229.4,292.8 228.4,293.3 227.4,293.9 226.4,294.4 225.4,295.0 224.4,295.5 223.4,296.1 222.4,296.7 221.4,297.2 220.4,297.8 219.4,298.2 218.4,298.6 217.4,299.0 216.4,299.5 215.4,299.9 214.4,300.3 213.4,300.7 212.4,301.1 211.4,301.5 210.4,301.9 209.4,302.3 208.4,302.8 207.4,303.2 206.4,303.6 205.4,304.0 204.4,304.4 203.4,304.9 202.4,305.2 201.4,305.6 200.4,306.0 199.4,306.4 198.4,306.8 197.4,307.2 196.4,307.6 195.4,307.9 194.4,308.3 193.4,308.7 192.4,309.1 191.4,309.4 190.4,309.8 189.4,310.2 188.4,310.6 187.4,310.9 186.4,311.2 185.4,311.5 184.4,311.9 183.4,312.2 182.4,312.5 181.4,312.8 180.4,313.2 179.4,313.6 178.4,314.0 177.4,314.4 176.4,314.8 175.4,315.3 174.4,315.7 173.4,316.1 172.4,316.5 171.4,316.9 170.4,317.2 169.4,317.5 168.4,317.8 167.4,318.1 166.4,318.4 165.4,318.7 164.4,319.0 163.4,319.3 162.4,319.6 161.4,319.8 160.4,320.0 159.4,320.2 158.4,320.4 157.4,320.6 156.4,320.8 155.4,321.0 154.4,321.2 153.4,321.4 152.4,321.6 151.4,321.8 150.4,322.0 149.4,322.2 148.4,322.4 147.4,322.6 146.4,322.8 145.4,323.0 144.4,323.2 143.4,323.4 142.4,323.6 141.4,323.6 140.4,323.5 139.4,323.4 138.4,323.2 137.4,323.1 136.4,323.0 135.4,322.8 134.4,322.7 133.4,322.6 132.4,322.5 131.4,322.5 130.4,322.7 129.4,322.9 128.4,323.1 127.4,323.3 126.4,323.5 125.4,323.7 124.4,323.9 123.4,324.0 122.4,324.0 121.4,324.0 120.4,324.0 119.4,324.0 118.4,324.0 117.4,324.0 116.4,324.0 115.4,324.2 114.4,324.4 113.4,324.7 112.4,325.0 111.4,325.2 110.4,325.5 109.4,325.8 108.4,326.0 107.4,326.3 106.4,326.6 105.4,326.8 104.4,327.1 103.4,327.3 102.4,327.4 101.4,327.5 100.4,327.6 99.4,327.8 98.4,327.9 97.4,328.0 96.4,328.1 95.4,328.3 94.4,328.4 93.4,328.5 92.4,328.6 91.4,328.7 90.4,328.6 89.4,328.6 88.4,328.5 87.4,328.5 86.4,328.5 85.4,328.4 84.4,328.4 83.4,328.3 82.4,328.3Z" fill="url(#pgas)"/>
<clipPath id="cg"><rect x="80" y="300" width="17" height="40"/></clipPath>
<path clip-path="url(#cg)" d="M82.4,325.6 83.4,325.7 84.4,325.8 85.4,325.8 86.4,325.9 87.4,326.0 88.4,326.1 89.4,326.2 90.4,326.3 91.4,326.3 92.4,326.3 93.4,326.2 94.4,326.0 95.4,325.8 96.4,325.7 97.4,325.5 98.4,325.3 99.4,325.2 100.4,325.0 101.4,324.8 102.4,324.7 103.4,324.5 104.4,324.3 105.4,324.0 106.4,323.7 107.4,323.4 108.4,323.2 109.4,322.9 110.4,322.6 111.4,322.3 112.4,322.0 113.4,321.7 114.4,321.5 115.4,321.2 116.4,321.0 117.4,321.1 118.4,321.2 119.4,321.3 120.4,321.3 121.4,321.4 122.4,321.5 123.4,321.6 124.4,321.5 125.4,321.2 126.4,321.0 127.4,320.8 128.4,320.5 129.4,320.2 130.4,320.0 131.4,319.8 132.4,319.6 133.4,319.7 134.4,319.7 135.4,319.7 136.4,319.8 137.4,319.8 138.4,319.9 139.4,319.9 140.4,319.9 141.4,320.0 142.4,319.9 143.4,319.6 144.4,319.3 145.4,319.0 146.4,318.7 147.4,318.4 148.4,318.1 149.4,317.8 150.4,317.5 151.4,317.2 152.4,316.9 153.4,316.7 154.4,316.5 155.4,316.3 156.4,316.1 157.4,315.9 158.4,315.7 159.4,315.5 160.4,315.3 161.4,315.1 162.4,314.8 163.4,314.3 164.4,313.8 165.4,313.3 166.4,312.8 167.4,312.3 168.4,311.8 169.4,311.3 170.4,310.8 171.4,310.3 172.4,309.8 173.4,309.4 174.4,308.9 175.4,308.5 176.4,308.0 177.4,307.6 178.4,307.1 179.4,306.7 180.4,306.1 181.4,305.3 182.4,304.5 183.4,303.7 184.4,302.9 185.4,302.1 186.4,301.5 187.4,301.1 188.4,300.8 189.4,300.5 190.4,300.2 191.4,299.8 192.4,299.5 193.4,299.2 194.4,298.8 195.4,298.3 196.4,297.8 197.4,297.3 198.4,296.8 199.4,296.3 200.4,295.8 201.4,295.3 202.4,294.6 203.4,293.7 204.4,292.8 205.4,291.9 206.4,291.0 207.4,290.1 208.4,289.2 209.4,288.3 210.4,287.3 211.4,286.6 212.4,286.2 213.4,285.8 214.4,285.3 215.4,284.9 216.4,284.5 217.4,284.0 218.4,283.6 219.4,283.2 220.4,282.8 221.4,282.1 222.4,281.2 223.4,280.3 224.4,279.4 225.4,278.5 226.4,277.6 227.4,276.7 228.4,275.8 229.4,274.9 230.4,274.0 231.4,273.1 232.4,272.0 233.4,270.9 234.4,269.8 235.4,268.7 236.4,267.6 237.4,266.5 238.4,265.4 239.4,264.3 240.4,263.2 241.4,262.0 242.4,260.9 243.4,259.7 244.4,258.5 245.4,257.4 246.4,256.2 247.4,255.0 248.4,253.9 249.4,252.7 250.4,251.3 251.4,249.7 252.4,248.1 253.4,246.5 254.4,244.8 255.4,243.2 256.4,241.6 257.4,240.0 258.4,238.3 259.4,236.6 260.4,234.9 261.4,233.2 262.4,231.5 263.4,229.8 264.4,228.1 265.4,226.4 266.4,224.7 267.4,223.0 268.4,221.0 269.4,218.6 270.4,216.1 271.4,213.7 272.4,211.2 273.4,208.8 274.4,206.4 275.4,203.9 276.4,201.5 277.4,199.1 278.4,196.7 279.4,194.4 280.4,192.1 281.4,189.7 282.4,187.4 283.4,185.4 284.4,184.0 285.4,182.6 286.4,181.1 287.4,179.7 288.4,178.3 289.4,176.9 290.4,174.9 291.4,172.1 292.4,169.3 293.4,166.5 294.4,163.7 295.4,161.9 296.4,161.5 297.4,161.2 298.4,161.6 299.4,163.0 300.4,164.4 301.4,165.8 302.4,167.2 303.4,166.9 304.4,164.1 305.4,161.3 306.4,158.5 307.4,155.7 308.4,153.6 309.4,152.6 310.4,151.6 311.4,150.6 312.4,149.6 313.4,148.6 314.4,147.7 315.4,146.9 316.4,146.1 317.4,145.3 318.4,144.5 319.4,143.2 320.4,141.2 321.4,139.2 322.4,137.2 323.4,136.6 324.4,138.1 325.4,139.6 326.4,141.1 327.4,142.5 328.4,143.7 329.4,144.9 330.4,146.1 331.4,147.3 332.4,148.4 333.4,149.4 334.4,150.4 335.4,151.4 336.4,152.4 337.4,153.4 338.4,154.1 339.4,154.3 340.4,154.6 341.4,154.8 342.4,154.4 343.4,152.8 344.4,151.2 345.4,149.6 346.4,148.0 347.4,146.9 348.4,146.8 349.4,146.6 350.4,146.4 351.4,146.3 352.4,146.1 353.4,145.5 354.4,144.1 355.4,142.8 356.4,141.5 357.4,140.1 358.4,138.8 359.4,137.9 360.4,137.5 361.4,137.2 362.4,136.4 363.4,134.9 364.4,133.4 365.4,131.9 366.4,130.4 367.4,128.9 368.4,127.7 369.4,126.8 370.4,125.9 371.4,125.1 372.4,124.2 373.4,123.4 374.4,122.5 375.4,121.6 376.4,120.6 377.4,119.6 378.4,118.9 379.4,118.7 380.4,118.4 381.4,118.2 382.4,117.9 383.4,117.7 384.4,117.4 385.4,117.2 386.4,116.9 387.4,116.7 388.4,116.4 389.4,116.2 390.4,115.8 391.4,115.3 392.4,114.8 393.4,114.3 394.4,113.8 395.4,113.3 396.4,112.8 397.4,112.3 398.4,111.8 399.4,111.3 400.4,110.5 401.4,109.1 402.4,107.7 403.4,106.4 404.4,105.0 405.4,103.7 406.4,102.3 407.4,100.9 408.4,99.6 409.4,98.2 410.4,97.0 411.4,96.1 412.4,95.2 413.4,94.3 414.4,93.4 415.4,92.5 416.4,91.5 417.4,91.0 418.4,91.1 419.4,91.2 420.4,91.3 421.4,91.4 422.4,91.1 423.4,90.3 424.4,89.5 425.4,88.7 426.4,87.9 427.4,87.1 428.4,86.6 429.4,86.7 430.4,86.7 431.4,86.8 432.4,86.9 433.4,86.9 434.4,87.0 435.4,86.4 436.4,85.1 437.4,83.7 438.4,82.3 439.4,81.0 440.4,79.6 441.4,78.1 442.4,76.6 443.4,75.2 444.4,73.7 445.4,72.2 446.4,71.0 447.4,70.3 448.4,69.5 449.4,68.8 450.4,68.1 451.4,67.3 452.4,66.8 453.4,66.4 454.4,66.1 455.4,65.8 456.4,65.5 457.4,65.1 458.4,64.8 459.4,64.5 460.4,64.2 461.4,64.1 462.4,64.0 463.4,63.9 464.4,63.8 465.4,63.6 466.4,63.5 467.4,63.4 468.4,63.3 469.4,63.5 470.4,63.6 471.4,63.7 472.4,63.8 473.4,64.0 474.4,64.1 475.4,64.2 476.4,64.5 477.4,64.9 478.4,65.3 479.4,65.7 480.4,66.1 481.4,66.5 482.4,66.9 483.4,67.3 484.4,67.7 485.4,68.1 486.4,68.4 487.4,68.8 488.4,69.1 489.4,69.4 490.4,69.8 491.4,70.1 492.4,70.4 493.4,70.8 494.4,71.1 495.4,71.4 496.4,71.8 497.4,72.1 498.4,72.5 499.4,72.9 500.4,73.4 501.4,73.9 502.4,74.3 503.4,74.8 504.4,75.2 505.4,75.7 506.4,76.1 507.4,76.6 508.4,77.1 509.4,77.5 510.4,77.9 511.4,78.3 512.4,78.6 513.4,79.0 514.4,79.3 515.4,79.7 516.4,80.0 517.4,80.4 518.4,80.7 519.4,81.1 520.4,81.5 521.4,82.1 522.4,82.7 523.4,83.3 524.4,83.9 525.4,84.5 526.4,85.1 527.4,85.7 528.4,86.3 529.4,86.9 530.4,87.6 531.4,88.3 532.4,89.0 533.4,89.7 534.4,90.4 535.4,91.1 536.4,91.8 537.4,92.5 538.4,93.2 539.4,93.9 540.4,94.5 541.4,95.1 542.4,95.7 543.4,96.3 544.4,96.9 545.4,97.5 546.4,98.1 547.4,98.7 548.4,99.3 549.4,99.9 550.4,100.5 551.4,101.1 552.4,101.7 553.4,102.3 554.4,102.9 555.4,103.5 556.4,104.1 557.4,104.7 558.4,105.3 559.4,105.9 560.4,106.6 561.4,107.3 562.4,108.0 563.4,108.7 564.4,109.4 565.4,110.1 566.4,110.8 567.4,111.5 568.4,112.2 569.4,112.9 570.4,113.7 571.4,114.9 572.4,116.0 573.4,117.1 574.4,118.2 575.4,119.4 576.4,120.5 577.4,121.6 578.4,122.7 579.4,123.7 580.4,124.7 581.4,125.7 582.4,126.7 583.4,127.7 584.4,128.7 585.4,129.7 586.4,130.7 587.4,131.8 588.4,132.9 589.4,134.0 590.4,135.1 591.4,136.2 592.4,137.3 593.4,138.4 594.4,139.5 595.4,140.6 596.4,141.8 597.4,143.0 598.4,144.2 599.4,145.4 600.4,146.6 601.4,147.8 602.4,149.0 603.4,150.2 604.4,151.4 605.4,152.6 606.4,153.7 607.4,154.8 608.4,155.9 609.4,157.0 610.4,158.1 611.4,159.2 612.4,160.3 613.4,161.4 614.4,162.5 615.4,163.6 616.4,164.7 617.4,165.6 618.4,166.5 619.4,167.4 620.4,168.3 621.4,169.2 622.4,170.1 623.4,171.0 624.4,171.9 625.4,172.8 626.4,173.6 627.4,174.4 628.4,175.2 629.4,176.0 630.4,176.8 631.4,177.6 632.4,178.4 633.4,179.2 634.4,180.0 635.4,180.8 636.4,181.6 637.4,182.4 638.4,183.2 639.4,184.0 640.4,184.8 641.4,185.6 642.4,186.4 643.4,187.2 644.4,188.0 645.4,188.8 646.4,189.6 647.4,190.2 648.4,190.8 649.4,191.4 650.4,192.1 651.4,193.0 652.4,193.8 653.4,194.7 654.4,195.5 655.4,196.3 656.4,197.2 657.4,198.0 658.4,198.9 659.4,199.7 660.4,200.5 661.4,201.4 662.4,202.2 663.4,203.1 664.4,203.9 665.4,204.8 666.4,205.6 667.4,206.4 668.4,207.3 669.4,208.1 670.4,209.0 672.0,210.3 L672.0,273.0 670.4,272.2 669.4,271.7 668.4,271.2 667.4,270.7 666.4,270.2 665.4,269.7 664.4,269.2 663.4,268.7 662.4,268.2 661.4,267.7 660.4,267.2 659.4,266.7 658.4,266.2 657.4,265.7 656.4,265.2 655.4,264.7 654.4,264.2 653.4,263.7 652.4,263.2 651.4,262.7 650.4,262.2 649.4,261.7 648.4,261.2 647.4,260.7 646.4,260.2 645.4,259.7 644.4,259.2 643.4,258.7 642.4,258.2 641.4,257.7 640.4,257.2 639.4,256.7 638.4,256.1 637.4,255.6 636.4,255.0 635.4,254.5 634.4,253.9 633.4,253.4 632.4,252.8 631.4,252.3 630.4,251.7 629.4,251.2 628.4,250.6 627.4,250.1 626.4,249.5 625.4,249.0 624.4,248.4 623.4,247.9 622.4,247.3 621.4,246.8 620.4,246.2 619.4,245.6 618.4,245.0 617.4,244.4 616.4,243.8 615.4,243.2 614.4,242.6 613.4,242.0 612.4,241.4 611.4,240.8 610.4,240.2 609.4,239.6 608.4,239.0 607.4,238.4 606.4,237.8 605.4,237.2 604.4,236.6 603.4,236.0 602.4,235.4 601.4,234.8 600.4,234.2 599.4,233.7 598.4,233.1 597.4,232.5 596.4,231.9 595.4,231.4 594.4,230.8 593.4,230.2 592.4,229.6 591.4,229.1 590.4,228.5 589.4,227.9 588.4,227.3 587.4,226.8 586.4,226.2 585.4,225.6 584.4,225.0 583.4,224.5 582.4,223.9 581.4,223.3 580.4,222.7 579.4,222.2 578.4,221.6 577.4,221.0 576.4,220.4 575.4,219.9 574.4,219.3 573.4,218.7 572.4,218.1 571.4,217.6 570.4,217.0 569.4,216.4 568.4,215.8 567.4,215.3 566.4,214.7 565.4,214.1 564.4,213.5 563.4,213.0 562.4,212.4 561.4,211.8 560.4,211.2 559.4,210.6 558.4,209.9 557.4,209.2 556.4,208.5 555.4,207.8 554.4,207.1 553.4,206.4 552.4,205.7 551.4,205.0 550.4,204.3 549.4,203.6 548.4,202.9 547.4,202.2 546.4,201.5 545.4,200.8 544.4,200.1 543.4,199.4 542.4,198.7 541.4,198.0 540.4,197.3 539.4,196.5 538.4,195.8 537.4,195.0 536.4,194.3 535.4,193.5 534.4,192.8 533.4,192.0 532.4,191.3 531.4,190.5 530.4,189.8 529.4,189.2 528.4,188.6 527.4,188.1 526.4,187.5 525.4,187.0 524.4,186.4 523.4,185.9 522.4,185.3 521.4,184.8 520.4,184.2 519.4,183.6 518.4,183.0 517.4,182.4 516.4,181.8 515.4,181.2 514.4,180.6 513.4,180.0 512.4,179.4 511.4,178.8 510.4,178.2 509.4,177.6 508.4,177.1 507.4,176.5 506.4,175.9 505.4,175.3 504.4,174.7 503.4,174.1 502.4,173.6 501.4,173.0 500.4,172.4 499.4,171.8 498.4,171.2 497.4,170.7 496.4,170.2 495.4,169.7 494.4,169.2 493.4,168.7 492.4,168.2 491.4,167.7 490.4,167.2 489.4,166.7 488.4,166.2 487.4,165.7 486.4,165.2 485.4,164.7 484.4,164.2 483.4,163.7 482.4,163.2 481.4,162.7 480.4,162.2 479.4,161.7 478.4,161.2 477.4,160.7 476.4,160.2 475.4,159.7 474.4,159.2 473.4,158.9 472.4,158.7 471.4,158.5 470.4,158.4 469.4,158.2 468.4,158.0 467.4,157.8 466.4,157.7 465.4,157.8 464.4,158.1 463.4,158.4 462.4,158.7 461.4,159.0 460.4,159.3 459.4,159.6 458.4,159.9 457.4,160.4 456.4,160.9 455.4,161.5 454.4,162.1 453.4,162.7 452.4,163.3 451.4,163.9 450.4,164.4 449.4,165.0 448.4,165.6 447.4,166.2 446.4,166.8 445.4,167.6 444.4,168.6 443.4,169.6 442.4,170.6 441.4,171.6 440.4,172.6 439.4,173.6 438.4,174.6 437.4,175.6 436.4,176.1 435.4,176.2 434.4,176.4 433.4,176.5 432.4,176.7 431.4,176.8 430.4,176.9 429.4,177.1 428.4,177.3 427.4,177.5 426.4,177.7 425.4,177.9 424.4,178.1 423.4,178.3 422.4,178.5 421.4,178.7 420.4,178.9 419.4,179.2 418.4,179.4 417.4,179.7 416.4,179.9 415.4,180.2 414.4,180.4 413.4,180.7 412.4,180.9 411.4,181.9 410.4,183.4 409.4,184.6 408.4,185.6 407.4,186.6 406.4,187.6 405.4,188.6 404.4,189.2 403.4,189.6 402.4,190.0 401.4,190.4 400.4,190.8 399.4,191.2 398.4,191.6 397.4,192.0 396.4,192.4 395.4,192.8 394.4,193.2 393.4,193.6 392.4,194.0 391.4,194.4 390.4,194.8 389.4,195.2 388.4,195.4 387.4,195.7 386.4,195.9 385.4,196.1 384.4,196.2 383.4,196.3 382.4,196.4 381.4,196.5 380.4,196.6 379.4,196.7 378.4,196.8 377.4,196.9 376.4,197.0 375.4,197.3 374.4,197.8 373.4,198.3 372.4,198.8 371.4,199.3 370.4,199.8 369.4,200.3 368.4,200.8 367.4,201.3 366.4,201.8 365.4,202.3 364.4,202.8 363.4,203.3 362.4,203.8 361.4,204.3 360.4,204.8 359.4,205.3 358.4,205.8 357.4,206.3 356.4,206.8 355.4,207.3 354.4,207.8 353.4,208.3 352.4,208.8 351.4,209.3 350.4,209.8 349.4,210.3 348.4,210.8 347.4,211.3 346.4,211.8 345.4,212.3 344.4,212.8 343.4,213.1 342.4,213.2 341.4,213.3 340.4,213.4 339.4,213.6 338.4,213.7 337.4,213.8 336.4,213.9 335.4,213.4 334.4,212.4 333.4,211.4 332.4,210.4 331.4,209.4 330.4,208.4 329.4,207.4 328.4,206.4 327.4,204.9 326.4,203.1 325.4,201.3 324.4,199.5 323.4,197.7 322.4,197.6 321.4,198.6 320.4,199.6 319.4,200.6 318.4,201.6 317.4,202.5 316.4,203.2 315.4,204.0 314.4,204.7 313.4,205.5 312.4,206.2 311.4,207.0 310.4,207.7 309.4,208.9 308.4,210.5 307.4,212.1 306.4,213.7 305.4,215.2 304.4,216.8 303.4,218.4 302.4,218.4 301.4,217.2 300.4,215.9 299.4,214.6 298.4,213.3 297.4,213.0 296.4,213.3 295.4,213.7 294.4,214.0 293.4,216.8 292.4,219.7 291.4,222.6 290.4,225.5 289.4,227.7 288.4,229.2 287.4,230.3 286.4,231.5 285.4,232.6 284.4,233.6 283.4,234.6 282.4,235.6 281.4,236.9 280.4,238.4 279.4,239.9 278.4,241.4 277.4,243.0 276.4,244.5 275.4,245.9 274.4,247.3 273.4,248.7 272.4,250.1 271.4,251.5 270.4,252.9 269.4,254.3 268.4,255.5 267.4,256.6 266.4,257.7 265.4,258.8 264.4,259.9 263.4,261.0 262.4,262.1 261.4,263.2 260.4,264.3 259.4,265.4 258.4,266.5 257.4,267.6 256.4,268.7 255.4,269.8 254.4,270.9 253.4,272.0 252.4,273.1 251.4,274.2 250.4,275.2 249.4,276.0 248.4,276.9 247.4,277.8 246.4,278.7 245.4,279.6 244.4,280.5 243.4,281.4 242.4,282.3 241.4,283.2 240.4,284.0 239.4,284.8 238.4,285.6 237.4,286.5 236.4,287.3 235.4,288.1 234.4,288.9 233.4,289.7 232.4,290.5 231.4,291.3 230.4,292.1 229.4,292.8 228.4,293.3 227.4,293.9 226.4,294.4 225.4,295.0 224.4,295.5 223.4,296.1 222.4,296.7 221.4,297.2 220.4,297.8 219.4,298.2 218.4,298.6 217.4,299.0 216.4,299.5 215.4,299.9 214.4,300.3 213.4,300.7 212.4,301.1 211.4,301.5 210.4,301.9 209.4,302.3 208.4,302.8 207.4,303.2 206.4,303.6 205.4,304.0 204.4,304.4 203.4,304.9 202.4,305.2 201.4,305.6 200.4,306.0 199.4,306.4 198.4,306.8 197.4,307.2 196.4,307.6 195.4,307.9 194.4,308.3 193.4,308.7 192.4,309.1 191.4,309.4 190.4,309.8 189.4,310.2 188.4,310.6 187.4,310.9 186.4,311.2 185.4,311.5 184.4,311.9 183.4,312.2 182.4,312.5 181.4,312.8 180.4,313.2 179.4,313.6 178.4,314.0 177.4,314.4 176.4,314.8 175.4,315.3 174.4,315.7 173.4,316.1 172.4,316.5 171.4,316.9 170.4,317.2 169.4,317.5 168.4,317.8 167.4,318.1 166.4,318.4 165.4,318.7 164.4,319.0 163.4,319.3 162.4,319.6 161.4,319.8 160.4,320.0 159.4,320.2 158.4,320.4 157.4,320.6 156.4,320.8 155.4,321.0 154.4,321.2 153.4,321.4 152.4,321.6 151.4,321.8 150.4,322.0 149.4,322.2 148.4,322.4 147.4,322.6 146.4,322.8 145.4,323.0 144.4,323.2 143.4,323.4 142.4,323.6 141.4,323.6 140.4,323.5 139.4,323.4 138.4,323.2 137.4,323.1 136.4,323.0 135.4,322.8 134.4,322.7 133.4,322.6 132.4,322.5 131.4,322.5 130.4,322.7 129.4,322.9 128.4,323.1 127.4,323.3 126.4,323.5 125.4,323.7 124.4,323.9 123.4,324.0 122.4,324.0 121.4,324.0 120.4,324.0 119.4,324.0 118.4,324.0 117.4,324.0 116.4,324.0 115.4,324.2 114.4,324.4 113.4,324.7 112.4,325.0 111.4,325.2 110.4,325.5 109.4,325.8 108.4,326.0 107.4,326.3 106.4,326.6 105.4,326.8 104.4,327.1 103.4,327.3 102.4,327.4 101.4,327.5 100.4,327.6 99.4,327.8 98.4,327.9 97.4,328.0 96.4,328.1 95.4,328.3 94.4,328.4 93.4,328.5 92.4,328.6 91.4,328.7 90.4,328.6 89.4,328.6 88.4,328.5 87.4,328.5 86.4,328.5 85.4,328.4 84.4,328.4 83.4,328.3 82.4,328.3Z" fill="#fff"/>
<path d="M82.4,325.6 83.4,325.7 84.4,325.8 85.4,325.8 86.4,325.9 87.4,326.0 88.4,326.1 89.4,326.2 90.4,326.3 91.4,326.3 92.4,326.3 93.4,326.2 94.4,326.0 95.4,325.8 96.4,325.7 97.4,325.5 98.4,325.3 99.4,325.2 100.4,325.0 101.4,324.8 102.4,324.7 103.4,324.5 104.4,324.3 105.4,324.0 106.4,323.7 107.4,323.4 108.4,323.2 109.4,322.9 110.4,322.6 111.4,322.3 112.4,322.0 113.4,321.7 114.4,321.5 115.4,321.2 116.4,321.0 117.4,321.1 118.4,321.2 119.4,321.3 120.4,321.3 121.4,321.4 122.4,321.5 123.4,321.6 124.4,321.5 125.4,321.2 126.4,321.0 127.4,320.8 128.4,320.5 129.4,320.2 130.4,320.0 131.4,319.8 132.4,319.6 133.4,319.7 134.4,319.7 135.4,319.7 136.4,319.8 137.4,319.8 138.4,319.9 139.4,319.9 140.4,319.9 141.4,320.0 142.4,319.9 143.4,319.6 144.4,319.3 145.4,319.0 146.4,318.7 147.4,318.4 148.4,318.1 149.4,317.8 150.4,317.5 151.4,317.2 152.4,316.9 153.4,316.7 154.4,316.5 155.4,316.3 156.4,316.1 157.4,315.9 158.4,315.7 159.4,315.5 160.4,315.3 161.4,315.1 162.4,314.8 163.4,314.3 164.4,313.8 165.4,313.3 166.4,312.8 167.4,312.3 168.4,311.8 169.4,311.3 170.4,310.8 171.4,310.3 172.4,309.8 173.4,309.4 174.4,308.9 175.4,308.5 176.4,308.0 177.4,307.6 178.4,307.1 179.4,306.7 180.4,306.1 181.4,305.3 182.4,304.5 183.4,303.7 184.4,302.9 185.4,302.1 186.4,301.5 187.4,301.1 188.4,300.8 189.4,300.5 190.4,300.2 191.4,299.8 192.4,299.5 193.4,299.2 194.4,298.8 195.4,298.3 196.4,297.8 197.4,297.3 198.4,296.8 199.4,296.3 200.4,295.8 201.4,295.3 202.4,294.6 203.4,293.7 204.4,292.8 205.4,291.9 206.4,291.0 207.4,290.1 208.4,289.2 209.4,288.3 210.4,287.3 211.4,286.6 212.4,286.2 213.4,285.8 214.4,285.3 215.4,284.9 216.4,284.5 217.4,284.0 218.4,283.6 219.4,283.2 220.4,282.8 221.4,282.1 222.4,281.2 223.4,280.3 224.4,279.4 225.4,278.5 226.4,277.6 227.4,276.7 228.4,275.8 229.4,274.9 230.4,274.0 231.4,273.1 232.4,272.0 233.4,270.9 234.4,269.8 235.4,268.7 236.4,267.6 237.4,266.5 238.4,265.4 239.4,264.3 240.4,263.2 241.4,262.0 242.4,260.9 243.4,259.7 244.4,258.5 245.4,257.4 246.4,256.2 247.4,255.0 248.4,253.9 249.4,252.7 250.4,251.3 251.4,249.7 252.4,248.1 253.4,246.5 254.4,244.8 255.4,243.2 256.4,241.6 257.4,240.0 258.4,238.3 259.4,236.6 260.4,234.9 261.4,233.2 262.4,231.5 263.4,229.8 264.4,228.1 265.4,226.4 266.4,224.7 267.4,223.0 268.4,221.0 269.4,218.6 270.4,216.1 271.4,213.7 272.4,211.2 273.4,208.8 274.4,206.4 275.4,203.9 276.4,201.5 277.4,199.1 278.4,196.7 279.4,194.4 280.4,192.1 281.4,189.7 282.4,187.4 283.4,185.4 284.4,184.0 285.4,182.6 286.4,181.1 287.4,179.7 288.4,178.3 289.4,176.9 290.4,174.9 291.4,172.1 292.4,169.3 293.4,166.5 294.4,163.7 295.4,161.9 296.4,161.5 297.4,161.2 298.4,161.6 299.4,163.0 300.4,164.4 301.4,165.8 302.4,167.2 303.4,166.9 304.4,164.1 305.4,161.3 306.4,158.5 307.4,155.7 308.4,153.6 309.4,152.6 310.4,151.6 311.4,150.6 312.4,149.6 313.4,148.6 314.4,147.7 315.4,146.9 316.4,146.1 317.4,145.3 318.4,144.5 319.4,143.2 320.4,141.2 321.4,139.2 322.4,137.2 323.4,136.6 324.4,138.1 325.4,139.6 326.4,141.1 327.4,142.5 328.4,143.7 329.4,144.9 330.4,146.1 331.4,147.3 332.4,148.4 333.4,149.4 334.4,150.4 335.4,151.4 336.4,152.4 337.4,153.4 338.4,154.1 339.4,154.3 340.4,154.6 341.4,154.8 342.4,154.4 343.4,152.8 344.4,151.2 345.4,149.6 346.4,148.0 347.4,146.9 348.4,146.8 349.4,146.6 350.4,146.4 351.4,146.3 352.4,146.1 353.4,145.5 354.4,144.1 355.4,142.8 356.4,141.5 357.4,140.1 358.4,138.8 359.4,137.9 360.4,137.5 361.4,137.2 362.4,136.4 363.4,134.9 364.4,133.4 365.4,131.9 366.4,128.5 367.4,127.2 368.4,125.9 369.4,124.6 370.4,123.4 371.4,122.5 372.4,121.7 373.4,120.8 374.4,119.9 375.4,119.1 376.4,118.3 377.4,117.4 378.4,116.8 379.4,116.6 380.4,116.3 381.4,116.0 382.4,115.7 383.4,115.4 384.4,115.1 385.4,114.9 386.4,114.6 387.4,114.3 388.4,114.0 389.4,113.7 390.4,113.4 391.4,112.9 392.4,112.4 393.4,111.9 394.4,111.4 395.4,110.9 396.4,110.4 397.4,109.9 398.4,109.4 399.4,108.9 400.4,108.0 401.4,106.6 402.4,105.2 403.4,103.8 404.4,102.4 405.4,101.0 406.4,99.6 407.4,98.2 408.4,96.8 409.4,95.4 410.4,94.2 411.4,93.3 412.4,92.4 413.4,91.4 414.4,90.5 415.4,89.6 416.4,88.7 417.4,88.2 418.4,88.3 419.4,88.3 420.4,88.4 421.4,88.5 422.4,88.2 423.4,87.4 424.4,86.6 425.4,85.7 426.4,84.9 427.4,84.1 428.4,83.5 429.4,83.5 430.4,83.5 431.4,83.5 432.4,83.5 433.4,83.5 434.4,83.5 435.4,83.0 436.4,81.6 437.4,80.2 438.4,78.8 439.4,77.4 440.4,76.0 441.4,74.5 442.4,73.0 443.4,71.5 444.4,70.0 445.4,68.5 446.4,67.2 447.4,66.4 448.4,65.6 449.4,64.7 450.4,63.9 451.4,63.1 452.4,62.4 453.4,62.0 454.4,61.7 455.4,61.3 456.4,60.9 457.4,60.5 458.4,60.2 459.4,59.8 460.4,59.5 461.4,59.3 462.4,59.1 463.4,59.0 464.4,58.8 465.4,58.6 466.4,58.4 467.4,58.3 468.4,58.2 469.4,58.3 470.4,58.4 471.4,58.5 472.4,58.6 473.4,58.7 474.4,58.8 475.4,58.9 476.4,59.1 477.4,59.4 478.4,59.7 479.4,60.0 480.4,60.4 481.4,60.7 482.4,61.0 483.4,61.3 484.4,61.6 485.4,62.0 486.4,62.3 487.4,62.5 488.4,62.8 489.4,63.1 490.4,63.4 491.4,63.7 492.4,64.0 493.4,64.2 494.4,64.5 495.4,64.8 496.4,65.1 497.4,65.4 498.4,65.7 499.4,66.1 500.4,66.4 501.4,66.8 502.4,67.1 503.4,67.5 504.4,67.8 505.4,68.2 506.4,68.6 507.4,68.9 508.4,69.3 509.4,69.6 510.4,69.9 511.4,70.2 512.4,70.4 513.4,70.7 514.4,70.9 515.4,71.2 516.4,71.4 517.4,71.7 518.4,71.9 519.4,72.2 520.4,72.4 521.4,72.7 522.4,72.9 523.4,73.2 524.4,73.4 525.4,73.8 526.4,74.6 527.4,75.3 528.4,76.0 529.4,76.7 530.4,77.5 531.4,78.2 532.4,78.9 533.4,79.7 534.4,80.4 535.4,81.1 536.4,81.8 537.4,82.3 538.4,82.9 539.4,83.5 540.4,84.1 541.4,84.6 542.4,85.2 543.4,85.8 544.4,86.3 545.4,86.9 546.4,87.5 547.4,88.1 548.4,88.6 549.4,89.2 550.4,89.8 551.4,90.4 552.4,90.9 553.4,91.5 554.4,92.1 555.4,92.7 556.4,93.3 557.4,93.9 558.4,94.4 559.4,95.0 560.4,95.6 561.4,96.2 562.4,96.7 563.4,97.2 564.4,97.6 565.4,98.1 566.4,98.5 567.4,99.0 568.4,99.4 569.4,99.9 570.4,100.3 571.4,100.8 572.4,101.2 573.4,101.7 574.4,102.4 575.4,103.6 576.4,104.7 577.4,105.9 578.4,107.1 579.4,108.2 580.4,109.4 581.4,110.5 582.4,111.7 583.4,112.9 584.4,114.0 585.4,115.1 586.4,116.2 587.4,117.4 588.4,118.5 589.4,119.6 590.4,120.7 591.4,121.9 592.4,123.1 593.4,124.4 594.4,125.6 595.4,126.9 596.4,128.2 597.4,129.5 598.4,130.8 599.4,132.1 600.4,133.2 601.4,134.2 602.4,135.2 603.4,136.1 604.4,137.1 605.4,138.1 606.4,139.1 607.4,140.0 608.4,141.0 609.4,142.0 610.4,142.9 611.4,143.9 612.4,144.9 613.4,145.9 614.4,146.9 615.4,147.9 616.4,148.9 617.4,149.9 618.4,150.9 619.4,151.9 620.4,152.9 621.4,153.8 622.4,154.7 623.4,155.6 624.4,156.5 625.4,157.4 626.4,158.3 627.4,159.2 628.4,160.1 629.4,161.0 630.4,161.9 631.4,162.7 632.4,163.5 633.4,164.3 634.4,165.1 635.4,165.9 636.4,166.7 637.4,167.5 638.4,168.3 639.4,169.1 640.4,169.9 641.4,170.7 642.4,171.5 643.4,172.3 644.4,173.1 645.4,173.9 646.4,174.7 647.4,175.5 648.4,176.3 649.4,177.1 650.4,177.8 651.4,178.6 652.4,179.3 653.4,180.1 654.4,180.8 655.4,181.6 656.4,182.3 657.4,183.1 658.4,183.8 659.4,184.6 660.4,185.4 661.4,186.2 662.4,186.9 663.4,187.7 664.4,188.5 665.4,189.3 666.4,190.1 667.4,190.9 668.4,191.7 669.4,192.5 670.4,193.3 672.0,194.6 L672.0,210.3 670.4,209.0 669.4,208.1 668.4,207.3 667.4,206.4 666.4,205.6 665.4,204.8 664.4,203.9 663.4,203.1 662.4,202.2 661.4,201.4 660.4,200.5 659.4,199.7 658.4,198.9 657.4,198.0 656.4,197.2 655.4,196.3 654.4,195.5 653.4,194.7 652.4,193.8 651.4,193.0 650.4,192.1 649.4,191.4 648.4,190.8 647.4,190.2 646.4,189.6 645.4,188.8 644.4,188.0 643.4,187.2 642.4,186.4 641.4,185.6 640.4,184.8 639.4,184.0 638.4,183.2 637.4,182.4 636.4,181.6 635.4,180.8 634.4,180.0 633.4,179.2 632.4,178.4 631.4,177.6 630.4,176.8 629.4,176.0 628.4,175.2 627.4,174.4 626.4,173.6 625.4,172.8 624.4,171.9 623.4,171.0 622.4,170.1 621.4,169.2 620.4,168.3 619.4,167.4 618.4,166.5 617.4,165.6 616.4,164.7 615.4,163.6 614.4,162.5 613.4,161.4 612.4,160.3 611.4,159.2 610.4,158.1 609.4,157.0 608.4,155.9 607.4,154.8 606.4,153.7 605.4,152.6 604.4,151.4 603.4,150.2 602.4,149.0 601.4,147.8 600.4,146.6 599.4,145.4 598.4,144.2 597.4,143.0 596.4,141.8 595.4,140.6 594.4,139.5 593.4,138.4 592.4,137.3 591.4,136.2 590.4,135.1 589.4,134.0 588.4,132.9 587.4,131.8 586.4,130.7 585.4,129.7 584.4,128.7 583.4,127.7 582.4,126.7 581.4,125.7 580.4,124.7 579.4,123.7 578.4,122.7 577.4,121.6 576.4,120.5 575.4,119.4 574.4,118.2 573.4,117.1 572.4,116.0 571.4,114.9 570.4,113.7 569.4,112.9 568.4,112.2 567.4,111.5 566.4,110.8 565.4,110.1 564.4,109.4 563.4,108.7 562.4,108.0 561.4,107.3 560.4,106.6 559.4,105.9 558.4,105.3 557.4,104.7 556.4,104.1 555.4,103.5 554.4,102.9 553.4,102.3 552.4,101.7 551.4,101.1 550.4,100.5 549.4,99.9 548.4,99.3 547.4,98.7 546.4,98.1 545.4,97.5 544.4,96.9 543.4,96.3 542.4,95.7 541.4,95.1 540.4,94.5 539.4,93.9 538.4,93.2 537.4,92.5 536.4,91.8 535.4,91.1 534.4,90.4 533.4,89.7 532.4,89.0 531.4,88.3 530.4,87.6 529.4,86.9 528.4,86.3 527.4,85.7 526.4,85.1 525.4,84.5 524.4,83.9 523.4,83.3 522.4,82.7 521.4,82.1 520.4,81.5 519.4,81.1 518.4,80.7 517.4,80.4 516.4,80.0 515.4,79.7 514.4,79.3 513.4,79.0 512.4,78.6 511.4,78.3 510.4,77.9 509.4,77.5 508.4,77.1 507.4,76.6 506.4,76.1 505.4,75.7 504.4,75.2 503.4,74.8 502.4,74.3 501.4,73.9 500.4,73.4 499.4,72.9 498.4,72.5 497.4,72.1 496.4,71.8 495.4,71.4 494.4,71.1 493.4,70.8 492.4,70.4 491.4,70.1 490.4,69.8 489.4,69.4 488.4,69.1 487.4,68.8 486.4,68.4 485.4,68.1 484.4,67.7 483.4,67.3 482.4,66.9 481.4,66.5 480.4,66.1 479.4,65.7 478.4,65.3 477.4,64.9 476.4,64.5 475.4,64.2 474.4,64.1 473.4,64.0 472.4,63.8 471.4,63.7 470.4,63.6 469.4,63.5 468.4,63.3 467.4,63.4 466.4,63.5 465.4,63.6 464.4,63.8 463.4,63.9 462.4,64.0 461.4,64.1 460.4,64.2 459.4,64.5 458.4,64.8 457.4,65.1 456.4,65.5 455.4,65.8 454.4,66.1 453.4,66.4 452.4,66.8 451.4,67.3 450.4,68.1 449.4,68.8 448.4,69.5 447.4,70.3 446.4,71.0 445.4,72.2 444.4,73.7 443.4,75.2 442.4,76.6 441.4,78.1 440.4,79.6 439.4,81.0 438.4,82.3 437.4,83.7 436.4,85.1 435.4,86.4 434.4,87.0 433.4,86.9 432.4,86.9 431.4,86.8 430.4,86.7 429.4,86.7 428.4,86.6 427.4,87.1 426.4,87.9 425.4,88.7 424.4,89.5 423.4,90.3 422.4,91.1 421.4,91.4 420.4,91.3 419.4,91.2 418.4,91.1 417.4,91.0 416.4,91.5 415.4,92.5 414.4,93.4 413.4,94.3 412.4,95.2 411.4,96.1 410.4,97.0 409.4,98.2 408.4,99.6 407.4,100.9 406.4,102.3 405.4,103.7 404.4,105.0 403.4,106.4 402.4,107.7 401.4,109.1 400.4,110.5 399.4,111.3 398.4,111.8 397.4,112.3 396.4,112.8 395.4,113.3 394.4,113.8 393.4,114.3 392.4,114.8 391.4,115.3 390.4,115.8 389.4,116.2 388.4,116.4 387.4,116.7 386.4,116.9 385.4,117.2 384.4,117.4 383.4,117.7 382.4,117.9 381.4,118.2 380.4,118.4 379.4,118.7 378.4,118.9 377.4,119.6 376.4,120.6 375.4,121.6 374.4,122.5 373.4,123.4 372.4,124.2 371.4,125.1 370.4,125.9 369.4,126.8 368.4,127.7 367.4,128.9 366.4,130.4 365.4,131.9 364.4,133.4 363.4,134.9 362.4,136.4 361.4,137.2 360.4,137.5 359.4,137.9 358.4,138.8 357.4,140.1 356.4,141.5 355.4,142.8 354.4,144.1 353.4,145.5 352.4,146.1 351.4,146.3 350.4,146.4 349.4,146.6 348.4,146.8 347.4,146.9 346.4,148.0 345.4,149.6 344.4,151.2 343.4,152.8 342.4,154.4 341.4,154.8 340.4,154.6 339.4,154.3 338.4,154.1 337.4,153.4 336.4,152.4 335.4,151.4 334.4,150.4 333.4,149.4 332.4,148.4 331.4,147.3 330.4,146.1 329.4,144.9 328.4,143.7 327.4,142.5 326.4,141.1 325.4,139.6 324.4,138.1 323.4,136.6 322.4,137.2 321.4,139.2 320.4,141.2 319.4,143.2 318.4,144.5 317.4,145.3 316.4,146.1 315.4,146.9 314.4,147.7 313.4,148.6 312.4,149.6 311.4,150.6 310.4,151.6 309.4,152.6 308.4,153.6 307.4,155.7 306.4,158.5 305.4,161.3 304.4,164.1 303.4,166.9 302.4,167.2 301.4,165.8 300.4,164.4 299.4,163.0 298.4,161.6 297.4,161.2 296.4,161.5 295.4,161.9 294.4,163.7 293.4,166.5 292.4,169.3 291.4,172.1 290.4,174.9 289.4,176.9 288.4,178.3 287.4,179.7 286.4,181.1 285.4,182.6 284.4,184.0 283.4,185.4 282.4,187.4 281.4,189.7 280.4,192.1 279.4,194.4 278.4,196.7 277.4,199.1 276.4,201.5 275.4,203.9 274.4,206.4 273.4,208.8 272.4,211.2 271.4,213.7 270.4,216.1 269.4,218.6 268.4,221.0 267.4,223.0 266.4,224.7 265.4,226.4 264.4,228.1 263.4,229.8 262.4,231.5 261.4,233.2 260.4,234.9 259.4,236.6 258.4,238.3 257.4,240.0 256.4,241.6 255.4,243.2 254.4,244.8 253.4,246.5 252.4,248.1 251.4,249.7 250.4,251.3 249.4,252.7 248.4,253.9 247.4,255.0 246.4,256.2 245.4,257.4 244.4,258.5 243.4,259.7 242.4,260.9 241.4,262.0 240.4,263.2 239.4,264.3 238.4,265.4 237.4,266.5 236.4,267.6 235.4,268.7 234.4,269.8 233.4,270.9 232.4,272.0 231.4,273.1 230.4,274.0 229.4,274.9 228.4,275.8 227.4,276.7 226.4,277.6 225.4,278.5 224.4,279.4 223.4,280.3 222.4,281.2 221.4,282.1 220.4,282.8 219.4,283.2 218.4,283.6 217.4,284.0 216.4,284.5 215.4,284.9 214.4,285.3 213.4,285.8 212.4,286.2 211.4,286.6 210.4,287.3 209.4,288.3 208.4,289.2 207.4,290.1 206.4,291.0 205.4,291.9 204.4,292.8 203.4,293.7 202.4,294.6 201.4,295.3 200.4,295.8 199.4,296.3 198.4,296.8 197.4,297.3 196.4,297.8 195.4,298.3 194.4,298.8 193.4,299.2 192.4,299.5 191.4,299.8 190.4,300.2 189.4,300.5 188.4,300.8 187.4,301.1 186.4,301.5 185.4,302.1 184.4,302.9 183.4,303.7 182.4,304.5 181.4,305.3 180.4,306.1 179.4,306.7 178.4,307.1 177.4,307.6 176.4,308.0 175.4,308.5 174.4,308.9 173.4,309.4 172.4,309.8 171.4,310.3 170.4,310.8 169.4,311.3 168.4,311.8 167.4,312.3 166.4,312.8 165.4,313.3 164.4,313.8 163.4,314.3 162.4,314.8 161.4,315.1 160.4,315.3 159.4,315.5 158.4,315.7 157.4,315.9 156.4,316.1 155.4,316.3 154.4,316.5 153.4,316.7 152.4,316.9 151.4,317.2 150.4,317.5 149.4,317.8 148.4,318.1 147.4,318.4 146.4,318.7 145.4,319.0 144.4,319.3 143.4,319.6 142.4,319.9 141.4,320.0 140.4,319.9 139.4,319.9 138.4,319.9 137.4,319.8 136.4,319.8 135.4,319.7 134.4,319.7 133.4,319.7 132.4,319.6 131.4,319.8 130.4,320.0 129.4,320.2 128.4,320.5 127.4,320.8 126.4,321.0 125.4,321.2 124.4,321.5 123.4,321.6 122.4,321.5 121.4,321.4 120.4,321.3 119.4,321.3 118.4,321.2 117.4,321.1 116.4,321.0 115.4,321.2 114.4,321.5 113.4,321.7 112.4,322.0 111.4,322.3 110.4,322.6 109.4,322.9 108.4,323.2 107.4,323.4 106.4,323.7 105.4,324.0 104.4,324.3 103.4,324.5 102.4,324.7 101.4,324.8 100.4,325.0 99.4,325.2 98.4,325.3 97.4,325.5 96.4,325.7 95.4,325.8 94.4,326.0 93.4,326.2 92.4,326.3 91.4,326.3 90.4,326.3 89.4,326.2 88.4,326.1 87.4,326.0 86.4,325.9 85.4,325.8 84.4,325.8 83.4,325.7 82.4,325.6Z" fill="url(#pyel)"/>
<clipPath id="cw"><rect x="80" y="40" width="362" height="300"/></clipPath>
<path clip-path="url(#cw)" d="M82.4,325.6 83.4,325.7 84.4,325.8 85.4,325.8 86.4,325.9 87.4,326.0 88.4,326.1 89.4,326.2 90.4,326.3 91.4,326.3 92.4,326.3 93.4,326.2 94.4,326.0 95.4,325.8 96.4,325.7 97.4,325.5 98.4,325.3 99.4,325.2 100.4,325.0 101.4,324.8 102.4,324.7 103.4,324.5 104.4,324.3 105.4,324.0 106.4,323.7 107.4,323.4 108.4,323.2 109.4,322.9 110.4,322.6 111.4,322.3 112.4,322.0 113.4,321.7 114.4,321.5 115.4,321.2 116.4,321.0 117.4,321.1 118.4,321.2 119.4,321.3 120.4,321.3 121.4,321.4 122.4,321.5 123.4,321.6 124.4,321.5 125.4,321.2 126.4,321.0 127.4,320.8 128.4,320.5 129.4,320.2 130.4,320.0 131.4,319.8 132.4,319.6 133.4,319.7 134.4,319.7 135.4,319.7 136.4,319.8 137.4,319.8 138.4,319.9 139.4,319.9 140.4,319.9 141.4,320.0 142.4,319.9 143.4,319.6 144.4,319.3 145.4,319.0 146.4,318.7 147.4,318.4 148.4,318.1 149.4,317.8 150.4,317.5 151.4,317.2 152.4,316.9 153.4,316.7 154.4,316.5 155.4,316.3 156.4,316.1 157.4,315.9 158.4,315.7 159.4,315.5 160.4,315.3 161.4,315.1 162.4,314.8 163.4,314.3 164.4,313.8 165.4,313.3 166.4,312.8 167.4,312.3 168.4,311.8 169.4,311.3 170.4,310.8 171.4,310.3 172.4,309.8 173.4,309.4 174.4,308.9 175.4,308.5 176.4,308.0 177.4,307.6 178.4,307.1 179.4,306.7 180.4,306.1 181.4,305.3 182.4,304.5 183.4,303.7 184.4,302.9 185.4,302.1 186.4,301.5 187.4,301.1 188.4,300.8 189.4,300.5 190.4,300.2 191.4,299.8 192.4,299.5 193.4,299.2 194.4,298.8 195.4,298.3 196.4,297.8 197.4,297.3 198.4,296.8 199.4,296.3 200.4,295.8 201.4,295.3 202.4,294.6 203.4,293.7 204.4,292.8 205.4,291.9 206.4,291.0 207.4,290.1 208.4,289.2 209.4,288.3 210.4,287.3 211.4,286.6 212.4,286.2 213.4,285.8 214.4,285.3 215.4,284.9 216.4,284.5 217.4,284.0 218.4,283.6 219.4,283.2 220.4,282.8 221.4,282.1 222.4,281.2 223.4,280.3 224.4,279.4 225.4,278.5 226.4,277.6 227.4,276.7 228.4,275.8 229.4,274.9 230.4,274.0 231.4,273.1 232.4,272.0 233.4,270.9 234.4,269.8 235.4,268.7 236.4,267.6 237.4,266.5 238.4,265.4 239.4,264.3 240.4,263.2 241.4,262.0 242.4,260.9 243.4,259.7 244.4,258.5 245.4,257.4 246.4,256.2 247.4,255.0 248.4,253.9 249.4,252.7 250.4,251.3 251.4,249.7 252.4,248.1 253.4,246.5 254.4,244.8 255.4,243.2 256.4,241.6 257.4,240.0 258.4,238.3 259.4,236.6 260.4,234.9 261.4,233.2 262.4,231.5 263.4,229.8 264.4,228.1 265.4,226.4 266.4,224.7 267.4,223.0 268.4,221.0 269.4,218.6 270.4,216.1 271.4,213.7 272.4,211.2 273.4,208.8 274.4,206.4 275.4,203.9 276.4,201.5 277.4,199.1 278.4,196.7 279.4,194.4 280.4,192.1 281.4,189.7 282.4,187.4 283.4,185.4 284.4,184.0 285.4,182.6 286.4,181.1 287.4,179.7 288.4,178.3 289.4,176.9 290.4,174.9 291.4,172.1 292.4,169.3 293.4,166.5 294.4,163.7 295.4,161.9 296.4,161.5 297.4,161.2 298.4,161.6 299.4,163.0 300.4,164.4 301.4,165.8 302.4,167.2 303.4,166.9 304.4,164.1 305.4,161.3 306.4,158.5 307.4,155.7 308.4,153.6 309.4,152.6 310.4,151.6 311.4,150.6 312.4,149.6 313.4,148.6 314.4,147.7 315.4,146.9 316.4,146.1 317.4,145.3 318.4,144.5 319.4,143.2 320.4,141.2 321.4,139.2 322.4,137.2 323.4,136.6 324.4,138.1 325.4,139.6 326.4,141.1 327.4,142.5 328.4,143.7 329.4,144.9 330.4,146.1 331.4,147.3 332.4,148.4 333.4,149.4 334.4,150.4 335.4,151.4 336.4,152.4 337.4,153.4 338.4,154.1 339.4,154.3 340.4,154.6 341.4,154.8 342.4,154.4 343.4,152.8 344.4,151.2 345.4,149.6 346.4,148.0 347.4,146.9 348.4,146.8 349.4,146.6 350.4,146.4 351.4,146.3 352.4,146.1 353.4,145.5 354.4,144.1 355.4,142.8 356.4,141.5 357.4,140.1 358.4,138.8 359.4,137.9 360.4,137.5 361.4,137.2 362.4,136.4 363.4,134.9 364.4,133.4 365.4,131.9 366.4,128.5 367.4,127.2 368.4,125.9 369.4,124.6 370.4,123.4 371.4,122.5 372.4,121.7 373.4,120.8 374.4,119.9 375.4,119.1 376.4,118.3 377.4,117.4 378.4,116.8 379.4,116.6 380.4,116.3 381.4,116.0 382.4,115.7 383.4,115.4 384.4,115.1 385.4,114.9 386.4,114.6 387.4,114.3 388.4,114.0 389.4,113.7 390.4,113.4 391.4,112.9 392.4,112.4 393.4,111.9 394.4,111.4 395.4,110.9 396.4,110.4 397.4,109.9 398.4,109.4 399.4,108.9 400.4,108.0 401.4,106.6 402.4,105.2 403.4,103.8 404.4,102.4 405.4,101.0 406.4,99.6 407.4,98.2 408.4,96.8 409.4,95.4 410.4,94.2 411.4,93.3 412.4,92.4 413.4,91.4 414.4,90.5 415.4,89.6 416.4,88.7 417.4,88.2 418.4,88.3 419.4,88.3 420.4,88.4 421.4,88.5 422.4,88.2 423.4,87.4 424.4,86.6 425.4,85.7 426.4,84.9 427.4,84.1 428.4,83.5 429.4,83.5 430.4,83.5 431.4,83.5 432.4,83.5 433.4,83.5 434.4,83.5 435.4,83.0 436.4,81.6 437.4,80.2 438.4,78.8 439.4,77.4 440.4,76.0 441.4,74.5 442.4,73.0 443.4,71.5 444.4,70.0 445.4,68.5 446.4,67.2 447.4,66.4 448.4,65.6 449.4,64.7 450.4,63.9 451.4,63.1 452.4,62.4 453.4,62.0 454.4,61.7 455.4,61.3 456.4,60.9 457.4,60.5 458.4,60.2 459.4,59.8 460.4,59.5 461.4,59.3 462.4,59.1 463.4,59.0 464.4,58.8 465.4,58.6 466.4,58.4 467.4,58.3 468.4,58.2 469.4,58.3 470.4,58.4 471.4,58.5 472.4,58.6 473.4,58.7 474.4,58.8 475.4,58.9 476.4,59.1 477.4,59.4 478.4,59.7 479.4,60.0 480.4,60.4 481.4,60.7 482.4,61.0 483.4,61.3 484.4,61.6 485.4,62.0 486.4,62.3 487.4,62.5 488.4,62.8 489.4,63.1 490.4,63.4 491.4,63.7 492.4,64.0 493.4,64.2 494.4,64.5 495.4,64.8 496.4,65.1 497.4,65.4 498.4,65.7 499.4,66.1 500.4,66.4 501.4,66.8 502.4,67.1 503.4,67.5 504.4,67.8 505.4,68.2 506.4,68.6 507.4,68.9 508.4,69.3 509.4,69.6 510.4,69.9 511.4,70.2 512.4,70.4 513.4,70.7 514.4,70.9 515.4,71.2 516.4,71.4 517.4,71.7 518.4,71.9 519.4,72.2 520.4,72.4 521.4,72.7 522.4,72.9 523.4,73.2 524.4,73.4 525.4,73.8 526.4,74.6 527.4,75.3 528.4,76.0 529.4,76.7 530.4,77.5 531.4,78.2 532.4,78.9 533.4,79.7 534.4,80.4 535.4,81.1 536.4,81.8 537.4,82.3 538.4,82.9 539.4,83.5 540.4,84.1 541.4,84.6 542.4,85.2 543.4,85.8 544.4,86.3 545.4,86.9 546.4,87.5 547.4,88.1 548.4,88.6 549.4,89.2 550.4,89.8 551.4,90.4 552.4,90.9 553.4,91.5 554.4,92.1 555.4,92.7 556.4,93.3 557.4,93.9 558.4,94.4 559.4,95.0 560.4,95.6 561.4,96.2 562.4,96.7 563.4,97.2 564.4,97.6 565.4,98.1 566.4,98.5 567.4,99.0 568.4,99.4 569.4,99.9 570.4,100.3 571.4,100.8 572.4,101.2 573.4,101.7 574.4,102.4 575.4,103.6 576.4,104.7 577.4,105.9 578.4,107.1 579.4,108.2 580.4,109.4 581.4,110.5 582.4,111.7 583.4,112.9 584.4,114.0 585.4,115.1 586.4,116.2 587.4,117.4 588.4,118.5 589.4,119.6 590.4,120.7 591.4,121.9 592.4,123.1 593.4,124.4 594.4,125.6 595.4,126.9 596.4,128.2 597.4,129.5 598.4,130.8 599.4,132.1 600.4,133.2 601.4,134.2 602.4,135.2 603.4,136.1 604.4,137.1 605.4,138.1 606.4,139.1 607.4,140.0 608.4,141.0 609.4,142.0 610.4,142.9 611.4,143.9 612.4,144.9 613.4,145.9 614.4,146.9 615.4,147.9 616.4,148.9 617.4,149.9 618.4,150.9 619.4,151.9 620.4,152.9 621.4,153.8 622.4,154.7 623.4,155.6 624.4,156.5 625.4,157.4 626.4,158.3 627.4,159.2 628.4,160.1 629.4,161.0 630.4,161.9 631.4,162.7 632.4,163.5 633.4,164.3 634.4,165.1 635.4,165.9 636.4,166.7 637.4,167.5 638.4,168.3 639.4,169.1 640.4,169.9 641.4,170.7 642.4,171.5 643.4,172.3 644.4,173.1 645.4,173.9 646.4,174.7 647.4,175.5 648.4,176.3 649.4,177.1 650.4,177.8 651.4,178.6 652.4,179.3 653.4,180.1 654.4,180.8 655.4,181.6 656.4,182.3 657.4,183.1 658.4,183.8 659.4,184.6 660.4,185.4 661.4,186.2 662.4,186.9 663.4,187.7 664.4,188.5 665.4,189.3 666.4,190.1 667.4,190.9 668.4,191.7 669.4,192.5 670.4,193.3 672.0,194.6 L672.0,210.3 670.4,209.0 669.4,208.1 668.4,207.3 667.4,206.4 666.4,205.6 665.4,204.8 664.4,203.9 663.4,203.1 662.4,202.2 661.4,201.4 660.4,200.5 659.4,199.7 658.4,198.9 657.4,198.0 656.4,197.2 655.4,196.3 654.4,195.5 653.4,194.7 652.4,193.8 651.4,193.0 650.4,192.1 649.4,191.4 648.4,190.8 647.4,190.2 646.4,189.6 645.4,188.8 644.4,188.0 643.4,187.2 642.4,186.4 641.4,185.6 640.4,184.8 639.4,184.0 638.4,183.2 637.4,182.4 636.4,181.6 635.4,180.8 634.4,180.0 633.4,179.2 632.4,178.4 631.4,177.6 630.4,176.8 629.4,176.0 628.4,175.2 627.4,174.4 626.4,173.6 625.4,172.8 624.4,171.9 623.4,171.0 622.4,170.1 621.4,169.2 620.4,168.3 619.4,167.4 618.4,166.5 617.4,165.6 616.4,164.7 615.4,163.6 614.4,162.5 613.4,161.4 612.4,160.3 611.4,159.2 610.4,158.1 609.4,157.0 608.4,155.9 607.4,154.8 606.4,153.7 605.4,152.6 604.4,151.4 603.4,150.2 602.4,149.0 601.4,147.8 600.4,146.6 599.4,145.4 598.4,144.2 597.4,143.0 596.4,141.8 595.4,140.6 594.4,139.5 593.4,138.4 592.4,137.3 591.4,136.2 590.4,135.1 589.4,134.0 588.4,132.9 587.4,131.8 586.4,130.7 585.4,129.7 584.4,128.7 583.4,127.7 582.4,126.7 581.4,125.7 580.4,124.7 579.4,123.7 578.4,122.7 577.4,121.6 576.4,120.5 575.4,119.4 574.4,118.2 573.4,117.1 572.4,116.0 571.4,114.9 570.4,113.7 569.4,112.9 568.4,112.2 567.4,111.5 566.4,110.8 565.4,110.1 564.4,109.4 563.4,108.7 562.4,108.0 561.4,107.3 560.4,106.6 559.4,105.9 558.4,105.3 557.4,104.7 556.4,104.1 555.4,103.5 554.4,102.9 553.4,102.3 552.4,101.7 551.4,101.1 550.4,100.5 549.4,99.9 548.4,99.3 547.4,98.7 546.4,98.1 545.4,97.5 544.4,96.9 543.4,96.3 542.4,95.7 541.4,95.1 540.4,94.5 539.4,93.9 538.4,93.2 537.4,92.5 536.4,91.8 535.4,91.1 534.4,90.4 533.4,89.7 532.4,89.0 531.4,88.3 530.4,87.6 529.4,86.9 528.4,86.3 527.4,85.7 526.4,85.1 525.4,84.5 524.4,83.9 523.4,83.3 522.4,82.7 521.4,82.1 520.4,81.5 519.4,81.1 518.4,80.7 517.4,80.4 516.4,80.0 515.4,79.7 514.4,79.3 513.4,79.0 512.4,78.6 511.4,78.3 510.4,77.9 509.4,77.5 508.4,77.1 507.4,76.6 506.4,76.1 505.4,75.7 504.4,75.2 503.4,74.8 502.4,74.3 501.4,73.9 500.4,73.4 499.4,72.9 498.4,72.5 497.4,72.1 496.4,71.8 495.4,71.4 494.4,71.1 493.4,70.8 492.4,70.4 491.4,70.1 490.4,69.8 489.4,69.4 488.4,69.1 487.4,68.8 486.4,68.4 485.4,68.1 484.4,67.7 483.4,67.3 482.4,66.9 481.4,66.5 480.4,66.1 479.4,65.7 478.4,65.3 477.4,64.9 476.4,64.5 475.4,64.2 474.4,64.1 473.4,64.0 472.4,63.8 471.4,63.7 470.4,63.6 469.4,63.5 468.4,63.3 467.4,63.4 466.4,63.5 465.4,63.6 464.4,63.8 463.4,63.9 462.4,64.0 461.4,64.1 460.4,64.2 459.4,64.5 458.4,64.8 457.4,65.1 456.4,65.5 455.4,65.8 454.4,66.1 453.4,66.4 452.4,66.8 451.4,67.3 450.4,68.1 449.4,68.8 448.4,69.5 447.4,70.3 446.4,71.0 445.4,72.2 444.4,73.7 443.4,75.2 442.4,76.6 441.4,78.1 440.4,79.6 439.4,81.0 438.4,82.3 437.4,83.7 436.4,85.1 435.4,86.4 434.4,87.0 433.4,86.9 432.4,86.9 431.4,86.8 430.4,86.7 429.4,86.7 428.4,86.6 427.4,87.1 426.4,87.9 425.4,88.7 424.4,89.5 423.4,90.3 422.4,91.1 421.4,91.4 420.4,91.3 419.4,91.2 418.4,91.1 417.4,91.0 416.4,91.5 415.4,92.5 414.4,93.4 413.4,94.3 412.4,95.2 411.4,96.1 410.4,97.0 409.4,98.2 408.4,99.6 407.4,100.9 406.4,102.3 405.4,103.7 404.4,105.0 403.4,106.4 402.4,107.7 401.4,109.1 400.4,110.5 399.4,111.3 398.4,111.8 397.4,112.3 396.4,112.8 395.4,113.3 394.4,113.8 393.4,114.3 392.4,114.8 391.4,115.3 390.4,115.8 389.4,116.2 388.4,116.4 387.4,116.7 386.4,116.9 385.4,117.2 384.4,117.4 383.4,117.7 382.4,117.9 381.4,118.2 380.4,118.4 379.4,118.7 378.4,118.9 377.4,119.6 376.4,120.6 375.4,121.6 374.4,122.5 373.4,123.4 372.4,124.2 371.4,125.1 370.4,125.9 369.4,126.8 368.4,127.7 367.4,128.9 366.4,130.4 365.4,131.9 364.4,133.4 363.4,134.9 362.4,136.4 361.4,137.2 360.4,137.5 359.4,137.9 358.4,138.8 357.4,140.1 356.4,141.5 355.4,142.8 354.4,144.1 353.4,145.5 352.4,146.1 351.4,146.3 350.4,146.4 349.4,146.6 348.4,146.8 347.4,146.9 346.4,148.0 345.4,149.6 344.4,151.2 343.4,152.8 342.4,154.4 341.4,154.8 340.4,154.6 339.4,154.3 338.4,154.1 337.4,153.4 336.4,152.4 335.4,151.4 334.4,150.4 333.4,149.4 332.4,148.4 331.4,147.3 330.4,146.1 329.4,144.9 328.4,143.7 327.4,142.5 326.4,141.1 325.4,139.6 324.4,138.1 323.4,136.6 322.4,137.2 321.4,139.2 320.4,141.2 319.4,143.2 318.4,144.5 317.4,145.3 316.4,146.1 315.4,146.9 314.4,147.7 313.4,148.6 312.4,149.6 311.4,150.6 310.4,151.6 309.4,152.6 308.4,153.6 307.4,155.7 306.4,158.5 305.4,161.3 304.4,164.1 303.4,166.9 302.4,167.2 301.4,165.8 300.4,164.4 299.4,163.0 298.4,161.6 297.4,161.2 296.4,161.5 295.4,161.9 294.4,163.7 293.4,166.5 292.4,169.3 291.4,172.1 290.4,174.9 289.4,176.9 288.4,178.3 287.4,179.7 286.4,181.1 285.4,182.6 284.4,184.0 283.4,185.4 282.4,187.4 281.4,189.7 280.4,192.1 279.4,194.4 278.4,196.7 277.4,199.1 276.4,201.5 275.4,203.9 274.4,206.4 273.4,208.8 272.4,211.2 271.4,213.7 270.4,216.1 269.4,218.6 268.4,221.0 267.4,223.0 266.4,224.7 265.4,226.4 264.4,228.1 263.4,229.8 262.4,231.5 261.4,233.2 260.4,234.9 259.4,236.6 258.4,238.3 257.4,240.0 256.4,241.6 255.4,243.2 254.4,244.8 253.4,246.5 252.4,248.1 251.4,249.7 250.4,251.3 249.4,252.7 248.4,253.9 247.4,255.0 246.4,256.2 245.4,257.4 244.4,258.5 243.4,259.7 242.4,260.9 241.4,262.0 240.4,263.2 239.4,264.3 238.4,265.4 237.4,266.5 236.4,267.6 235.4,268.7 234.4,269.8 233.4,270.9 232.4,272.0 231.4,273.1 230.4,274.0 229.4,274.9 228.4,275.8 227.4,276.7 226.4,277.6 225.4,278.5 224.4,279.4 223.4,280.3 222.4,281.2 221.4,282.1 220.4,282.8 219.4,283.2 218.4,283.6 217.4,284.0 216.4,284.5 215.4,284.9 214.4,285.3 213.4,285.8 212.4,286.2 211.4,286.6 210.4,287.3 209.4,288.3 208.4,289.2 207.4,290.1 206.4,291.0 205.4,291.9 204.4,292.8 203.4,293.7 202.4,294.6 201.4,295.3 200.4,295.8 199.4,296.3 198.4,296.8 197.4,297.3 196.4,297.8 195.4,298.3 194.4,298.8 193.4,299.2 192.4,299.5 191.4,299.8 190.4,300.2 189.4,300.5 188.4,300.8 187.4,301.1 186.4,301.5 185.4,302.1 184.4,302.9 183.4,303.7 182.4,304.5 181.4,305.3 180.4,306.1 179.4,306.7 178.4,307.1 177.4,307.6 176.4,308.0 175.4,308.5 174.4,308.9 173.4,309.4 172.4,309.8 171.4,310.3 170.4,310.8 169.4,311.3 168.4,311.8 167.4,312.3 166.4,312.8 165.4,313.3 164.4,313.8 163.4,314.3 162.4,314.8 161.4,315.1 160.4,315.3 159.4,315.5 158.4,315.7 157.4,315.9 156.4,316.1 155.4,316.3 154.4,316.5 153.4,316.7 152.4,316.9 151.4,317.2 150.4,317.5 149.4,317.8 148.4,318.1 147.4,318.4 146.4,318.7 145.4,319.0 144.4,319.3 143.4,319.6 142.4,319.9 141.4,320.0 140.4,319.9 139.4,319.9 138.4,319.9 137.4,319.8 136.4,319.8 135.4,319.7 134.4,319.7 133.4,319.7 132.4,319.6 131.4,319.8 130.4,320.0 129.4,320.2 128.4,320.5 127.4,320.8 126.4,321.0 125.4,321.2 124.4,321.5 123.4,321.6 122.4,321.5 121.4,321.4 120.4,321.3 119.4,321.3 118.4,321.2 117.4,321.1 116.4,321.0 115.4,321.2 114.4,321.5 113.4,321.7 112.4,322.0 111.4,322.3 110.4,322.6 109.4,322.9 108.4,323.2 107.4,323.4 106.4,323.7 105.4,324.0 104.4,324.3 103.4,324.5 102.4,324.7 101.4,324.8 100.4,325.0 99.4,325.2 98.4,325.3 97.4,325.5 96.4,325.7 95.4,325.8 94.4,326.0 93.4,326.2 92.4,326.3 91.4,326.3 90.4,326.3 89.4,326.2 88.4,326.1 87.4,326.0 86.4,325.9 85.4,325.8 84.4,325.8 83.4,325.7 82.4,325.6Z" fill="#fff"/>
</g>
<path d="M82.4,49.5V335.5H672.0 M76.80000000000001,335.50H82.4 M76.80000000000001,307.50H82.4 M76.80000000000001,278.75H82.4 M76.80000000000001,250.75H82.4 M76.80000000000001,221.50H82.4 M76.80000000000001,193.00H82.4 M76.80000000000001,164.50H82.4 M76.80000000000001,135.75H82.4 M76.80000000000001,106.75H82.4 M76.80000000000001,78.75H82.4 M76.80000000000001,49.50H82.4 M82.40,335.5V340.2 M131.70,335.5V340.2 M181.30,335.5V340.2 M230.80,335.5V340.2 M278.60,335.5V340.2 M328.00,335.5V340.2 M377.40,335.5V340.2 M426.60,335.5V340.2 M476.00,335.5V340.2 M525.50,335.5V340.2 M573.50,335.5V340.2 M622.60,335.5V340.2 M672.00,335.5V340.2" stroke="#000" stroke-width="1" fill="none"/>
<text class="m" x="60.0" y="340.6" font-size="14.3" textLength="8.2" lengthAdjust="spacingAndGlyphs">0</text>
<text class="m" x="60.0" y="312.6" font-size="14.3" textLength="8.2" lengthAdjust="spacingAndGlyphs">5</text>
<text class="m" x="50.9" y="283.9" font-size="14.3" textLength="17.3" lengthAdjust="spacingAndGlyphs">10</text>
<text class="m" x="50.9" y="255.8" font-size="14.3" textLength="17.3" lengthAdjust="spacingAndGlyphs">15</text>
<text class="m" x="50.9" y="226.6" font-size="14.3" textLength="17.3" lengthAdjust="spacingAndGlyphs">20</text>
<text class="m" x="50.9" y="198.1" font-size="14.3" textLength="17.3" lengthAdjust="spacingAndGlyphs">25</text>
<text class="m" x="50.9" y="169.6" font-size="14.3" textLength="17.3" lengthAdjust="spacingAndGlyphs">30</text>
<text class="m" x="50.9" y="140.8" font-size="14.3" textLength="17.3" lengthAdjust="spacingAndGlyphs">35</text>
<text class="m" x="50.9" y="111.8" font-size="14.3" textLength="17.3" lengthAdjust="spacingAndGlyphs">40</text>
<text class="m" x="50.9" y="83.8" font-size="14.3" textLength="17.3" lengthAdjust="spacingAndGlyphs">45</text>
<text class="m" x="50.9" y="54.6" font-size="14.3" textLength="17.3" lengthAdjust="spacingAndGlyphs">50</text>
<text class="m" x="64.3" y="360.6" font-size="14.5" textLength="36.3" lengthAdjust="spacingAndGlyphs">1930</text>
<text class="m" x="113.6" y="360.6" font-size="14.5" textLength="36.3" lengthAdjust="spacingAndGlyphs">1940</text>
<text class="m" x="163.2" y="360.6" font-size="14.5" textLength="36.3" lengthAdjust="spacingAndGlyphs">1950</text>
<text class="m" x="212.7" y="360.6" font-size="14.5" textLength="36.3" lengthAdjust="spacingAndGlyphs">1960</text>
<text class="m" x="260.5" y="360.6" font-size="14.5" textLength="36.3" lengthAdjust="spacingAndGlyphs">1970</text>
<text class="m" x="309.9" y="360.6" font-size="14.5" textLength="36.3" lengthAdjust="spacingAndGlyphs">1980</text>
<text class="m" x="359.3" y="360.6" font-size="14.5" textLength="36.3" lengthAdjust="spacingAndGlyphs">1990</text>
<text class="m" x="408.5" y="360.6" font-size="14.5" textLength="36.3" lengthAdjust="spacingAndGlyphs">2000</text>
<text class="m" x="457.9" y="360.6" font-size="14.5" textLength="36.3" lengthAdjust="spacingAndGlyphs">2010</text>
<text class="m" x="507.4" y="360.6" font-size="14.5" textLength="36.3" lengthAdjust="spacingAndGlyphs">2020</text>
<text class="m" x="555.4" y="360.6" font-size="14.5" textLength="36.3" lengthAdjust="spacingAndGlyphs">2030</text>
<text class="m" x="604.5" y="360.6" font-size="14.5" textLength="36.3" lengthAdjust="spacingAndGlyphs">2040</text>
<text class="m" x="653.9" y="360.6" font-size="14.5" textLength="36.3" lengthAdjust="spacingAndGlyphs">2050</text>
<text class="b" transform="translate(31.4,217.8) scale(1.277,1) rotate(-90)" font-size="20.5">Gboe</text>
<text class="t" x="199.1" y="31.3" font-size="17.5" textLength="299" lengthAdjust="spacingAndGlyphs">Vrchol v produkcií likvidných palív</text>
<rect x="46.9" y="377.1" width="596" height="21.6" fill="#fff" stroke="#000" stroke-width="1"/>
<rect x="53.0" y="384.2" width="9.7" height="8.3" fill="#b8782f"/>
<path d="M55.0,386.7h1.2M58.0,386.0h1.5M56.3,389.2h1.3M59.5,388.7h1.2M58.2,390.8h1.2" stroke="#e8d8c0" stroke-width="1.1"/>
<path d="M56.2,387.8h1.2M59.0,387.2h1M57.5,390.0h1" stroke="#5a4020" stroke-width="1"/>
<rect x="53.0" y="384.2" width="9.7" height="8.3" fill="none" stroke="#111" stroke-width="0.9"/>
<text class="l" x="68.9" y="392" font-size="12" textLength="76.7" lengthAdjust="spacingAndGlyphs">Regular Oil</text>
<rect x="155.8" y="384.2" width="10.0" height="8.3" fill="#000"/>
<rect x="155.8" y="384.2" width="10.0" height="8.3" fill="none" stroke="#111" stroke-width="0.9"/>
<text class="l" x="171.4" y="392" font-size="12" textLength="68.6" lengthAdjust="spacingAndGlyphs">Heavy etc</text>
<rect x="249.2" y="384.2" width="10.4" height="8.3" fill="#3aa0ff"/>
<path d="M250.2,386.4l2.2,2.4l2.4,-0.2l2.6,-2.8M250.39999999999998,389.4l2,2l2.4,-0.2l3,-3.4" stroke="#2a2a3a" stroke-width="1.1" fill="none"/>
<rect x="249.2" y="384.2" width="10.4" height="8.3" fill="none" stroke="#111" stroke-width="0.9"/>
<text class="l" x="264.9" y="392" font-size="12" textLength="78" lengthAdjust="spacingAndGlyphs">Deepwater</text>
<rect x="351.8" y="384.2" width="10.1" height="8.3" fill="#fff"/>
<rect x="351.8" y="384.2" width="10.1" height="8.3" fill="none" stroke="#111" stroke-width="0.9"/>
<text class="l" x="368" y="392" font-size="12" textLength="35.7" lengthAdjust="spacingAndGlyphs">Polar</text>
<rect x="413.4" y="384.2" width="10.4" height="8.3" fill="#000"/>
<clipPath id="cl413"><rect x="414.2" y="385.0" width="8.8" height="6.700000000000001"/></clipPath>
<path clip-path="url(#cl413)" d="M411.79999999999995,392.5l7.5,-8.3M416.29999999999995,392.5l7.5,-8.3M420.79999999999995,392.5l7.5,-8.3" stroke="#fff" stroke-width="1.9" fill="none"/>
<rect x="413.4" y="384.2" width="10.4" height="8.3" fill="none" stroke="#111" stroke-width="0.9"/>
<text class="l" x="429.4" y="392" font-size="12" textLength="30.6" lengthAdjust="spacingAndGlyphs">NGL</text>
<rect x="470.7" y="384.2" width="9.0" height="8.3" fill="#80ff80"/>
<rect x="476.7" y="388.09999999999997" width="1.4" height="1.4" fill="#4a2a52"/>
<rect x="470.7" y="384.2" width="9.0" height="8.3" fill="none" stroke="#111" stroke-width="0.9"/>
<text class="l" x="485.7" y="392" font-size="12" textLength="28" lengthAdjust="spacingAndGlyphs">Gas</text>
<rect x="523.8" y="384.2" width="9.0" height="8.3" fill="#ffff00"/>
<path d="M526.1999999999999,386.0h1.2M526.1999999999999,387.8h1.2M526.1999999999999,389.59999999999997h1.2M526.1999999999999,391.2h1.2M529.1999999999999,386.0h1.2M529.1999999999999,387.8h1.2M529.1999999999999,389.59999999999997h1.2M529.1999999999999,391.2h1.2" stroke="#555533" stroke-width="0.9" fill="none"/>
<rect x="523.8" y="384.2" width="9.0" height="8.3" fill="none" stroke="#111" stroke-width="0.9"/>
<text class="l" x="539" y="392" font-size="12" textLength="95.3" lengthAdjust="spacingAndGlyphs">Non-Con Gas</text>
</svg></body></html>
